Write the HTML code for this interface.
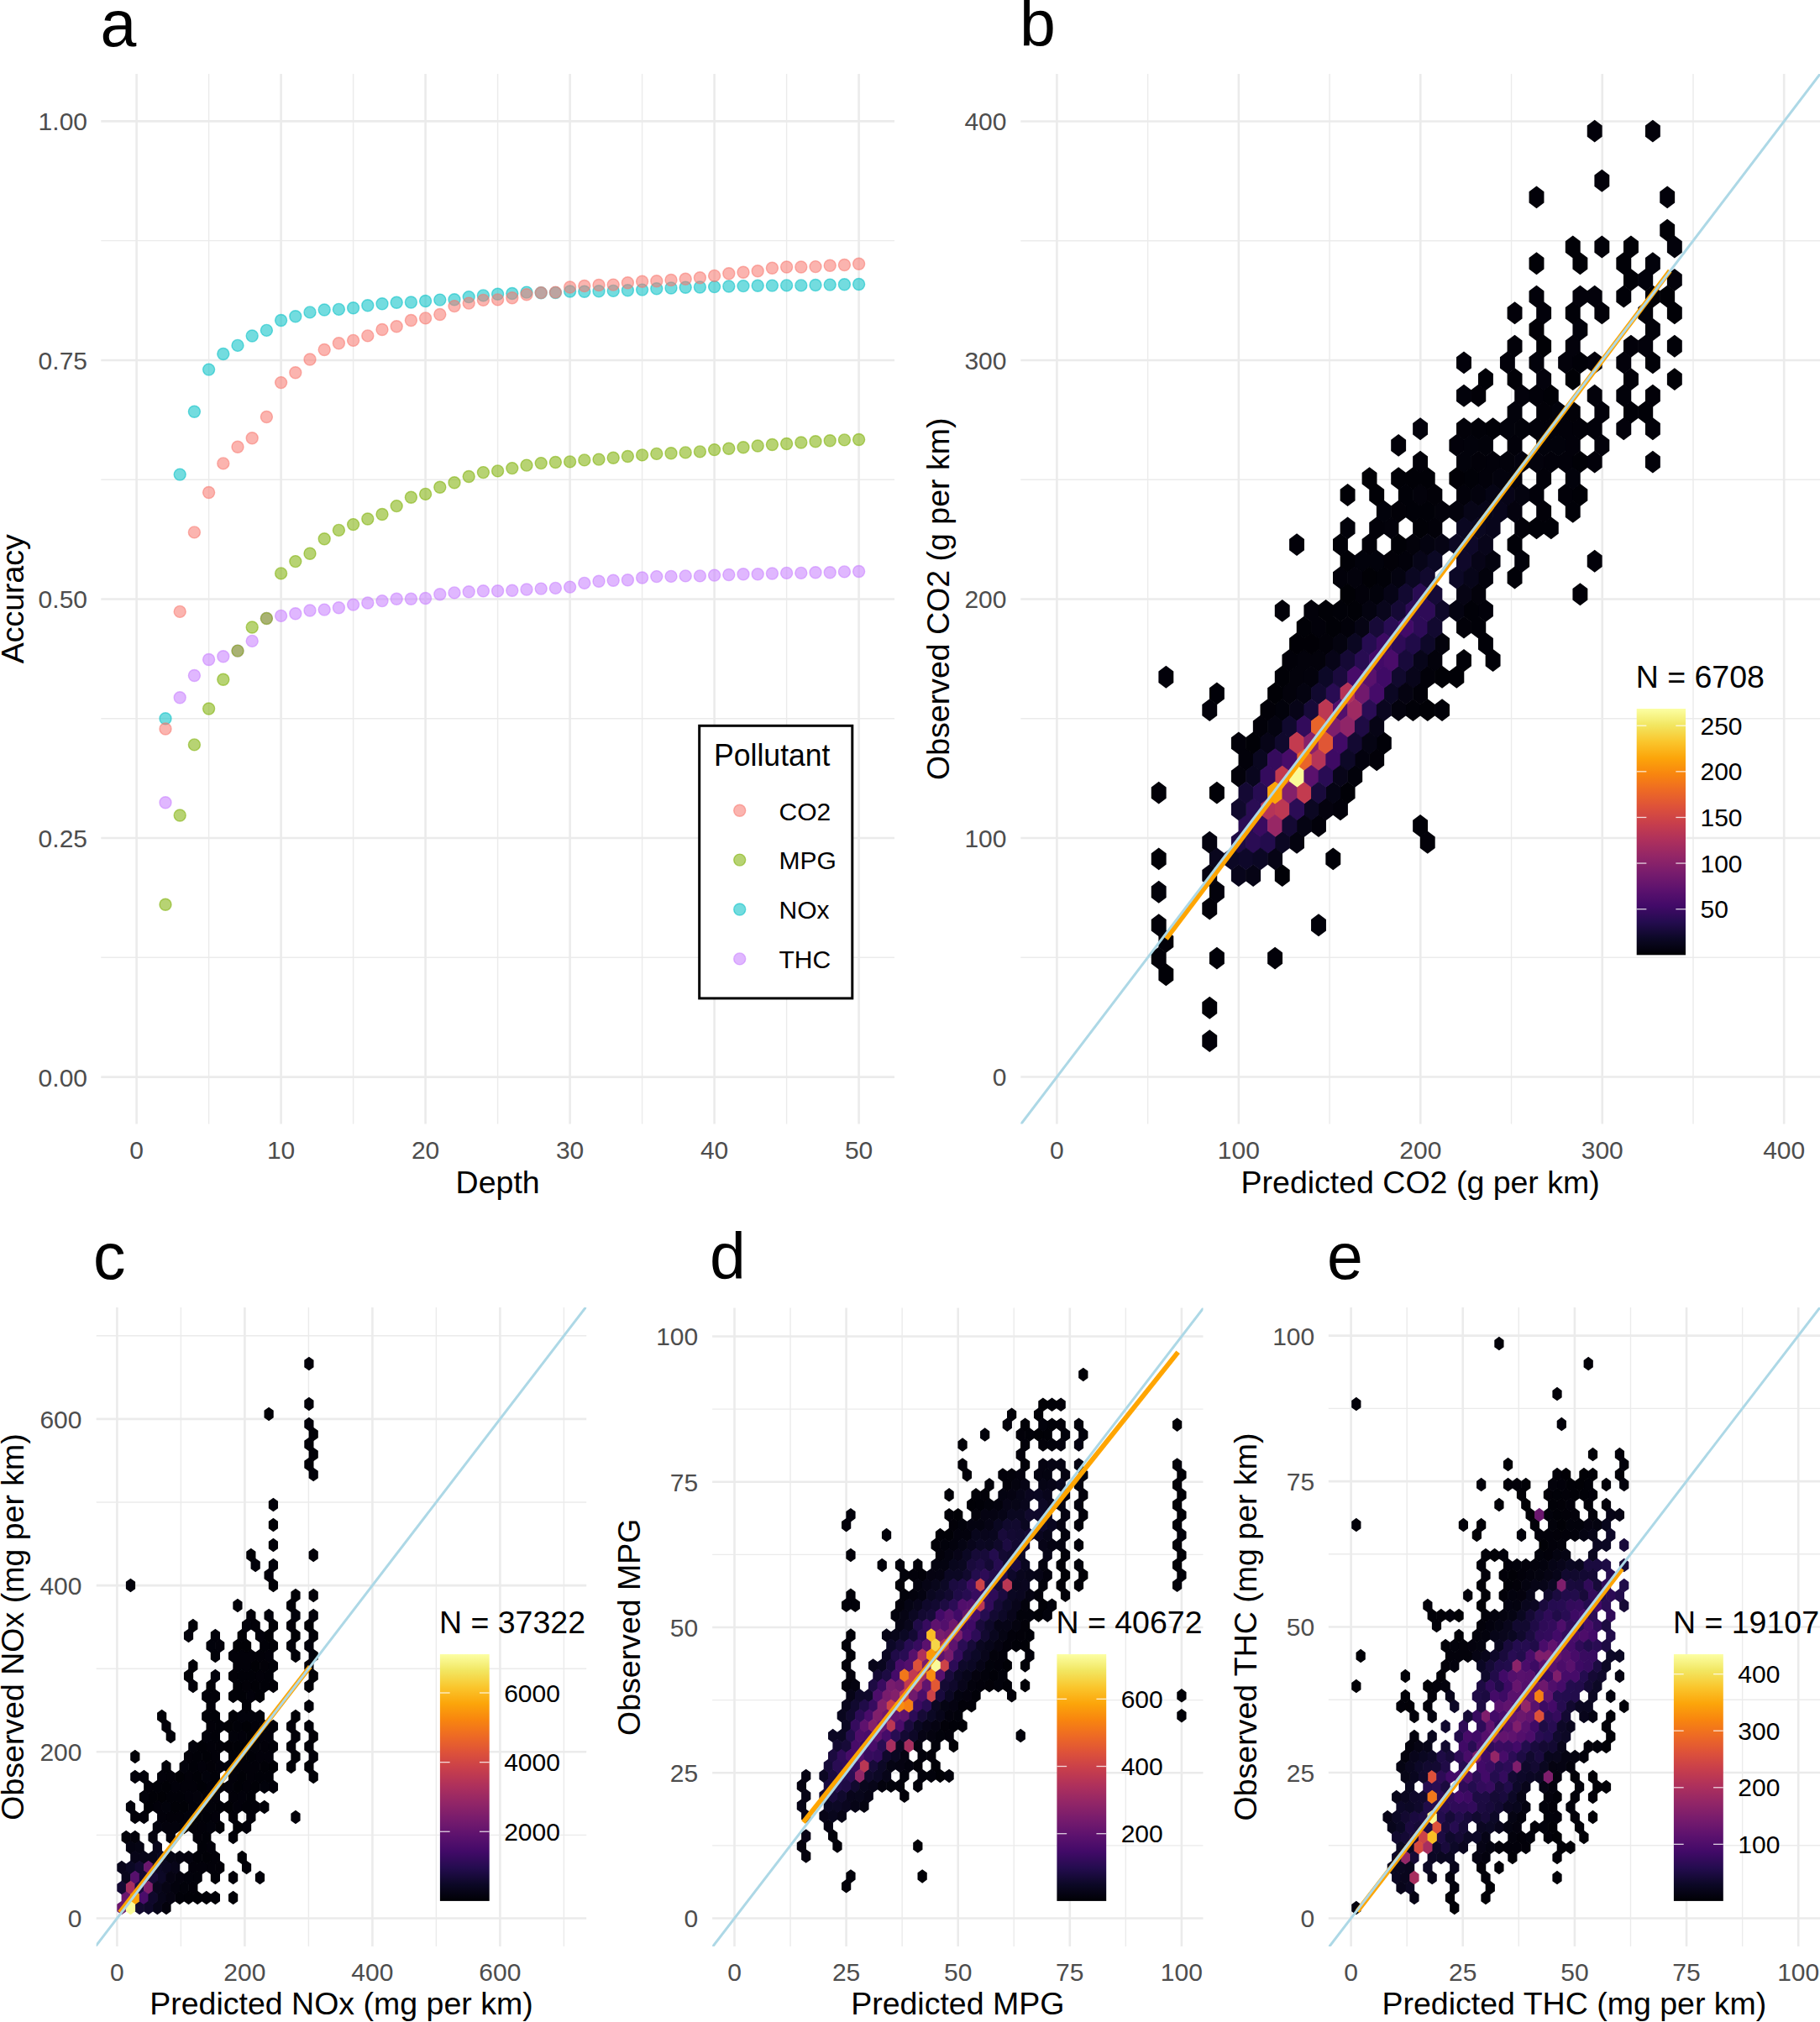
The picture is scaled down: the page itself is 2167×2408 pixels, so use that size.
<!DOCTYPE html>
<html><head><meta charset="utf-8"><title>Figure</title>
<style>html,body{margin:0;padding:0;background:#fff;}svg{display:block;}</style>
</head><body>
<svg width="2167" height="2408" viewBox="0 0 2167 2408" font-family='"Liberation Sans", Arial, Helvetica, sans-serif'>
<defs><linearGradient id="cb" x1="0" y1="0" x2="0" y2="1"><stop offset="0.0000" stop-color="#fcffa4"/><stop offset="0.0667" stop-color="#f2e661"/><stop offset="0.1333" stop-color="#fac62d"/><stop offset="0.2000" stop-color="#fca50a"/><stop offset="0.2667" stop-color="#f8850f"/><stop offset="0.3333" stop-color="#ed6925"/><stop offset="0.4000" stop-color="#dd513a"/><stop offset="0.4667" stop-color="#c73e4c"/><stop offset="0.5333" stop-color="#ae305c"/><stop offset="0.6000" stop-color="#932667"/><stop offset="0.6667" stop-color="#781c6d"/><stop offset="0.7333" stop-color="#5d126e"/><stop offset="0.8000" stop-color="#420a68"/><stop offset="0.8667" stop-color="#240c4f"/><stop offset="0.9333" stop-color="#0c0826"/><stop offset="1.0000" stop-color="#000004"/></linearGradient></defs>
<rect width="2167" height="2408" fill="#fff"/>
<line x1="248.60" y1="88" x2="248.60" y2="1338.5" stroke="#ebebeb" stroke-width="1.4"/>
<line x1="420.60" y1="88" x2="420.60" y2="1338.5" stroke="#ebebeb" stroke-width="1.4"/>
<line x1="592.60" y1="88" x2="592.60" y2="1338.5" stroke="#ebebeb" stroke-width="1.4"/>
<line x1="764.60" y1="88" x2="764.60" y2="1338.5" stroke="#ebebeb" stroke-width="1.4"/>
<line x1="936.60" y1="88" x2="936.60" y2="1338.5" stroke="#ebebeb" stroke-width="1.4"/>
<line x1="120.3" y1="1140.32" x2="1065" y2="1140.32" stroke="#ebebeb" stroke-width="1.4"/>
<line x1="120.3" y1="855.77" x2="1065" y2="855.77" stroke="#ebebeb" stroke-width="1.4"/>
<line x1="120.3" y1="571.22" x2="1065" y2="571.22" stroke="#ebebeb" stroke-width="1.4"/>
<line x1="120.3" y1="286.67" x2="1065" y2="286.67" stroke="#ebebeb" stroke-width="1.4"/>
<line x1="162.60" y1="88" x2="162.60" y2="1338.5" stroke="#ebebeb" stroke-width="2.6"/>
<line x1="334.60" y1="88" x2="334.60" y2="1338.5" stroke="#ebebeb" stroke-width="2.6"/>
<line x1="506.60" y1="88" x2="506.60" y2="1338.5" stroke="#ebebeb" stroke-width="2.6"/>
<line x1="678.60" y1="88" x2="678.60" y2="1338.5" stroke="#ebebeb" stroke-width="2.6"/>
<line x1="850.60" y1="88" x2="850.60" y2="1338.5" stroke="#ebebeb" stroke-width="2.6"/>
<line x1="1022.60" y1="88" x2="1022.60" y2="1338.5" stroke="#ebebeb" stroke-width="2.6"/>
<line x1="120.3" y1="1282.60" x2="1065" y2="1282.60" stroke="#ebebeb" stroke-width="2.6"/>
<line x1="120.3" y1="998.05" x2="1065" y2="998.05" stroke="#ebebeb" stroke-width="2.6"/>
<line x1="120.3" y1="713.50" x2="1065" y2="713.50" stroke="#ebebeb" stroke-width="2.6"/>
<line x1="120.3" y1="428.95" x2="1065" y2="428.95" stroke="#ebebeb" stroke-width="2.6"/>
<line x1="120.3" y1="144.40" x2="1065" y2="144.40" stroke="#ebebeb" stroke-width="2.6"/>
<text x="162.60" y="1379.8" font-size="30" fill="#4d4d4d" text-anchor="middle">0</text>
<text x="334.60" y="1379.8" font-size="30" fill="#4d4d4d" text-anchor="middle">10</text>
<text x="506.60" y="1379.8" font-size="30" fill="#4d4d4d" text-anchor="middle">20</text>
<text x="678.60" y="1379.8" font-size="30" fill="#4d4d4d" text-anchor="middle">30</text>
<text x="850.60" y="1379.8" font-size="30" fill="#4d4d4d" text-anchor="middle">40</text>
<text x="1022.60" y="1379.8" font-size="30" fill="#4d4d4d" text-anchor="middle">50</text>
<text x="104" y="1293.50" font-size="30" fill="#4d4d4d" text-anchor="end">0.00</text>
<text x="104" y="1008.95" font-size="30" fill="#4d4d4d" text-anchor="end">0.25</text>
<text x="104" y="724.40" font-size="30" fill="#4d4d4d" text-anchor="end">0.50</text>
<text x="104" y="439.85" font-size="30" fill="#4d4d4d" text-anchor="end">0.75</text>
<text x="104" y="155.30" font-size="30" fill="#4d4d4d" text-anchor="end">1.00</text>
<text x="592.65" y="1421" font-size="37.5" fill="#000" text-anchor="middle">Depth</text>
<text transform="translate(27.7,713.25) rotate(-90)" x="0" y="0" font-size="37.5" fill="#000" text-anchor="middle">Accuracy</text>
<text x="119.5" y="54.5" font-size="77" fill="#000">a</text>
<circle cx="197.00" cy="955.70" r="7.0" fill="#C77CFF" fill-opacity="0.55" stroke="#C77CFF" stroke-opacity="0.55" stroke-width="1.4"/>
<circle cx="214.20" cy="830.80" r="7.0" fill="#C77CFF" fill-opacity="0.55" stroke="#C77CFF" stroke-opacity="0.55" stroke-width="1.4"/>
<circle cx="231.40" cy="804.50" r="7.0" fill="#C77CFF" fill-opacity="0.55" stroke="#C77CFF" stroke-opacity="0.55" stroke-width="1.4"/>
<circle cx="248.60" cy="785.50" r="7.0" fill="#C77CFF" fill-opacity="0.55" stroke="#C77CFF" stroke-opacity="0.55" stroke-width="1.4"/>
<circle cx="265.80" cy="781.70" r="7.0" fill="#C77CFF" fill-opacity="0.55" stroke="#C77CFF" stroke-opacity="0.55" stroke-width="1.4"/>
<circle cx="283.00" cy="775.10" r="7.0" fill="#C77CFF" fill-opacity="0.55" stroke="#C77CFF" stroke-opacity="0.55" stroke-width="1.4"/>
<circle cx="300.20" cy="763.40" r="7.0" fill="#C77CFF" fill-opacity="0.55" stroke="#C77CFF" stroke-opacity="0.55" stroke-width="1.4"/>
<circle cx="317.40" cy="736.40" r="7.0" fill="#C77CFF" fill-opacity="0.55" stroke="#C77CFF" stroke-opacity="0.55" stroke-width="1.4"/>
<circle cx="334.60" cy="733.40" r="7.0" fill="#C77CFF" fill-opacity="0.55" stroke="#C77CFF" stroke-opacity="0.55" stroke-width="1.4"/>
<circle cx="351.80" cy="730.80" r="7.0" fill="#C77CFF" fill-opacity="0.55" stroke="#C77CFF" stroke-opacity="0.55" stroke-width="1.4"/>
<circle cx="369.00" cy="727.00" r="7.0" fill="#C77CFF" fill-opacity="0.55" stroke="#C77CFF" stroke-opacity="0.55" stroke-width="1.4"/>
<circle cx="386.20" cy="726.10" r="7.0" fill="#C77CFF" fill-opacity="0.55" stroke="#C77CFF" stroke-opacity="0.55" stroke-width="1.4"/>
<circle cx="403.40" cy="723.80" r="7.0" fill="#C77CFF" fill-opacity="0.55" stroke="#C77CFF" stroke-opacity="0.55" stroke-width="1.4"/>
<circle cx="420.60" cy="720.10" r="7.0" fill="#C77CFF" fill-opacity="0.55" stroke="#C77CFF" stroke-opacity="0.55" stroke-width="1.4"/>
<circle cx="437.80" cy="718.00" r="7.0" fill="#C77CFF" fill-opacity="0.55" stroke="#C77CFF" stroke-opacity="0.55" stroke-width="1.4"/>
<circle cx="455.00" cy="715.60" r="7.0" fill="#C77CFF" fill-opacity="0.55" stroke="#C77CFF" stroke-opacity="0.55" stroke-width="1.4"/>
<circle cx="472.20" cy="713.20" r="7.0" fill="#C77CFF" fill-opacity="0.55" stroke="#C77CFF" stroke-opacity="0.55" stroke-width="1.4"/>
<circle cx="489.40" cy="713.20" r="7.0" fill="#C77CFF" fill-opacity="0.55" stroke="#C77CFF" stroke-opacity="0.55" stroke-width="1.4"/>
<circle cx="506.60" cy="712.50" r="7.0" fill="#C77CFF" fill-opacity="0.55" stroke="#C77CFF" stroke-opacity="0.55" stroke-width="1.4"/>
<circle cx="523.80" cy="707.70" r="7.0" fill="#C77CFF" fill-opacity="0.55" stroke="#C77CFF" stroke-opacity="0.55" stroke-width="1.4"/>
<circle cx="541.00" cy="705.90" r="7.0" fill="#C77CFF" fill-opacity="0.55" stroke="#C77CFF" stroke-opacity="0.55" stroke-width="1.4"/>
<circle cx="558.20" cy="704.80" r="7.0" fill="#C77CFF" fill-opacity="0.55" stroke="#C77CFF" stroke-opacity="0.55" stroke-width="1.4"/>
<circle cx="575.40" cy="703.70" r="7.0" fill="#C77CFF" fill-opacity="0.55" stroke="#C77CFF" stroke-opacity="0.55" stroke-width="1.4"/>
<circle cx="592.60" cy="703.70" r="7.0" fill="#C77CFF" fill-opacity="0.55" stroke="#C77CFF" stroke-opacity="0.55" stroke-width="1.4"/>
<circle cx="609.80" cy="703.30" r="7.0" fill="#C77CFF" fill-opacity="0.55" stroke="#C77CFF" stroke-opacity="0.55" stroke-width="1.4"/>
<circle cx="627.00" cy="702.00" r="7.0" fill="#C77CFF" fill-opacity="0.55" stroke="#C77CFF" stroke-opacity="0.55" stroke-width="1.4"/>
<circle cx="644.20" cy="701.10" r="7.0" fill="#C77CFF" fill-opacity="0.55" stroke="#C77CFF" stroke-opacity="0.55" stroke-width="1.4"/>
<circle cx="661.40" cy="700.40" r="7.0" fill="#C77CFF" fill-opacity="0.55" stroke="#C77CFF" stroke-opacity="0.55" stroke-width="1.4"/>
<circle cx="678.60" cy="699.10" r="7.0" fill="#C77CFF" fill-opacity="0.55" stroke="#C77CFF" stroke-opacity="0.55" stroke-width="1.4"/>
<circle cx="695.80" cy="694.40" r="7.0" fill="#C77CFF" fill-opacity="0.55" stroke="#C77CFF" stroke-opacity="0.55" stroke-width="1.4"/>
<circle cx="713.00" cy="692.20" r="7.0" fill="#C77CFF" fill-opacity="0.55" stroke="#C77CFF" stroke-opacity="0.55" stroke-width="1.4"/>
<circle cx="730.20" cy="691.20" r="7.0" fill="#C77CFF" fill-opacity="0.55" stroke="#C77CFF" stroke-opacity="0.55" stroke-width="1.4"/>
<circle cx="747.40" cy="690.70" r="7.0" fill="#C77CFF" fill-opacity="0.55" stroke="#C77CFF" stroke-opacity="0.55" stroke-width="1.4"/>
<circle cx="764.60" cy="688.00" r="7.0" fill="#C77CFF" fill-opacity="0.55" stroke="#C77CFF" stroke-opacity="0.55" stroke-width="1.4"/>
<circle cx="781.80" cy="686.60" r="7.0" fill="#C77CFF" fill-opacity="0.55" stroke="#C77CFF" stroke-opacity="0.55" stroke-width="1.4"/>
<circle cx="799.00" cy="686.40" r="7.0" fill="#C77CFF" fill-opacity="0.55" stroke="#C77CFF" stroke-opacity="0.55" stroke-width="1.4"/>
<circle cx="816.20" cy="685.90" r="7.0" fill="#C77CFF" fill-opacity="0.55" stroke="#C77CFF" stroke-opacity="0.55" stroke-width="1.4"/>
<circle cx="833.40" cy="685.90" r="7.0" fill="#C77CFF" fill-opacity="0.55" stroke="#C77CFF" stroke-opacity="0.55" stroke-width="1.4"/>
<circle cx="850.60" cy="685.10" r="7.0" fill="#C77CFF" fill-opacity="0.55" stroke="#C77CFF" stroke-opacity="0.55" stroke-width="1.4"/>
<circle cx="867.80" cy="684.50" r="7.0" fill="#C77CFF" fill-opacity="0.55" stroke="#C77CFF" stroke-opacity="0.55" stroke-width="1.4"/>
<circle cx="885.00" cy="683.80" r="7.0" fill="#C77CFF" fill-opacity="0.55" stroke="#C77CFF" stroke-opacity="0.55" stroke-width="1.4"/>
<circle cx="902.20" cy="683.80" r="7.0" fill="#C77CFF" fill-opacity="0.55" stroke="#C77CFF" stroke-opacity="0.55" stroke-width="1.4"/>
<circle cx="919.40" cy="683.00" r="7.0" fill="#C77CFF" fill-opacity="0.55" stroke="#C77CFF" stroke-opacity="0.55" stroke-width="1.4"/>
<circle cx="936.60" cy="682.40" r="7.0" fill="#C77CFF" fill-opacity="0.55" stroke="#C77CFF" stroke-opacity="0.55" stroke-width="1.4"/>
<circle cx="953.80" cy="682.40" r="7.0" fill="#C77CFF" fill-opacity="0.55" stroke="#C77CFF" stroke-opacity="0.55" stroke-width="1.4"/>
<circle cx="971.00" cy="681.80" r="7.0" fill="#C77CFF" fill-opacity="0.55" stroke="#C77CFF" stroke-opacity="0.55" stroke-width="1.4"/>
<circle cx="988.20" cy="681.80" r="7.0" fill="#C77CFF" fill-opacity="0.55" stroke="#C77CFF" stroke-opacity="0.55" stroke-width="1.4"/>
<circle cx="1005.40" cy="680.90" r="7.0" fill="#C77CFF" fill-opacity="0.55" stroke="#C77CFF" stroke-opacity="0.55" stroke-width="1.4"/>
<circle cx="1022.60" cy="680.50" r="7.0" fill="#C77CFF" fill-opacity="0.55" stroke="#C77CFF" stroke-opacity="0.55" stroke-width="1.4"/>
<circle cx="197.00" cy="855.80" r="7.0" fill="#00BFC4" fill-opacity="0.55" stroke="#00BFC4" stroke-opacity="0.55" stroke-width="1.4"/>
<circle cx="214.20" cy="565.10" r="7.0" fill="#00BFC4" fill-opacity="0.55" stroke="#00BFC4" stroke-opacity="0.55" stroke-width="1.4"/>
<circle cx="231.40" cy="490.30" r="7.0" fill="#00BFC4" fill-opacity="0.55" stroke="#00BFC4" stroke-opacity="0.55" stroke-width="1.4"/>
<circle cx="248.60" cy="440.10" r="7.0" fill="#00BFC4" fill-opacity="0.55" stroke="#00BFC4" stroke-opacity="0.55" stroke-width="1.4"/>
<circle cx="265.80" cy="421.50" r="7.0" fill="#00BFC4" fill-opacity="0.55" stroke="#00BFC4" stroke-opacity="0.55" stroke-width="1.4"/>
<circle cx="283.00" cy="411.40" r="7.0" fill="#00BFC4" fill-opacity="0.55" stroke="#00BFC4" stroke-opacity="0.55" stroke-width="1.4"/>
<circle cx="300.20" cy="400.00" r="7.0" fill="#00BFC4" fill-opacity="0.55" stroke="#00BFC4" stroke-opacity="0.55" stroke-width="1.4"/>
<circle cx="317.40" cy="393.40" r="7.0" fill="#00BFC4" fill-opacity="0.55" stroke="#00BFC4" stroke-opacity="0.55" stroke-width="1.4"/>
<circle cx="334.60" cy="381.50" r="7.0" fill="#00BFC4" fill-opacity="0.55" stroke="#00BFC4" stroke-opacity="0.55" stroke-width="1.4"/>
<circle cx="351.80" cy="376.70" r="7.0" fill="#00BFC4" fill-opacity="0.55" stroke="#00BFC4" stroke-opacity="0.55" stroke-width="1.4"/>
<circle cx="369.00" cy="371.90" r="7.0" fill="#00BFC4" fill-opacity="0.55" stroke="#00BFC4" stroke-opacity="0.55" stroke-width="1.4"/>
<circle cx="386.20" cy="369.00" r="7.0" fill="#00BFC4" fill-opacity="0.55" stroke="#00BFC4" stroke-opacity="0.55" stroke-width="1.4"/>
<circle cx="403.40" cy="368.40" r="7.0" fill="#00BFC4" fill-opacity="0.55" stroke="#00BFC4" stroke-opacity="0.55" stroke-width="1.4"/>
<circle cx="420.60" cy="366.80" r="7.0" fill="#00BFC4" fill-opacity="0.55" stroke="#00BFC4" stroke-opacity="0.55" stroke-width="1.4"/>
<circle cx="437.80" cy="363.70" r="7.0" fill="#00BFC4" fill-opacity="0.55" stroke="#00BFC4" stroke-opacity="0.55" stroke-width="1.4"/>
<circle cx="455.00" cy="361.80" r="7.0" fill="#00BFC4" fill-opacity="0.55" stroke="#00BFC4" stroke-opacity="0.55" stroke-width="1.4"/>
<circle cx="472.20" cy="360.20" r="7.0" fill="#00BFC4" fill-opacity="0.55" stroke="#00BFC4" stroke-opacity="0.55" stroke-width="1.4"/>
<circle cx="489.40" cy="360.00" r="7.0" fill="#00BFC4" fill-opacity="0.55" stroke="#00BFC4" stroke-opacity="0.55" stroke-width="1.4"/>
<circle cx="506.60" cy="358.50" r="7.0" fill="#00BFC4" fill-opacity="0.55" stroke="#00BFC4" stroke-opacity="0.55" stroke-width="1.4"/>
<circle cx="523.80" cy="357.10" r="7.0" fill="#00BFC4" fill-opacity="0.55" stroke="#00BFC4" stroke-opacity="0.55" stroke-width="1.4"/>
<circle cx="541.00" cy="356.70" r="7.0" fill="#00BFC4" fill-opacity="0.55" stroke="#00BFC4" stroke-opacity="0.55" stroke-width="1.4"/>
<circle cx="558.20" cy="353.60" r="7.0" fill="#00BFC4" fill-opacity="0.55" stroke="#00BFC4" stroke-opacity="0.55" stroke-width="1.4"/>
<circle cx="575.40" cy="351.90" r="7.0" fill="#00BFC4" fill-opacity="0.55" stroke="#00BFC4" stroke-opacity="0.55" stroke-width="1.4"/>
<circle cx="592.60" cy="350.30" r="7.0" fill="#00BFC4" fill-opacity="0.55" stroke="#00BFC4" stroke-opacity="0.55" stroke-width="1.4"/>
<circle cx="609.80" cy="349.50" r="7.0" fill="#00BFC4" fill-opacity="0.55" stroke="#00BFC4" stroke-opacity="0.55" stroke-width="1.4"/>
<circle cx="627.00" cy="348.10" r="7.0" fill="#00BFC4" fill-opacity="0.55" stroke="#00BFC4" stroke-opacity="0.55" stroke-width="1.4"/>
<circle cx="644.20" cy="348.80" r="7.0" fill="#00BFC4" fill-opacity="0.55" stroke="#00BFC4" stroke-opacity="0.55" stroke-width="1.4"/>
<circle cx="661.40" cy="348.60" r="7.0" fill="#00BFC4" fill-opacity="0.55" stroke="#00BFC4" stroke-opacity="0.55" stroke-width="1.4"/>
<circle cx="678.60" cy="347.00" r="7.0" fill="#00BFC4" fill-opacity="0.55" stroke="#00BFC4" stroke-opacity="0.55" stroke-width="1.4"/>
<circle cx="695.80" cy="347.20" r="7.0" fill="#00BFC4" fill-opacity="0.55" stroke="#00BFC4" stroke-opacity="0.55" stroke-width="1.4"/>
<circle cx="713.00" cy="346.80" r="7.0" fill="#00BFC4" fill-opacity="0.55" stroke="#00BFC4" stroke-opacity="0.55" stroke-width="1.4"/>
<circle cx="730.20" cy="346.40" r="7.0" fill="#00BFC4" fill-opacity="0.55" stroke="#00BFC4" stroke-opacity="0.55" stroke-width="1.4"/>
<circle cx="747.40" cy="345.80" r="7.0" fill="#00BFC4" fill-opacity="0.55" stroke="#00BFC4" stroke-opacity="0.55" stroke-width="1.4"/>
<circle cx="764.60" cy="345.10" r="7.0" fill="#00BFC4" fill-opacity="0.55" stroke="#00BFC4" stroke-opacity="0.55" stroke-width="1.4"/>
<circle cx="781.80" cy="343.70" r="7.0" fill="#00BFC4" fill-opacity="0.55" stroke="#00BFC4" stroke-opacity="0.55" stroke-width="1.4"/>
<circle cx="799.00" cy="343.00" r="7.0" fill="#00BFC4" fill-opacity="0.55" stroke="#00BFC4" stroke-opacity="0.55" stroke-width="1.4"/>
<circle cx="816.20" cy="342.20" r="7.0" fill="#00BFC4" fill-opacity="0.55" stroke="#00BFC4" stroke-opacity="0.55" stroke-width="1.4"/>
<circle cx="833.40" cy="342.00" r="7.0" fill="#00BFC4" fill-opacity="0.55" stroke="#00BFC4" stroke-opacity="0.55" stroke-width="1.4"/>
<circle cx="850.60" cy="341.60" r="7.0" fill="#00BFC4" fill-opacity="0.55" stroke="#00BFC4" stroke-opacity="0.55" stroke-width="1.4"/>
<circle cx="867.80" cy="341.00" r="7.0" fill="#00BFC4" fill-opacity="0.55" stroke="#00BFC4" stroke-opacity="0.55" stroke-width="1.4"/>
<circle cx="885.00" cy="340.60" r="7.0" fill="#00BFC4" fill-opacity="0.55" stroke="#00BFC4" stroke-opacity="0.55" stroke-width="1.4"/>
<circle cx="902.20" cy="340.30" r="7.0" fill="#00BFC4" fill-opacity="0.55" stroke="#00BFC4" stroke-opacity="0.55" stroke-width="1.4"/>
<circle cx="919.40" cy="340.10" r="7.0" fill="#00BFC4" fill-opacity="0.55" stroke="#00BFC4" stroke-opacity="0.55" stroke-width="1.4"/>
<circle cx="936.60" cy="339.90" r="7.0" fill="#00BFC4" fill-opacity="0.55" stroke="#00BFC4" stroke-opacity="0.55" stroke-width="1.4"/>
<circle cx="953.80" cy="339.90" r="7.0" fill="#00BFC4" fill-opacity="0.55" stroke="#00BFC4" stroke-opacity="0.55" stroke-width="1.4"/>
<circle cx="971.00" cy="339.50" r="7.0" fill="#00BFC4" fill-opacity="0.55" stroke="#00BFC4" stroke-opacity="0.55" stroke-width="1.4"/>
<circle cx="988.20" cy="339.10" r="7.0" fill="#00BFC4" fill-opacity="0.55" stroke="#00BFC4" stroke-opacity="0.55" stroke-width="1.4"/>
<circle cx="1005.40" cy="338.70" r="7.0" fill="#00BFC4" fill-opacity="0.55" stroke="#00BFC4" stroke-opacity="0.55" stroke-width="1.4"/>
<circle cx="1022.60" cy="338.50" r="7.0" fill="#00BFC4" fill-opacity="0.55" stroke="#00BFC4" stroke-opacity="0.55" stroke-width="1.4"/>
<circle cx="197.00" cy="1077.20" r="7.0" fill="#7CAE00" fill-opacity="0.55" stroke="#7CAE00" stroke-opacity="0.55" stroke-width="1.4"/>
<circle cx="214.20" cy="971.00" r="7.0" fill="#7CAE00" fill-opacity="0.55" stroke="#7CAE00" stroke-opacity="0.55" stroke-width="1.4"/>
<circle cx="231.40" cy="886.90" r="7.0" fill="#7CAE00" fill-opacity="0.55" stroke="#7CAE00" stroke-opacity="0.55" stroke-width="1.4"/>
<circle cx="248.60" cy="844.00" r="7.0" fill="#7CAE00" fill-opacity="0.55" stroke="#7CAE00" stroke-opacity="0.55" stroke-width="1.4"/>
<circle cx="265.80" cy="809.30" r="7.0" fill="#7CAE00" fill-opacity="0.55" stroke="#7CAE00" stroke-opacity="0.55" stroke-width="1.4"/>
<circle cx="283.00" cy="775.10" r="7.0" fill="#7CAE00" fill-opacity="0.55" stroke="#7CAE00" stroke-opacity="0.55" stroke-width="1.4"/>
<circle cx="300.20" cy="747.00" r="7.0" fill="#7CAE00" fill-opacity="0.55" stroke="#7CAE00" stroke-opacity="0.55" stroke-width="1.4"/>
<circle cx="317.40" cy="736.50" r="7.0" fill="#7CAE00" fill-opacity="0.55" stroke="#7CAE00" stroke-opacity="0.55" stroke-width="1.4"/>
<circle cx="334.60" cy="682.90" r="7.0" fill="#7CAE00" fill-opacity="0.55" stroke="#7CAE00" stroke-opacity="0.55" stroke-width="1.4"/>
<circle cx="351.80" cy="668.60" r="7.0" fill="#7CAE00" fill-opacity="0.55" stroke="#7CAE00" stroke-opacity="0.55" stroke-width="1.4"/>
<circle cx="369.00" cy="659.30" r="7.0" fill="#7CAE00" fill-opacity="0.55" stroke="#7CAE00" stroke-opacity="0.55" stroke-width="1.4"/>
<circle cx="386.20" cy="641.80" r="7.0" fill="#7CAE00" fill-opacity="0.55" stroke="#7CAE00" stroke-opacity="0.55" stroke-width="1.4"/>
<circle cx="403.40" cy="631.40" r="7.0" fill="#7CAE00" fill-opacity="0.55" stroke="#7CAE00" stroke-opacity="0.55" stroke-width="1.4"/>
<circle cx="420.60" cy="624.60" r="7.0" fill="#7CAE00" fill-opacity="0.55" stroke="#7CAE00" stroke-opacity="0.55" stroke-width="1.4"/>
<circle cx="437.80" cy="618.00" r="7.0" fill="#7CAE00" fill-opacity="0.55" stroke="#7CAE00" stroke-opacity="0.55" stroke-width="1.4"/>
<circle cx="455.00" cy="612.50" r="7.0" fill="#7CAE00" fill-opacity="0.55" stroke="#7CAE00" stroke-opacity="0.55" stroke-width="1.4"/>
<circle cx="472.20" cy="602.60" r="7.0" fill="#7CAE00" fill-opacity="0.55" stroke="#7CAE00" stroke-opacity="0.55" stroke-width="1.4"/>
<circle cx="489.40" cy="592.30" r="7.0" fill="#7CAE00" fill-opacity="0.55" stroke="#7CAE00" stroke-opacity="0.55" stroke-width="1.4"/>
<circle cx="506.60" cy="588.40" r="7.0" fill="#7CAE00" fill-opacity="0.55" stroke="#7CAE00" stroke-opacity="0.55" stroke-width="1.4"/>
<circle cx="523.80" cy="580.20" r="7.0" fill="#7CAE00" fill-opacity="0.55" stroke="#7CAE00" stroke-opacity="0.55" stroke-width="1.4"/>
<circle cx="541.00" cy="574.70" r="7.0" fill="#7CAE00" fill-opacity="0.55" stroke="#7CAE00" stroke-opacity="0.55" stroke-width="1.4"/>
<circle cx="558.20" cy="567.50" r="7.0" fill="#7CAE00" fill-opacity="0.55" stroke="#7CAE00" stroke-opacity="0.55" stroke-width="1.4"/>
<circle cx="575.40" cy="562.60" r="7.0" fill="#7CAE00" fill-opacity="0.55" stroke="#7CAE00" stroke-opacity="0.55" stroke-width="1.4"/>
<circle cx="592.60" cy="560.90" r="7.0" fill="#7CAE00" fill-opacity="0.55" stroke="#7CAE00" stroke-opacity="0.55" stroke-width="1.4"/>
<circle cx="609.80" cy="557.60" r="7.0" fill="#7CAE00" fill-opacity="0.55" stroke="#7CAE00" stroke-opacity="0.55" stroke-width="1.4"/>
<circle cx="627.00" cy="554.10" r="7.0" fill="#7CAE00" fill-opacity="0.55" stroke="#7CAE00" stroke-opacity="0.55" stroke-width="1.4"/>
<circle cx="644.20" cy="551.60" r="7.0" fill="#7CAE00" fill-opacity="0.55" stroke="#7CAE00" stroke-opacity="0.55" stroke-width="1.4"/>
<circle cx="661.40" cy="550.50" r="7.0" fill="#7CAE00" fill-opacity="0.55" stroke="#7CAE00" stroke-opacity="0.55" stroke-width="1.4"/>
<circle cx="678.60" cy="549.90" r="7.0" fill="#7CAE00" fill-opacity="0.55" stroke="#7CAE00" stroke-opacity="0.55" stroke-width="1.4"/>
<circle cx="695.80" cy="547.90" r="7.0" fill="#7CAE00" fill-opacity="0.55" stroke="#7CAE00" stroke-opacity="0.55" stroke-width="1.4"/>
<circle cx="713.00" cy="547.10" r="7.0" fill="#7CAE00" fill-opacity="0.55" stroke="#7CAE00" stroke-opacity="0.55" stroke-width="1.4"/>
<circle cx="730.20" cy="545.20" r="7.0" fill="#7CAE00" fill-opacity="0.55" stroke="#7CAE00" stroke-opacity="0.55" stroke-width="1.4"/>
<circle cx="747.40" cy="543.50" r="7.0" fill="#7CAE00" fill-opacity="0.55" stroke="#7CAE00" stroke-opacity="0.55" stroke-width="1.4"/>
<circle cx="764.60" cy="541.90" r="7.0" fill="#7CAE00" fill-opacity="0.55" stroke="#7CAE00" stroke-opacity="0.55" stroke-width="1.4"/>
<circle cx="781.80" cy="540.40" r="7.0" fill="#7CAE00" fill-opacity="0.55" stroke="#7CAE00" stroke-opacity="0.55" stroke-width="1.4"/>
<circle cx="799.00" cy="539.80" r="7.0" fill="#7CAE00" fill-opacity="0.55" stroke="#7CAE00" stroke-opacity="0.55" stroke-width="1.4"/>
<circle cx="816.20" cy="538.90" r="7.0" fill="#7CAE00" fill-opacity="0.55" stroke="#7CAE00" stroke-opacity="0.55" stroke-width="1.4"/>
<circle cx="833.40" cy="537.90" r="7.0" fill="#7CAE00" fill-opacity="0.55" stroke="#7CAE00" stroke-opacity="0.55" stroke-width="1.4"/>
<circle cx="850.60" cy="535.60" r="7.0" fill="#7CAE00" fill-opacity="0.55" stroke="#7CAE00" stroke-opacity="0.55" stroke-width="1.4"/>
<circle cx="867.80" cy="534.30" r="7.0" fill="#7CAE00" fill-opacity="0.55" stroke="#7CAE00" stroke-opacity="0.55" stroke-width="1.4"/>
<circle cx="885.00" cy="532.70" r="7.0" fill="#7CAE00" fill-opacity="0.55" stroke="#7CAE00" stroke-opacity="0.55" stroke-width="1.4"/>
<circle cx="902.20" cy="531.00" r="7.0" fill="#7CAE00" fill-opacity="0.55" stroke="#7CAE00" stroke-opacity="0.55" stroke-width="1.4"/>
<circle cx="919.40" cy="529.50" r="7.0" fill="#7CAE00" fill-opacity="0.55" stroke="#7CAE00" stroke-opacity="0.55" stroke-width="1.4"/>
<circle cx="936.60" cy="528.50" r="7.0" fill="#7CAE00" fill-opacity="0.55" stroke="#7CAE00" stroke-opacity="0.55" stroke-width="1.4"/>
<circle cx="953.80" cy="527.00" r="7.0" fill="#7CAE00" fill-opacity="0.55" stroke="#7CAE00" stroke-opacity="0.55" stroke-width="1.4"/>
<circle cx="971.00" cy="525.80" r="7.0" fill="#7CAE00" fill-opacity="0.55" stroke="#7CAE00" stroke-opacity="0.55" stroke-width="1.4"/>
<circle cx="988.20" cy="524.70" r="7.0" fill="#7CAE00" fill-opacity="0.55" stroke="#7CAE00" stroke-opacity="0.55" stroke-width="1.4"/>
<circle cx="1005.40" cy="523.90" r="7.0" fill="#7CAE00" fill-opacity="0.55" stroke="#7CAE00" stroke-opacity="0.55" stroke-width="1.4"/>
<circle cx="1022.60" cy="523.50" r="7.0" fill="#7CAE00" fill-opacity="0.55" stroke="#7CAE00" stroke-opacity="0.55" stroke-width="1.4"/>
<circle cx="197.00" cy="868.00" r="7.0" fill="#F8766D" fill-opacity="0.55" stroke="#F8766D" stroke-opacity="0.55" stroke-width="1.4"/>
<circle cx="214.20" cy="728.40" r="7.0" fill="#F8766D" fill-opacity="0.55" stroke="#F8766D" stroke-opacity="0.55" stroke-width="1.4"/>
<circle cx="231.40" cy="633.90" r="7.0" fill="#F8766D" fill-opacity="0.55" stroke="#F8766D" stroke-opacity="0.55" stroke-width="1.4"/>
<circle cx="248.60" cy="586.50" r="7.0" fill="#F8766D" fill-opacity="0.55" stroke="#F8766D" stroke-opacity="0.55" stroke-width="1.4"/>
<circle cx="265.80" cy="551.90" r="7.0" fill="#F8766D" fill-opacity="0.55" stroke="#F8766D" stroke-opacity="0.55" stroke-width="1.4"/>
<circle cx="283.00" cy="532.20" r="7.0" fill="#F8766D" fill-opacity="0.55" stroke="#F8766D" stroke-opacity="0.55" stroke-width="1.4"/>
<circle cx="300.20" cy="521.80" r="7.0" fill="#F8766D" fill-opacity="0.55" stroke="#F8766D" stroke-opacity="0.55" stroke-width="1.4"/>
<circle cx="317.40" cy="496.50" r="7.0" fill="#F8766D" fill-opacity="0.55" stroke="#F8766D" stroke-opacity="0.55" stroke-width="1.4"/>
<circle cx="334.60" cy="455.60" r="7.0" fill="#F8766D" fill-opacity="0.55" stroke="#F8766D" stroke-opacity="0.55" stroke-width="1.4"/>
<circle cx="351.80" cy="443.80" r="7.0" fill="#F8766D" fill-opacity="0.55" stroke="#F8766D" stroke-opacity="0.55" stroke-width="1.4"/>
<circle cx="369.00" cy="428.00" r="7.0" fill="#F8766D" fill-opacity="0.55" stroke="#F8766D" stroke-opacity="0.55" stroke-width="1.4"/>
<circle cx="386.20" cy="416.50" r="7.0" fill="#F8766D" fill-opacity="0.55" stroke="#F8766D" stroke-opacity="0.55" stroke-width="1.4"/>
<circle cx="403.40" cy="408.80" r="7.0" fill="#F8766D" fill-opacity="0.55" stroke="#F8766D" stroke-opacity="0.55" stroke-width="1.4"/>
<circle cx="420.60" cy="405.40" r="7.0" fill="#F8766D" fill-opacity="0.55" stroke="#F8766D" stroke-opacity="0.55" stroke-width="1.4"/>
<circle cx="437.80" cy="399.90" r="7.0" fill="#F8766D" fill-opacity="0.55" stroke="#F8766D" stroke-opacity="0.55" stroke-width="1.4"/>
<circle cx="455.00" cy="392.50" r="7.0" fill="#F8766D" fill-opacity="0.55" stroke="#F8766D" stroke-opacity="0.55" stroke-width="1.4"/>
<circle cx="472.20" cy="388.80" r="7.0" fill="#F8766D" fill-opacity="0.55" stroke="#F8766D" stroke-opacity="0.55" stroke-width="1.4"/>
<circle cx="489.40" cy="381.50" r="7.0" fill="#F8766D" fill-opacity="0.55" stroke="#F8766D" stroke-opacity="0.55" stroke-width="1.4"/>
<circle cx="506.60" cy="378.90" r="7.0" fill="#F8766D" fill-opacity="0.55" stroke="#F8766D" stroke-opacity="0.55" stroke-width="1.4"/>
<circle cx="523.80" cy="374.50" r="7.0" fill="#F8766D" fill-opacity="0.55" stroke="#F8766D" stroke-opacity="0.55" stroke-width="1.4"/>
<circle cx="541.00" cy="364.60" r="7.0" fill="#F8766D" fill-opacity="0.55" stroke="#F8766D" stroke-opacity="0.55" stroke-width="1.4"/>
<circle cx="558.20" cy="361.10" r="7.0" fill="#F8766D" fill-opacity="0.55" stroke="#F8766D" stroke-opacity="0.55" stroke-width="1.4"/>
<circle cx="575.40" cy="357.40" r="7.0" fill="#F8766D" fill-opacity="0.55" stroke="#F8766D" stroke-opacity="0.55" stroke-width="1.4"/>
<circle cx="592.60" cy="356.90" r="7.0" fill="#F8766D" fill-opacity="0.55" stroke="#F8766D" stroke-opacity="0.55" stroke-width="1.4"/>
<circle cx="609.80" cy="354.70" r="7.0" fill="#F8766D" fill-opacity="0.55" stroke="#F8766D" stroke-opacity="0.55" stroke-width="1.4"/>
<circle cx="627.00" cy="350.80" r="7.0" fill="#F8766D" fill-opacity="0.55" stroke="#F8766D" stroke-opacity="0.55" stroke-width="1.4"/>
<circle cx="644.20" cy="348.60" r="7.0" fill="#F8766D" fill-opacity="0.55" stroke="#F8766D" stroke-opacity="0.55" stroke-width="1.4"/>
<circle cx="661.40" cy="348.10" r="7.0" fill="#F8766D" fill-opacity="0.55" stroke="#F8766D" stroke-opacity="0.55" stroke-width="1.4"/>
<circle cx="678.60" cy="342.00" r="7.0" fill="#F8766D" fill-opacity="0.55" stroke="#F8766D" stroke-opacity="0.55" stroke-width="1.4"/>
<circle cx="695.80" cy="340.50" r="7.0" fill="#F8766D" fill-opacity="0.55" stroke="#F8766D" stroke-opacity="0.55" stroke-width="1.4"/>
<circle cx="713.00" cy="339.50" r="7.0" fill="#F8766D" fill-opacity="0.55" stroke="#F8766D" stroke-opacity="0.55" stroke-width="1.4"/>
<circle cx="730.20" cy="339.10" r="7.0" fill="#F8766D" fill-opacity="0.55" stroke="#F8766D" stroke-opacity="0.55" stroke-width="1.4"/>
<circle cx="747.40" cy="336.80" r="7.0" fill="#F8766D" fill-opacity="0.55" stroke="#F8766D" stroke-opacity="0.55" stroke-width="1.4"/>
<circle cx="764.60" cy="335.30" r="7.0" fill="#F8766D" fill-opacity="0.55" stroke="#F8766D" stroke-opacity="0.55" stroke-width="1.4"/>
<circle cx="781.80" cy="334.70" r="7.0" fill="#F8766D" fill-opacity="0.55" stroke="#F8766D" stroke-opacity="0.55" stroke-width="1.4"/>
<circle cx="799.00" cy="333.50" r="7.0" fill="#F8766D" fill-opacity="0.55" stroke="#F8766D" stroke-opacity="0.55" stroke-width="1.4"/>
<circle cx="816.20" cy="332.20" r="7.0" fill="#F8766D" fill-opacity="0.55" stroke="#F8766D" stroke-opacity="0.55" stroke-width="1.4"/>
<circle cx="833.40" cy="330.70" r="7.0" fill="#F8766D" fill-opacity="0.55" stroke="#F8766D" stroke-opacity="0.55" stroke-width="1.4"/>
<circle cx="850.60" cy="328.40" r="7.0" fill="#F8766D" fill-opacity="0.55" stroke="#F8766D" stroke-opacity="0.55" stroke-width="1.4"/>
<circle cx="867.80" cy="325.70" r="7.0" fill="#F8766D" fill-opacity="0.55" stroke="#F8766D" stroke-opacity="0.55" stroke-width="1.4"/>
<circle cx="885.00" cy="324.30" r="7.0" fill="#F8766D" fill-opacity="0.55" stroke="#F8766D" stroke-opacity="0.55" stroke-width="1.4"/>
<circle cx="902.20" cy="322.80" r="7.0" fill="#F8766D" fill-opacity="0.55" stroke="#F8766D" stroke-opacity="0.55" stroke-width="1.4"/>
<circle cx="919.40" cy="319.30" r="7.0" fill="#F8766D" fill-opacity="0.55" stroke="#F8766D" stroke-opacity="0.55" stroke-width="1.4"/>
<circle cx="936.60" cy="318.00" r="7.0" fill="#F8766D" fill-opacity="0.55" stroke="#F8766D" stroke-opacity="0.55" stroke-width="1.4"/>
<circle cx="953.80" cy="318.00" r="7.0" fill="#F8766D" fill-opacity="0.55" stroke="#F8766D" stroke-opacity="0.55" stroke-width="1.4"/>
<circle cx="971.00" cy="317.60" r="7.0" fill="#F8766D" fill-opacity="0.55" stroke="#F8766D" stroke-opacity="0.55" stroke-width="1.4"/>
<circle cx="988.20" cy="316.30" r="7.0" fill="#F8766D" fill-opacity="0.55" stroke="#F8766D" stroke-opacity="0.55" stroke-width="1.4"/>
<circle cx="1005.40" cy="315.50" r="7.0" fill="#F8766D" fill-opacity="0.55" stroke="#F8766D" stroke-opacity="0.55" stroke-width="1.4"/>
<circle cx="1022.60" cy="314.20" r="7.0" fill="#F8766D" fill-opacity="0.55" stroke="#F8766D" stroke-opacity="0.55" stroke-width="1.4"/>
<rect x="832.7" y="864.3" width="182.1" height="324.6" fill="#fff" stroke="#000" stroke-width="3"/>
<text x="850" y="912" font-size="37.5" fill="#000" textLength="138.5" lengthAdjust="spacingAndGlyphs">Pollutant</text>
<circle cx="880.70" cy="965.20" r="7.0" fill="#F8766D" fill-opacity="0.55" stroke="#F8766D" stroke-opacity="0.55" stroke-width="1.4"/>
<text x="927.5" y="976.50" font-size="30" fill="#000">CO2</text>
<circle cx="880.70" cy="1024.10" r="7.0" fill="#7CAE00" fill-opacity="0.55" stroke="#7CAE00" stroke-opacity="0.55" stroke-width="1.4"/>
<text x="927.5" y="1035.40" font-size="30" fill="#000">MPG</text>
<circle cx="880.70" cy="1083.00" r="7.0" fill="#00BFC4" fill-opacity="0.55" stroke="#00BFC4" stroke-opacity="0.55" stroke-width="1.4"/>
<text x="927.5" y="1094.30" font-size="30" fill="#000">NOx</text>
<circle cx="880.70" cy="1141.90" r="7.0" fill="#C77CFF" fill-opacity="0.55" stroke="#C77CFF" stroke-opacity="0.55" stroke-width="1.4"/>
<text x="927.5" y="1153.20" font-size="30" fill="#000">THC</text>
<line x1="1366.62" y1="88" x2="1366.62" y2="1338.5" stroke="#ebebeb" stroke-width="1.4"/>
<line x1="1583.08" y1="88" x2="1583.08" y2="1338.5" stroke="#ebebeb" stroke-width="1.4"/>
<line x1="1799.53" y1="88" x2="1799.53" y2="1338.5" stroke="#ebebeb" stroke-width="1.4"/>
<line x1="2015.97" y1="88" x2="2015.97" y2="1338.5" stroke="#ebebeb" stroke-width="1.4"/>
<line x1="1215.3" y1="1140.25" x2="2167" y2="1140.25" stroke="#ebebeb" stroke-width="1.4"/>
<line x1="1215.3" y1="855.75" x2="2167" y2="855.75" stroke="#ebebeb" stroke-width="1.4"/>
<line x1="1215.3" y1="571.25" x2="2167" y2="571.25" stroke="#ebebeb" stroke-width="1.4"/>
<line x1="1215.3" y1="286.75" x2="2167" y2="286.75" stroke="#ebebeb" stroke-width="1.4"/>
<line x1="1258.40" y1="88" x2="1258.40" y2="1338.5" stroke="#ebebeb" stroke-width="2.6"/>
<line x1="1474.85" y1="88" x2="1474.85" y2="1338.5" stroke="#ebebeb" stroke-width="2.6"/>
<line x1="1691.30" y1="88" x2="1691.30" y2="1338.5" stroke="#ebebeb" stroke-width="2.6"/>
<line x1="1907.75" y1="88" x2="1907.75" y2="1338.5" stroke="#ebebeb" stroke-width="2.6"/>
<line x1="2124.20" y1="88" x2="2124.20" y2="1338.5" stroke="#ebebeb" stroke-width="2.6"/>
<line x1="1215.3" y1="1282.50" x2="2167" y2="1282.50" stroke="#ebebeb" stroke-width="2.6"/>
<line x1="1215.3" y1="998.00" x2="2167" y2="998.00" stroke="#ebebeb" stroke-width="2.6"/>
<line x1="1215.3" y1="713.50" x2="2167" y2="713.50" stroke="#ebebeb" stroke-width="2.6"/>
<line x1="1215.3" y1="429.00" x2="2167" y2="429.00" stroke="#ebebeb" stroke-width="2.6"/>
<line x1="1215.3" y1="144.50" x2="2167" y2="144.50" stroke="#ebebeb" stroke-width="2.6"/>
<text x="1258.40" y="1379.8" font-size="30" fill="#4d4d4d" text-anchor="middle">0</text>
<text x="1474.85" y="1379.8" font-size="30" fill="#4d4d4d" text-anchor="middle">100</text>
<text x="1691.30" y="1379.8" font-size="30" fill="#4d4d4d" text-anchor="middle">200</text>
<text x="1907.75" y="1379.8" font-size="30" fill="#4d4d4d" text-anchor="middle">300</text>
<text x="2124.20" y="1379.8" font-size="30" fill="#4d4d4d" text-anchor="middle">400</text>
<text x="1198.5" y="1293.40" font-size="30" fill="#4d4d4d" text-anchor="end">0</text>
<text x="1198.5" y="1008.90" font-size="30" fill="#4d4d4d" text-anchor="end">100</text>
<text x="1198.5" y="724.40" font-size="30" fill="#4d4d4d" text-anchor="end">200</text>
<text x="1198.5" y="439.90" font-size="30" fill="#4d4d4d" text-anchor="end">300</text>
<text x="1198.5" y="155.40" font-size="30" fill="#4d4d4d" text-anchor="end">400</text>
<text x="1691.15" y="1421" font-size="37.5" fill="#000" text-anchor="middle">Predicted CO2 (g per km)</text>
<text transform="translate(1129.8,713.25) rotate(-90)" x="0" y="0" font-size="37.5" fill="#000" text-anchor="middle">Observed CO2 (g per km)</text>
<text x="1214" y="54.5" font-size="77" fill="#000">b</text>
<line x1="215.40" y1="1557" x2="215.40" y2="2318" stroke="#ebebeb" stroke-width="1.4"/>
<line x1="367.40" y1="1557" x2="367.40" y2="2318" stroke="#ebebeb" stroke-width="1.4"/>
<line x1="519.40" y1="1557" x2="519.40" y2="2318" stroke="#ebebeb" stroke-width="1.4"/>
<line x1="671.40" y1="1557" x2="671.40" y2="2318" stroke="#ebebeb" stroke-width="1.4"/>
<line x1="114.7" y1="2185.40" x2="698.2" y2="2185.40" stroke="#ebebeb" stroke-width="1.4"/>
<line x1="114.7" y1="1987.20" x2="698.2" y2="1987.20" stroke="#ebebeb" stroke-width="1.4"/>
<line x1="114.7" y1="1789.00" x2="698.2" y2="1789.00" stroke="#ebebeb" stroke-width="1.4"/>
<line x1="114.7" y1="1590.80" x2="698.2" y2="1590.80" stroke="#ebebeb" stroke-width="1.4"/>
<line x1="139.40" y1="1557" x2="139.40" y2="2318" stroke="#ebebeb" stroke-width="2.6"/>
<line x1="291.40" y1="1557" x2="291.40" y2="2318" stroke="#ebebeb" stroke-width="2.6"/>
<line x1="443.40" y1="1557" x2="443.40" y2="2318" stroke="#ebebeb" stroke-width="2.6"/>
<line x1="595.40" y1="1557" x2="595.40" y2="2318" stroke="#ebebeb" stroke-width="2.6"/>
<line x1="114.7" y1="2284.50" x2="698.2" y2="2284.50" stroke="#ebebeb" stroke-width="2.6"/>
<line x1="114.7" y1="2086.30" x2="698.2" y2="2086.30" stroke="#ebebeb" stroke-width="2.6"/>
<line x1="114.7" y1="1888.10" x2="698.2" y2="1888.10" stroke="#ebebeb" stroke-width="2.6"/>
<line x1="114.7" y1="1689.90" x2="698.2" y2="1689.90" stroke="#ebebeb" stroke-width="2.6"/>
<text x="139.40" y="2358.8" font-size="30" fill="#4d4d4d" text-anchor="middle">0</text>
<text x="291.40" y="2358.8" font-size="30" fill="#4d4d4d" text-anchor="middle">200</text>
<text x="443.40" y="2358.8" font-size="30" fill="#4d4d4d" text-anchor="middle">400</text>
<text x="595.40" y="2358.8" font-size="30" fill="#4d4d4d" text-anchor="middle">600</text>
<text x="97.5" y="2295.40" font-size="30" fill="#4d4d4d" text-anchor="end">0</text>
<text x="97.5" y="2097.20" font-size="30" fill="#4d4d4d" text-anchor="end">200</text>
<text x="97.5" y="1899.00" font-size="30" fill="#4d4d4d" text-anchor="end">400</text>
<text x="97.5" y="1700.80" font-size="30" fill="#4d4d4d" text-anchor="end">600</text>
<text x="406.45" y="2399.3" font-size="37.5" fill="#000" text-anchor="middle">Predicted NOx (mg per km)</text>
<text transform="translate(27.7,1937.50) rotate(-90)" x="0" y="0" font-size="37.5" fill="#000" text-anchor="middle">Observed NOx (mg per km)</text>
<text x="111" y="1522.5" font-size="77" fill="#000">c</text>
<line x1="941.05" y1="1557.5" x2="941.05" y2="2318" stroke="#ebebeb" stroke-width="1.4"/>
<line x1="1074.15" y1="1557.5" x2="1074.15" y2="2318" stroke="#ebebeb" stroke-width="1.4"/>
<line x1="1207.25" y1="1557.5" x2="1207.25" y2="2318" stroke="#ebebeb" stroke-width="1.4"/>
<line x1="1340.35" y1="1557.5" x2="1340.35" y2="2318" stroke="#ebebeb" stroke-width="1.4"/>
<line x1="848.1" y1="2197.88" x2="1432.5" y2="2197.88" stroke="#ebebeb" stroke-width="1.4"/>
<line x1="848.1" y1="2024.62" x2="1432.5" y2="2024.62" stroke="#ebebeb" stroke-width="1.4"/>
<line x1="848.1" y1="1851.38" x2="1432.5" y2="1851.38" stroke="#ebebeb" stroke-width="1.4"/>
<line x1="848.1" y1="1678.12" x2="1432.5" y2="1678.12" stroke="#ebebeb" stroke-width="1.4"/>
<line x1="874.50" y1="1557.5" x2="874.50" y2="2318" stroke="#ebebeb" stroke-width="2.6"/>
<line x1="1007.60" y1="1557.5" x2="1007.60" y2="2318" stroke="#ebebeb" stroke-width="2.6"/>
<line x1="1140.70" y1="1557.5" x2="1140.70" y2="2318" stroke="#ebebeb" stroke-width="2.6"/>
<line x1="1273.80" y1="1557.5" x2="1273.80" y2="2318" stroke="#ebebeb" stroke-width="2.6"/>
<line x1="1406.90" y1="1557.5" x2="1406.90" y2="2318" stroke="#ebebeb" stroke-width="2.6"/>
<line x1="848.1" y1="2284.50" x2="1432.5" y2="2284.50" stroke="#ebebeb" stroke-width="2.6"/>
<line x1="848.1" y1="2111.25" x2="1432.5" y2="2111.25" stroke="#ebebeb" stroke-width="2.6"/>
<line x1="848.1" y1="1938.00" x2="1432.5" y2="1938.00" stroke="#ebebeb" stroke-width="2.6"/>
<line x1="848.1" y1="1764.75" x2="1432.5" y2="1764.75" stroke="#ebebeb" stroke-width="2.6"/>
<line x1="848.1" y1="1591.50" x2="1432.5" y2="1591.50" stroke="#ebebeb" stroke-width="2.6"/>
<text x="874.50" y="2358.8" font-size="30" fill="#4d4d4d" text-anchor="middle">0</text>
<text x="1007.60" y="2358.8" font-size="30" fill="#4d4d4d" text-anchor="middle">25</text>
<text x="1140.70" y="2358.8" font-size="30" fill="#4d4d4d" text-anchor="middle">50</text>
<text x="1273.80" y="2358.8" font-size="30" fill="#4d4d4d" text-anchor="middle">75</text>
<text x="1406.90" y="2358.8" font-size="30" fill="#4d4d4d" text-anchor="middle">100</text>
<text x="831.2" y="2295.40" font-size="30" fill="#4d4d4d" text-anchor="end">0</text>
<text x="831.2" y="2122.15" font-size="30" fill="#4d4d4d" text-anchor="end">25</text>
<text x="831.2" y="1948.90" font-size="30" fill="#4d4d4d" text-anchor="end">50</text>
<text x="831.2" y="1775.65" font-size="30" fill="#4d4d4d" text-anchor="end">75</text>
<text x="831.2" y="1602.40" font-size="30" fill="#4d4d4d" text-anchor="end">100</text>
<text x="1140.30" y="2399.3" font-size="37.5" fill="#000" text-anchor="middle">Predicted MPG</text>
<text transform="translate(761.9,1937.75) rotate(-90)" x="0" y="0" font-size="37.5" fill="#000" text-anchor="middle">Observed MPG</text>
<text x="845" y="1522.5" font-size="77" fill="#000">d</text>
<line x1="1675.17" y1="1557" x2="1675.17" y2="2318" stroke="#ebebeb" stroke-width="1.4"/>
<line x1="1808.32" y1="1557" x2="1808.32" y2="2318" stroke="#ebebeb" stroke-width="1.4"/>
<line x1="1941.47" y1="1557" x2="1941.47" y2="2318" stroke="#ebebeb" stroke-width="1.4"/>
<line x1="2074.62" y1="1557" x2="2074.62" y2="2318" stroke="#ebebeb" stroke-width="1.4"/>
<line x1="1581.8" y1="2197.76" x2="2167" y2="2197.76" stroke="#ebebeb" stroke-width="1.4"/>
<line x1="1581.8" y1="2024.29" x2="2167" y2="2024.29" stroke="#ebebeb" stroke-width="1.4"/>
<line x1="1581.8" y1="1850.81" x2="2167" y2="1850.81" stroke="#ebebeb" stroke-width="1.4"/>
<line x1="1581.8" y1="1677.34" x2="2167" y2="1677.34" stroke="#ebebeb" stroke-width="1.4"/>
<line x1="1608.60" y1="1557" x2="1608.60" y2="2318" stroke="#ebebeb" stroke-width="2.6"/>
<line x1="1741.75" y1="1557" x2="1741.75" y2="2318" stroke="#ebebeb" stroke-width="2.6"/>
<line x1="1874.90" y1="1557" x2="1874.90" y2="2318" stroke="#ebebeb" stroke-width="2.6"/>
<line x1="2008.05" y1="1557" x2="2008.05" y2="2318" stroke="#ebebeb" stroke-width="2.6"/>
<line x1="2141.20" y1="1557" x2="2141.20" y2="2318" stroke="#ebebeb" stroke-width="2.6"/>
<line x1="1581.8" y1="2284.50" x2="2167" y2="2284.50" stroke="#ebebeb" stroke-width="2.6"/>
<line x1="1581.8" y1="2111.03" x2="2167" y2="2111.03" stroke="#ebebeb" stroke-width="2.6"/>
<line x1="1581.8" y1="1937.55" x2="2167" y2="1937.55" stroke="#ebebeb" stroke-width="2.6"/>
<line x1="1581.8" y1="1764.08" x2="2167" y2="1764.08" stroke="#ebebeb" stroke-width="2.6"/>
<line x1="1581.8" y1="1590.60" x2="2167" y2="1590.60" stroke="#ebebeb" stroke-width="2.6"/>
<text x="1608.60" y="2358.8" font-size="30" fill="#4d4d4d" text-anchor="middle">0</text>
<text x="1741.75" y="2358.8" font-size="30" fill="#4d4d4d" text-anchor="middle">25</text>
<text x="1874.90" y="2358.8" font-size="30" fill="#4d4d4d" text-anchor="middle">50</text>
<text x="2008.05" y="2358.8" font-size="30" fill="#4d4d4d" text-anchor="middle">75</text>
<text x="2141.20" y="2358.8" font-size="30" fill="#4d4d4d" text-anchor="middle">100</text>
<text x="1565.2" y="2295.40" font-size="30" fill="#4d4d4d" text-anchor="end">0</text>
<text x="1565.2" y="2121.93" font-size="30" fill="#4d4d4d" text-anchor="end">25</text>
<text x="1565.2" y="1948.45" font-size="30" fill="#4d4d4d" text-anchor="end">50</text>
<text x="1565.2" y="1774.98" font-size="30" fill="#4d4d4d" text-anchor="end">75</text>
<text x="1565.2" y="1601.50" font-size="30" fill="#4d4d4d" text-anchor="end">100</text>
<text x="1874.40" y="2399.3" font-size="37.5" fill="#000" text-anchor="middle">Predicted THC (mg per km)</text>
<text transform="translate(1496.3,1937.50) rotate(-90)" x="0" y="0" font-size="37.5" fill="#000" text-anchor="middle">Observed THC (mg per km)</text>
<text x="1580" y="1522.5" font-size="77" fill="#000">e</text>
<defs>
<clipPath id="clb"><rect x="1215.3" y="88" width="951.70" height="1250.50"/></clipPath>
<clipPath id="clc"><rect x="114.7" y="1557" width="583.50" height="761.00"/></clipPath>
<clipPath id="cld"><rect x="848.1" y="1557.5" width="584.40" height="760.50"/></clipPath>
<clipPath id="cle"><rect x="1581.8" y="1557" width="585.20" height="761.00"/></clipPath>
</defs>
<g clip-path="url(#clb)">
<path fill="#02010a" d="M1898.70 142.67L1907.65 149.38L1907.65 162.82L1898.70 169.53L1889.75 162.82L1889.75 149.38ZM1985.20 221.47L1994.15 228.18L1994.15 241.62L1985.20 248.33L1976.25 241.62L1976.25 228.18ZM1829.50 339.67L1838.45 346.38L1838.45 359.82L1829.50 366.53L1820.55 359.82L1820.55 346.38ZM1838.15 359.37L1847.10 366.08L1847.10 379.52L1838.15 386.23L1829.20 379.52L1829.20 366.08ZM1941.95 398.77L1950.90 405.48L1950.90 418.92L1941.95 425.63L1933.00 418.92L1933.00 405.48ZM1743.00 418.47L1751.95 425.18L1751.95 438.62L1743.00 445.33L1734.05 438.62L1734.05 425.18ZM1794.90 418.47L1803.85 425.18L1803.85 438.62L1794.90 445.33L1785.95 438.62L1785.95 425.18ZM1907.35 477.57L1916.30 484.28L1916.30 497.72L1907.35 504.43L1898.40 497.72L1898.40 484.28ZM1829.50 497.27L1838.45 503.98L1838.45 517.42L1829.50 524.13L1820.55 517.42L1820.55 503.98ZM1846.80 497.27L1855.75 503.98L1855.75 517.42L1846.80 524.13L1837.85 517.42L1837.85 503.98ZM1864.10 497.27L1873.05 503.98L1873.05 517.42L1864.10 524.13L1855.15 517.42L1855.15 503.98ZM1898.70 497.27L1907.65 503.98L1907.65 517.42L1898.70 524.13L1889.75 517.42L1889.75 503.98ZM1734.35 516.97L1743.30 523.68L1743.30 537.12L1734.35 543.83L1725.40 537.12L1725.40 523.68ZM1803.55 516.97L1812.50 523.68L1812.50 537.12L1803.55 543.83L1794.60 537.12L1794.60 523.68ZM1872.75 516.97L1881.70 523.68L1881.70 537.12L1872.75 543.83L1863.80 537.12L1863.80 523.68ZM1777.60 536.67L1786.55 543.38L1786.55 556.82L1777.60 563.53L1768.65 556.82L1768.65 543.38ZM1846.80 536.67L1855.75 543.38L1855.75 556.82L1846.80 563.53L1837.85 556.82L1837.85 543.38ZM1864.10 536.67L1873.05 543.38L1873.05 556.82L1864.10 563.53L1855.15 556.82L1855.15 543.38ZM1898.70 536.67L1907.65 543.38L1907.65 556.82L1898.70 563.53L1889.75 556.82L1889.75 543.38ZM1967.90 536.67L1976.85 543.38L1976.85 556.82L1967.90 563.53L1958.95 556.82L1958.95 543.38ZM1768.95 556.37L1777.90 563.08L1777.90 576.52L1768.95 583.23L1760.00 576.52L1760.00 563.08ZM1743.00 576.07L1751.95 582.78L1751.95 596.22L1743.00 602.93L1734.05 596.22L1734.05 582.78ZM1829.50 576.07L1838.45 582.78L1838.45 596.22L1829.50 602.93L1820.55 596.22L1820.55 582.78ZM1673.80 654.87L1682.75 661.58L1682.75 675.02L1673.80 681.73L1664.85 675.02L1664.85 661.58ZM1898.70 654.87L1907.65 661.58L1907.65 675.02L1898.70 681.73L1889.75 675.02L1889.75 661.58ZM1595.95 674.57L1604.90 681.28L1604.90 694.72L1595.95 701.43L1587.00 694.72L1587.00 681.28ZM1621.90 694.27L1630.85 700.98L1630.85 714.42L1621.90 721.13L1612.95 714.42L1612.95 700.98ZM1561.35 713.97L1570.30 720.68L1570.30 734.12L1561.35 740.83L1552.40 734.12L1552.40 720.68ZM1768.95 713.97L1777.90 720.68L1777.90 734.12L1768.95 740.83L1760.00 734.12L1760.00 720.68ZM1570.00 733.67L1578.95 740.38L1578.95 753.82L1570.00 760.53L1561.05 753.82L1561.05 740.38ZM1604.60 733.67L1613.55 740.38L1613.55 753.82L1604.60 760.53L1595.65 753.82L1595.65 740.38ZM1388.35 792.77L1397.30 799.48L1397.30 812.92L1388.35 819.63L1379.40 812.92L1379.40 799.48ZM1474.85 871.57L1483.80 878.28L1483.80 891.72L1474.85 898.43L1465.90 891.72L1465.90 878.28ZM1483.50 891.27L1492.45 897.98L1492.45 911.42L1483.50 918.13L1474.55 911.42L1474.55 897.98ZM1595.95 950.37L1604.90 957.08L1604.90 970.52L1595.95 977.23L1587.00 970.52L1587.00 957.08ZM1570.00 970.07L1578.95 976.78L1578.95 990.22L1570.00 996.93L1561.05 990.22L1561.05 976.78Z"/>
<path fill="#03020b" d="M1967.90 142.67L1976.85 149.38L1976.85 162.82L1967.90 169.53L1958.95 162.82L1958.95 149.38ZM1907.35 201.77L1916.30 208.48L1916.30 221.92L1907.35 228.63L1898.40 221.92L1898.40 208.48ZM1993.85 280.57L2002.80 287.28L2002.80 300.72L1993.85 307.43L1984.90 300.72L1984.90 287.28ZM1993.85 319.97L2002.80 326.68L2002.80 340.12L1993.85 346.83L1984.90 340.12L1984.90 326.68ZM1881.40 339.67L1890.35 346.38L1890.35 359.82L1881.40 366.53L1872.45 359.82L1872.45 346.38ZM1898.70 339.67L1907.65 346.38L1907.65 359.82L1898.70 366.53L1889.75 359.82L1889.75 346.38ZM1872.75 398.77L1881.70 405.48L1881.70 418.92L1872.75 425.63L1863.80 418.92L1863.80 405.48ZM1959.25 398.77L1968.20 405.48L1968.20 418.92L1959.25 425.63L1950.30 418.92L1950.30 405.48ZM1864.10 418.47L1873.05 425.18L1873.05 438.62L1864.10 445.33L1855.15 438.62L1855.15 425.18ZM1898.70 418.47L1907.65 425.18L1907.65 438.62L1898.70 445.33L1889.75 438.62L1889.75 425.18ZM1933.30 418.47L1942.25 425.18L1942.25 438.62L1933.30 445.33L1924.35 438.62L1924.35 425.18ZM1812.20 457.87L1821.15 464.58L1821.15 478.02L1812.20 484.73L1803.25 478.02L1803.25 464.58ZM1898.70 457.87L1907.65 464.58L1907.65 478.02L1898.70 484.73L1889.75 478.02L1889.75 464.58ZM1933.30 497.27L1942.25 503.98L1942.25 517.42L1933.30 524.13L1924.35 517.42L1924.35 503.98ZM1907.35 516.97L1916.30 523.68L1916.30 537.12L1907.35 543.83L1898.40 537.12L1898.40 523.68ZM1794.90 536.67L1803.85 543.38L1803.85 556.82L1794.90 563.53L1785.95 556.82L1785.95 543.38ZM1691.10 576.07L1700.05 582.78L1700.05 596.22L1691.10 602.93L1682.15 596.22L1682.15 582.78ZM1717.05 595.77L1726.00 602.48L1726.00 615.92L1717.05 622.63L1708.10 615.92L1708.10 602.48ZM1656.50 615.47L1665.45 622.18L1665.45 635.62L1656.50 642.33L1647.55 635.62L1647.55 622.18ZM1682.45 635.17L1691.40 641.88L1691.40 655.32L1682.45 662.03L1673.50 655.32L1673.50 641.88ZM1760.30 694.27L1769.25 700.98L1769.25 714.42L1760.30 721.13L1751.35 714.42L1751.35 700.98ZM1552.70 773.07L1561.65 779.78L1561.65 793.22L1552.70 799.93L1543.75 793.22L1543.75 779.78ZM1570.00 773.07L1578.95 779.78L1578.95 793.22L1570.00 799.93L1561.05 793.22L1561.05 779.78ZM1708.40 773.07L1717.35 779.78L1717.35 793.22L1708.40 799.93L1699.45 793.22L1699.45 779.78ZM1544.05 792.77L1553.00 799.48L1553.00 812.92L1544.05 819.63L1535.10 812.92L1535.10 799.48ZM1535.40 812.47L1544.35 819.18L1544.35 832.62L1535.40 839.33L1526.45 832.62L1526.45 819.18ZM1440.25 832.17L1449.20 838.88L1449.20 852.32L1440.25 859.03L1431.30 852.32L1431.30 838.88ZM1474.85 910.97L1483.80 917.68L1483.80 931.12L1474.85 937.83L1465.90 931.12L1465.90 917.68Z"/>
<path fill="#020109" d="M1829.50 221.47L1838.45 228.18L1838.45 241.62L1829.50 248.33L1820.55 241.62L1820.55 228.18ZM1907.35 280.57L1916.30 287.28L1916.30 300.72L1907.35 307.43L1898.40 300.72L1898.40 287.28ZM1803.55 359.37L1812.50 366.08L1812.50 379.52L1803.55 386.23L1794.60 379.52L1794.60 366.08ZM1907.35 359.37L1916.30 366.08L1916.30 379.52L1907.35 386.23L1898.40 379.52L1898.40 366.08ZM1959.25 359.37L1968.20 366.08L1968.20 379.52L1959.25 386.23L1950.30 379.52L1950.30 366.08ZM1803.55 398.77L1812.50 405.48L1812.50 418.92L1803.55 425.63L1794.60 418.92L1794.60 405.48ZM1941.95 438.17L1950.90 444.88L1950.90 458.32L1941.95 465.03L1933.00 458.32L1933.00 444.88ZM1829.50 457.87L1838.45 464.58L1838.45 478.02L1829.50 484.73L1820.55 478.02L1820.55 464.58ZM1743.00 497.27L1751.95 503.98L1751.95 517.42L1743.00 524.13L1734.05 517.42L1734.05 503.98ZM1881.40 497.27L1890.35 503.98L1890.35 517.42L1881.40 524.13L1872.45 517.42L1872.45 503.98ZM1967.90 497.27L1976.85 503.98L1976.85 517.42L1967.90 524.13L1958.95 517.42L1958.95 503.98ZM1665.15 516.97L1674.10 523.68L1674.10 537.12L1665.15 543.83L1656.20 537.12L1656.20 523.68ZM1691.10 536.67L1700.05 543.38L1700.05 556.82L1691.10 563.53L1682.15 556.82L1682.15 543.38ZM1760.30 536.67L1769.25 543.38L1769.25 556.82L1760.30 563.53L1751.35 556.82L1751.35 543.38ZM1838.15 556.37L1847.10 563.08L1847.10 576.52L1838.15 583.23L1829.20 576.52L1829.20 563.08ZM1864.10 576.07L1873.05 582.78L1873.05 596.22L1864.10 602.93L1855.15 596.22L1855.15 582.78ZM1838.15 595.77L1847.10 602.48L1847.10 615.92L1838.15 622.63L1829.20 615.92L1829.20 602.48ZM1639.20 615.47L1648.15 622.18L1648.15 635.62L1639.20 642.33L1630.25 635.62L1630.25 622.18ZM1708.40 615.47L1717.35 622.18L1717.35 635.62L1708.40 642.33L1699.45 635.62L1699.45 622.18ZM1812.20 615.47L1821.15 622.18L1821.15 635.62L1812.20 642.33L1803.25 635.62L1803.25 622.18ZM1544.05 635.17L1553.00 641.88L1553.00 655.32L1544.05 662.03L1535.10 655.32L1535.10 641.88ZM1630.55 635.17L1639.50 641.88L1639.50 655.32L1630.55 662.03L1621.60 655.32L1621.60 641.88ZM1881.40 694.27L1890.35 700.98L1890.35 714.42L1881.40 721.13L1872.45 714.42L1872.45 700.98ZM1526.75 713.97L1535.70 720.68L1535.70 734.12L1526.75 740.83L1517.80 734.12L1517.80 720.68ZM1743.00 733.67L1751.95 740.38L1751.95 753.82L1743.00 760.53L1734.05 753.82L1734.05 740.38ZM1578.65 753.37L1587.60 760.08L1587.60 773.52L1578.65 780.23L1569.70 773.52L1569.70 760.08ZM1535.40 773.07L1544.35 779.78L1544.35 793.22L1535.40 799.93L1526.45 793.22L1526.45 779.78ZM1699.75 792.77L1708.70 799.48L1708.70 812.92L1699.75 819.63L1690.80 812.92L1690.80 799.48ZM1691.10 812.47L1700.05 819.18L1700.05 832.62L1691.10 839.33L1682.15 832.62L1682.15 819.18ZM1500.80 851.87L1509.75 858.58L1509.75 872.02L1500.80 878.73L1491.85 872.02L1491.85 858.58ZM1379.70 930.67L1388.65 937.38L1388.65 950.82L1379.70 957.53L1370.75 950.82L1370.75 937.38ZM1699.75 989.77L1708.70 996.48L1708.70 1009.92L1699.75 1016.63L1690.80 1009.92L1690.80 996.48ZM1440.25 1068.57L1449.20 1075.28L1449.20 1088.72L1440.25 1095.43L1431.30 1088.72L1431.30 1075.28ZM1379.70 1088.27L1388.65 1094.98L1388.65 1108.42L1379.70 1115.13L1370.75 1108.42L1370.75 1094.98ZM1379.70 1127.67L1388.65 1134.38L1388.65 1147.82L1379.70 1154.53L1370.75 1147.82L1370.75 1134.38ZM1518.10 1127.67L1527.05 1134.38L1527.05 1147.82L1518.10 1154.53L1509.15 1147.82L1509.15 1134.38ZM1440.25 1226.17L1449.20 1232.88L1449.20 1246.32L1440.25 1253.03L1431.30 1246.32L1431.30 1232.88Z"/>
<path fill="#010107" d="M1985.20 260.87L1994.15 267.58L1994.15 281.02L1985.20 287.73L1976.25 281.02L1976.25 267.58ZM1872.75 280.57L1881.70 287.28L1881.70 300.72L1872.75 307.43L1863.80 300.72L1863.80 287.28ZM1941.95 280.57L1950.90 287.28L1950.90 300.72L1941.95 307.43L1933.00 300.72L1933.00 287.28ZM1829.50 300.27L1838.45 306.98L1838.45 320.42L1829.50 327.13L1820.55 320.42L1820.55 306.98ZM1881.40 300.27L1890.35 306.98L1890.35 320.42L1881.40 327.13L1872.45 320.42L1872.45 306.98ZM1933.30 300.27L1942.25 306.98L1942.25 320.42L1933.30 327.13L1924.35 320.42L1924.35 306.98ZM1941.95 319.97L1950.90 326.68L1950.90 340.12L1941.95 346.83L1933.00 340.12L1933.00 326.68ZM1967.90 339.67L1976.85 346.38L1976.85 359.82L1967.90 366.53L1958.95 359.82L1958.95 346.38ZM1768.95 438.17L1777.90 444.88L1777.90 458.32L1768.95 465.03L1760.00 458.32L1760.00 444.88ZM1803.55 438.17L1812.50 444.88L1812.50 458.32L1803.55 465.03L1794.60 458.32L1794.60 444.88ZM1993.85 438.17L2002.80 444.88L2002.80 458.32L1993.85 465.03L1984.90 458.32L1984.90 444.88ZM1846.80 457.87L1855.75 464.58L1855.75 478.02L1846.80 484.73L1837.85 478.02L1837.85 464.58ZM1959.25 477.57L1968.20 484.28L1968.20 497.72L1959.25 504.43L1950.30 497.72L1950.30 484.28ZM1777.60 497.27L1786.55 503.98L1786.55 517.42L1777.60 524.13L1768.65 517.42L1768.65 503.98ZM1881.40 536.67L1890.35 543.38L1890.35 556.82L1881.40 563.53L1872.45 556.82L1872.45 543.38ZM1665.15 556.37L1674.10 563.08L1674.10 576.52L1665.15 583.23L1656.20 576.52L1656.20 563.08ZM1682.45 556.37L1691.40 563.08L1691.40 576.52L1682.45 583.23L1673.50 576.52L1673.50 563.08ZM1699.75 556.37L1708.70 563.08L1708.70 576.52L1699.75 583.23L1690.80 576.52L1690.80 563.08ZM1881.40 576.07L1890.35 582.78L1890.35 596.22L1881.40 602.93L1872.45 596.22L1872.45 582.78ZM1691.10 615.47L1700.05 622.18L1700.05 635.62L1691.10 642.33L1682.15 635.62L1682.15 622.18ZM1665.15 635.17L1674.10 641.88L1674.10 655.32L1665.15 662.03L1656.20 655.32L1656.20 641.88ZM1604.60 654.87L1613.55 661.58L1613.55 675.02L1604.60 681.73L1595.65 675.02L1595.65 661.58ZM1578.65 713.97L1587.60 720.68L1587.60 734.12L1578.65 740.83L1569.70 734.12L1569.70 720.68ZM1613.25 713.97L1622.20 720.68L1622.20 734.12L1613.25 740.83L1604.30 734.12L1604.30 720.68ZM1552.70 733.67L1561.65 740.38L1561.65 753.82L1552.70 760.53L1543.75 753.82L1543.75 740.38ZM1587.30 733.67L1596.25 740.38L1596.25 753.82L1587.30 760.53L1578.35 753.82L1578.35 740.38ZM1526.75 792.77L1535.70 799.48L1535.70 812.92L1526.75 819.63L1517.80 812.92L1517.80 799.48ZM1492.15 871.57L1501.10 878.28L1501.10 891.72L1492.15 898.43L1483.20 891.72L1483.20 878.28ZM1448.90 930.67L1457.85 937.38L1457.85 950.82L1448.90 957.53L1439.95 950.82L1439.95 937.38ZM1604.60 930.67L1613.55 937.38L1613.55 950.82L1604.60 957.53L1595.65 950.82L1595.65 937.38ZM1379.70 1009.47L1388.65 1016.18L1388.65 1029.62L1379.70 1036.33L1370.75 1029.62L1370.75 1016.18ZM1587.30 1009.47L1596.25 1016.18L1596.25 1029.62L1587.30 1036.33L1578.35 1029.62L1578.35 1016.18ZM1526.75 1029.17L1535.70 1035.88L1535.70 1049.32L1526.75 1056.03L1517.80 1049.32L1517.80 1035.88ZM1388.35 1147.37L1397.30 1154.08L1397.30 1167.52L1388.35 1174.23L1379.40 1167.52L1379.40 1154.08ZM1440.25 1186.77L1449.20 1193.48L1449.20 1206.92L1440.25 1213.63L1431.30 1206.92L1431.30 1193.48Z"/>
<path fill="#02020b" d="M1967.90 300.27L1976.85 306.98L1976.85 320.42L1967.90 327.13L1958.95 320.42L1958.95 306.98ZM1959.25 319.97L1968.20 326.68L1968.20 340.12L1959.25 346.83L1950.30 340.12L1950.30 326.68ZM1881.40 379.07L1890.35 385.78L1890.35 399.22L1881.40 405.93L1872.45 399.22L1872.45 385.78ZM1829.50 418.47L1838.45 425.18L1838.45 438.62L1829.50 445.33L1820.55 438.62L1820.55 425.18ZM1743.00 457.87L1751.95 464.58L1751.95 478.02L1743.00 484.73L1734.05 478.02L1734.05 464.58ZM1803.55 477.57L1812.50 484.28L1812.50 497.72L1803.55 504.43L1794.60 497.72L1794.60 484.28ZM1855.45 477.57L1864.40 484.28L1864.40 497.72L1855.45 504.43L1846.50 497.72L1846.50 484.28ZM1794.90 497.27L1803.85 503.98L1803.85 517.42L1794.90 524.13L1785.95 517.42L1785.95 503.98ZM1751.65 516.97L1760.60 523.68L1760.60 537.12L1751.65 543.83L1742.70 537.12L1742.70 523.68ZM1838.15 516.97L1847.10 523.68L1847.10 537.12L1838.15 543.83L1829.20 537.12L1829.20 523.68ZM1855.45 516.97L1864.40 523.68L1864.40 537.12L1855.45 543.83L1846.50 537.12L1846.50 523.68ZM1743.00 536.67L1751.95 543.38L1751.95 556.82L1743.00 563.53L1734.05 556.82L1734.05 543.38ZM1872.75 556.37L1881.70 563.08L1881.70 576.52L1872.75 583.23L1863.80 576.52L1863.80 563.08ZM1647.85 595.77L1656.80 602.48L1656.80 615.92L1647.85 622.63L1638.90 615.92L1638.90 602.48ZM1604.60 615.47L1613.55 622.18L1613.55 635.62L1604.60 642.33L1595.65 635.62L1595.65 622.18ZM1621.90 654.87L1630.85 661.58L1630.85 675.02L1621.90 681.73L1612.95 675.02L1612.95 661.58ZM1639.20 654.87L1648.15 661.58L1648.15 675.02L1639.20 681.73L1630.25 675.02L1630.25 661.58ZM1812.20 654.87L1821.15 661.58L1821.15 675.02L1812.20 681.73L1803.25 675.02L1803.25 661.58ZM1639.20 694.27L1648.15 700.98L1648.15 714.42L1639.20 721.13L1630.25 714.42L1630.25 700.98ZM1526.75 832.17L1535.70 838.88L1535.70 852.32L1526.75 859.03L1517.80 852.32L1517.80 838.88ZM1613.25 910.97L1622.20 917.68L1622.20 931.12L1613.25 937.83L1604.30 931.12L1604.30 917.68ZM1379.70 1048.87L1388.65 1055.58L1388.65 1069.02L1379.70 1075.73L1370.75 1069.02L1370.75 1055.58ZM1570.00 1088.27L1578.95 1094.98L1578.95 1108.42L1570.00 1115.13L1561.05 1108.42L1561.05 1094.98Z"/>
<path fill="#010108" d="M1933.30 339.67L1942.25 346.38L1942.25 359.82L1933.30 366.53L1924.35 359.82L1924.35 346.38ZM1872.75 359.37L1881.70 366.08L1881.70 379.52L1872.75 386.23L1863.80 379.52L1863.80 366.08ZM1993.85 398.77L2002.80 405.48L2002.80 418.92L1993.85 425.63L1984.90 418.92L1984.90 405.48ZM1881.40 418.47L1890.35 425.18L1890.35 438.62L1881.40 445.33L1872.45 438.62L1872.45 425.18ZM1967.90 418.47L1976.85 425.18L1976.85 438.62L1967.90 445.33L1958.95 438.62L1958.95 425.18ZM1941.95 477.57L1950.90 484.28L1950.90 497.72L1941.95 504.43L1933.00 497.72L1933.00 484.28ZM1760.30 497.27L1769.25 503.98L1769.25 517.42L1760.30 524.13L1751.35 517.42L1751.35 503.98ZM1751.65 556.37L1760.60 563.08L1760.60 576.52L1751.65 583.23L1742.70 576.52L1742.70 563.08ZM1673.80 576.07L1682.75 582.78L1682.75 596.22L1673.80 602.93L1664.85 596.22L1664.85 582.78ZM1682.45 595.77L1691.40 602.48L1691.40 615.92L1682.45 622.63L1673.50 615.92L1673.50 602.48ZM1699.75 595.77L1708.70 602.48L1708.70 615.92L1699.75 622.63L1690.80 615.92L1690.80 602.48ZM1872.75 595.77L1881.70 602.48L1881.70 615.92L1872.75 622.63L1863.80 615.92L1863.80 602.48ZM1829.50 615.47L1838.45 622.18L1838.45 635.62L1829.50 642.33L1820.55 635.62L1820.55 622.18ZM1846.80 615.47L1855.75 622.18L1855.75 635.62L1846.80 642.33L1837.85 635.62L1837.85 622.18ZM1595.95 635.17L1604.90 641.88L1604.90 655.32L1595.95 662.03L1587.00 655.32L1587.00 641.88ZM1803.55 635.17L1812.50 641.88L1812.50 655.32L1803.55 662.03L1794.60 655.32L1794.60 641.88ZM1647.85 674.57L1656.80 681.28L1656.80 694.72L1647.85 701.43L1638.90 694.72L1638.90 681.28ZM1803.55 674.57L1812.50 681.28L1812.50 694.72L1803.55 701.43L1794.60 694.72L1794.60 681.28ZM1595.95 713.97L1604.90 720.68L1604.90 734.12L1595.95 740.83L1587.00 734.12L1587.00 720.68ZM1751.65 713.97L1760.60 720.68L1760.60 734.12L1751.65 740.83L1742.70 734.12L1742.70 720.68ZM1760.30 733.67L1769.25 740.38L1769.25 753.82L1760.30 760.53L1751.35 753.82L1751.35 740.38ZM1768.95 753.37L1777.90 760.08L1777.90 773.52L1768.95 780.23L1760.00 773.52L1760.00 760.08ZM1743.00 773.07L1751.95 779.78L1751.95 793.22L1743.00 799.93L1734.05 793.22L1734.05 779.78ZM1777.60 773.07L1786.55 779.78L1786.55 793.22L1777.60 799.93L1768.65 793.22L1768.65 779.78ZM1448.90 812.47L1457.85 819.18L1457.85 832.62L1448.90 839.33L1439.95 832.62L1439.95 819.18ZM1682.45 832.17L1691.40 838.88L1691.40 852.32L1682.45 859.03L1673.50 852.32L1673.50 838.88ZM1717.05 832.17L1726.00 838.88L1726.00 852.32L1717.05 859.03L1708.10 852.32L1708.10 838.88ZM1647.85 871.57L1656.80 878.28L1656.80 891.72L1647.85 898.43L1638.90 891.72L1638.90 878.28ZM1691.10 970.07L1700.05 976.78L1700.05 990.22L1691.10 996.93L1682.15 990.22L1682.15 976.78ZM1448.90 1127.67L1457.85 1134.38L1457.85 1147.82L1448.90 1154.53L1439.95 1147.82L1439.95 1134.38Z"/>
<path fill="#010106" d="M1985.20 339.67L1994.15 346.38L1994.15 359.82L1985.20 366.53L1976.25 359.82L1976.25 346.38ZM1993.85 359.37L2002.80 366.08L2002.80 379.52L1993.85 386.23L1984.90 379.52L1984.90 366.08ZM1838.15 398.77L1847.10 405.48L1847.10 418.92L1838.15 425.63L1829.20 418.92L1829.20 405.48ZM1872.75 438.17L1881.70 444.88L1881.70 458.32L1872.75 465.03L1863.80 458.32L1863.80 444.88ZM1630.55 556.37L1639.50 563.08L1639.50 576.52L1630.55 583.23L1621.60 576.52L1621.60 563.08ZM1639.20 576.07L1648.15 582.78L1648.15 596.22L1639.20 602.93L1630.25 596.22L1630.25 582.78ZM1630.55 674.57L1639.50 681.28L1639.50 694.72L1630.55 701.43L1621.60 694.72L1621.60 681.28ZM1604.60 694.27L1613.55 700.98L1613.55 714.42L1604.60 721.13L1595.65 714.42L1595.65 700.98ZM1717.05 792.77L1726.00 799.48L1726.00 812.92L1717.05 819.63L1708.10 812.92L1708.10 799.48ZM1734.35 792.77L1743.30 799.48L1743.30 812.92L1734.35 819.63L1725.40 812.92L1725.40 799.48ZM1518.10 812.47L1527.05 819.18L1527.05 832.62L1518.10 839.33L1509.15 832.62L1509.15 819.18ZM1699.75 832.17L1708.70 838.88L1708.70 852.32L1699.75 859.03L1690.80 852.32L1690.80 838.88Z"/>
<path fill="#010006" d="M1829.50 379.07L1838.45 385.78L1838.45 399.22L1829.50 405.93L1820.55 399.22L1820.55 385.78ZM1734.35 556.37L1743.30 563.08L1743.30 576.52L1734.35 583.23L1725.40 576.52L1725.40 563.08ZM1604.60 576.07L1613.55 582.78L1613.55 596.22L1604.60 602.93L1595.65 596.22L1595.65 582.78ZM1544.05 753.37L1553.00 760.08L1553.00 773.52L1544.05 780.23L1535.10 773.52L1535.10 760.08ZM1561.35 753.37L1570.30 760.08L1570.30 773.52L1561.35 780.23L1552.40 773.52L1552.40 760.08Z"/>
<path fill="#02020a" d="M1967.90 379.07L1976.85 385.78L1976.85 399.22L1967.90 405.93L1958.95 399.22L1958.95 385.78ZM1933.30 457.87L1942.25 464.58L1942.25 478.02L1933.30 484.73L1924.35 478.02L1924.35 464.58ZM1812.20 497.27L1821.15 503.98L1821.15 517.42L1812.20 524.13L1803.25 517.42L1803.25 503.98ZM1768.95 516.97L1777.90 523.68L1777.90 537.12L1768.95 543.83L1760.00 537.12L1760.00 523.68Z"/>
<path fill="#03020c" d="M1838.15 438.17L1847.10 444.88L1847.10 458.32L1838.15 465.03L1829.20 458.32L1829.20 444.88ZM1691.10 497.27L1700.05 503.98L1700.05 517.42L1691.10 524.13L1682.15 517.42L1682.15 503.98ZM1829.50 536.67L1838.45 543.38L1838.45 556.82L1829.50 563.53L1820.55 556.82L1820.55 543.38ZM1734.35 595.77L1743.30 602.48L1743.30 615.92L1734.35 622.63L1725.40 615.92L1725.40 602.48ZM1613.25 674.57L1622.20 681.28L1622.20 694.72L1613.25 701.43L1604.30 694.72L1604.30 681.28ZM1768.95 674.57L1777.90 681.28L1777.90 694.72L1768.95 701.43L1760.00 694.72L1760.00 681.28ZM1717.05 753.37L1726.00 760.08L1726.00 773.52L1717.05 780.23L1708.10 773.52L1708.10 760.08ZM1561.35 792.77L1570.30 799.48L1570.30 812.92L1561.35 819.63L1552.40 812.92L1552.40 799.48ZM1448.90 1048.87L1457.85 1055.58L1457.85 1069.02L1448.90 1075.73L1439.95 1069.02L1439.95 1055.58Z"/>
<path fill="#020108" d="M1760.30 457.87L1769.25 464.58L1769.25 478.02L1760.30 484.73L1751.35 478.02L1751.35 464.58ZM1967.90 457.87L1976.85 464.58L1976.85 478.02L1967.90 484.73L1958.95 478.02L1958.95 464.58ZM1838.15 477.57L1847.10 484.28L1847.10 497.72L1838.15 504.43L1829.20 497.72L1829.20 484.28ZM1872.75 477.57L1881.70 484.28L1881.70 497.72L1872.75 504.43L1863.80 497.72L1863.80 484.28ZM1708.40 576.07L1717.35 582.78L1717.35 596.22L1708.40 602.93L1699.45 596.22L1699.45 582.78ZM1665.15 595.77L1674.10 602.48L1674.10 615.92L1665.15 622.63L1656.20 615.92L1656.20 602.48ZM1656.50 654.87L1665.45 661.58L1665.45 675.02L1656.50 681.73L1647.55 675.02L1647.55 661.58ZM1509.45 832.17L1518.40 838.88L1518.40 852.32L1509.45 859.03L1500.50 852.32L1500.50 838.88ZM1639.20 891.27L1648.15 897.98L1648.15 911.42L1639.20 918.13L1630.25 911.42L1630.25 897.98ZM1388.35 1107.97L1397.30 1114.68L1397.30 1128.12L1388.35 1134.83L1379.40 1128.12L1379.40 1114.68Z"/>
<path fill="#03020e" d="M1812.20 536.67L1821.15 543.38L1821.15 556.82L1812.20 563.53L1803.25 556.82L1803.25 543.38ZM1621.90 891.27L1630.85 897.98L1630.85 911.42L1621.90 918.13L1612.95 911.42L1612.95 897.98Z"/>
<path fill="#03020d" d="M1786.25 556.37L1795.20 563.08L1795.20 576.52L1786.25 583.23L1777.30 576.52L1777.30 563.08ZM1803.55 556.37L1812.50 563.08L1812.50 576.52L1803.55 583.23L1794.60 576.52L1794.60 563.08ZM1760.30 576.07L1769.25 582.78L1769.25 596.22L1760.30 602.93L1751.35 596.22L1751.35 582.78ZM1665.15 832.17L1674.10 838.88L1674.10 852.32L1665.15 859.03L1656.20 852.32L1656.20 838.88Z"/>
<path fill="#050414" d="M1777.60 576.07L1786.55 582.78L1786.55 596.22L1777.60 602.93L1768.65 596.22L1768.65 582.78ZM1587.30 930.67L1596.25 937.38L1596.25 950.82L1587.30 957.53L1578.35 950.82L1578.35 937.38Z"/>
<path fill="#070417" d="M1794.90 576.07L1803.85 582.78L1803.85 596.22L1794.90 602.93L1785.95 596.22L1785.95 582.78ZM1760.30 654.87L1769.25 661.58L1769.25 675.02L1760.30 681.73L1751.35 675.02L1751.35 661.58ZM1587.30 773.07L1596.25 779.78L1596.25 793.22L1587.30 799.93L1578.35 793.22L1578.35 779.78ZM1544.05 832.17L1553.00 838.88L1553.00 852.32L1544.05 859.03L1535.10 852.32L1535.10 838.88ZM1509.45 871.57L1518.40 878.28L1518.40 891.72L1509.45 898.43L1500.50 891.72L1500.50 878.28Z"/>
<path fill="#04030f" d="M1812.20 576.07L1821.15 582.78L1821.15 596.22L1812.20 602.93L1803.25 596.22L1803.25 582.78ZM1777.60 654.87L1786.55 661.58L1786.55 675.02L1777.60 681.73L1768.65 675.02L1768.65 661.58ZM1595.95 753.37L1604.90 760.08L1604.90 773.52L1595.95 780.23L1587.00 773.52L1587.00 760.08ZM1544.05 989.77L1553.00 996.48L1553.00 1009.92L1544.05 1016.63L1535.10 1009.92L1535.10 996.48Z"/>
<path fill="#070517" d="M1751.65 595.77L1760.60 602.48L1760.60 615.92L1751.65 622.63L1742.70 615.92L1742.70 602.48Z"/>
<path fill="#070518" d="M1768.95 595.77L1777.90 602.48L1777.90 615.92L1768.95 622.63L1760.00 615.92L1760.00 602.48ZM1691.10 654.87L1700.05 661.58L1700.05 675.02L1691.10 681.73L1682.15 675.02L1682.15 661.58Z"/>
<path fill="#08051b" d="M1786.25 595.77L1795.20 602.48L1795.20 615.92L1786.25 622.63L1777.30 615.92L1777.30 602.48ZM1777.60 615.47L1786.55 622.18L1786.55 635.62L1777.60 642.33L1768.65 635.62L1768.65 622.18ZM1474.85 1029.17L1483.80 1035.88L1483.80 1049.32L1474.85 1056.03L1465.90 1049.32L1465.90 1035.88Z"/>
<path fill="#04020e" d="M1803.55 595.77L1812.50 602.48L1812.50 615.92L1803.55 622.63L1794.60 615.92L1794.60 602.48ZM1578.65 950.37L1587.60 957.08L1587.60 970.52L1578.65 977.23L1569.70 970.52L1569.70 957.08Z"/>
<path fill="#0a0721" d="M1743.00 615.47L1751.95 622.18L1751.95 635.62L1743.00 642.33L1734.05 635.62L1734.05 622.18Z"/>
<path fill="#0a0720" d="M1760.30 615.47L1769.25 622.18L1769.25 635.62L1760.30 642.33L1751.35 635.62L1751.35 622.18ZM1500.80 891.27L1509.75 897.98L1509.75 911.42L1500.80 918.13L1491.85 911.42L1491.85 897.98Z"/>
<path fill="#040310" d="M1699.75 635.17L1708.70 641.88L1708.70 655.32L1699.75 662.03L1690.80 655.32L1690.80 641.88ZM1665.15 674.57L1674.10 681.28L1674.10 694.72L1665.15 701.43L1656.20 694.72L1656.20 681.28ZM1630.55 713.97L1639.50 720.68L1639.50 734.12L1630.55 740.83L1621.60 734.12L1621.60 720.68ZM1552.70 812.47L1561.65 819.18L1561.65 832.62L1552.70 839.33L1543.75 832.62L1543.75 819.18ZM1518.10 851.87L1527.05 858.58L1527.05 872.02L1518.10 878.73L1509.15 872.02L1509.15 858.58ZM1440.25 989.77L1449.20 996.48L1449.20 1009.92L1440.25 1016.63L1431.30 1009.92L1431.30 996.48Z"/>
<path fill="#060414" d="M1717.05 635.17L1726.00 641.88L1726.00 655.32L1717.05 662.03L1708.10 655.32L1708.10 641.88ZM1743.00 694.27L1751.95 700.98L1751.95 714.42L1743.00 721.13L1734.05 714.42L1734.05 700.98ZM1621.90 733.67L1630.85 740.38L1630.85 753.82L1621.90 760.53L1612.95 753.82L1612.95 740.38Z"/>
<path fill="#0b0723" d="M1734.35 635.17L1743.30 641.88L1743.30 655.32L1734.35 662.03L1725.40 655.32L1725.40 641.88ZM1656.50 812.47L1665.45 819.18L1665.45 832.62L1656.50 839.33L1647.55 832.62L1647.55 819.18ZM1526.75 989.77L1535.70 996.48L1535.70 1009.92L1526.75 1016.63L1517.80 1009.92L1517.80 996.48Z"/>
<path fill="#0e0829" d="M1751.65 635.17L1760.60 641.88L1760.60 655.32L1751.65 662.03L1742.70 655.32L1742.70 641.88ZM1717.05 713.97L1726.00 720.68L1726.00 734.12L1717.05 740.83L1708.10 734.12L1708.10 720.68ZM1699.75 753.37L1708.70 760.08L1708.70 773.52L1699.75 780.23L1690.80 773.52L1690.80 760.08Z"/>
<path fill="#08051a" d="M1768.95 635.17L1777.90 641.88L1777.90 655.32L1768.95 662.03L1760.00 655.32L1760.00 641.88ZM1682.45 792.77L1691.40 799.48L1691.40 812.92L1682.45 819.63L1673.50 812.92L1673.50 799.48Z"/>
<path fill="#0b0824" d="M1708.40 654.87L1717.35 661.58L1717.35 675.02L1708.40 681.73L1699.45 675.02L1699.45 661.58Z"/>
<path fill="#0f082a" d="M1743.00 654.87L1751.95 661.58L1751.95 675.02L1743.00 681.73L1734.05 675.02L1734.05 661.58Z"/>
<path fill="#0b0722" d="M1682.45 674.57L1691.40 681.28L1691.40 694.72L1682.45 701.43L1673.50 694.72L1673.50 681.28ZM1613.25 753.37L1622.20 760.08L1622.20 773.52L1613.25 780.23L1604.30 773.52L1604.30 760.08ZM1561.35 950.37L1570.30 957.08L1570.30 970.52L1561.35 977.23L1552.40 970.52L1552.40 957.08Z"/>
<path fill="#11092e" d="M1699.75 674.57L1708.70 681.28L1708.70 694.72L1699.75 701.43L1690.80 694.72L1690.80 681.28ZM1665.15 792.77L1674.10 799.48L1674.10 812.92L1665.15 819.63L1656.20 812.92L1656.20 799.48Z"/>
<path fill="#0c0826" d="M1734.35 674.57L1743.30 681.28L1743.30 694.72L1734.35 701.43L1725.40 694.72L1725.40 681.28Z"/>
<path fill="#070519" d="M1751.65 674.57L1760.60 681.28L1760.60 694.72L1751.65 701.43L1742.70 694.72L1742.70 681.28ZM1691.10 773.07L1700.05 779.78L1700.05 793.22L1691.10 799.93L1682.15 793.22L1682.15 779.78Z"/>
<path fill="#060416" d="M1656.50 694.27L1665.45 700.98L1665.45 714.42L1656.50 721.13L1647.55 714.42L1647.55 700.98Z"/>
<path fill="#120931" d="M1673.80 694.27L1682.75 700.98L1682.75 714.42L1673.80 721.13L1664.85 714.42L1664.85 700.98Z"/>
<path fill="#290c53" d="M1691.10 694.27L1700.05 700.98L1700.05 714.42L1691.10 721.13L1682.15 714.42L1682.15 700.98ZM1587.30 812.47L1596.25 819.18L1596.25 832.62L1587.30 839.33L1578.35 832.62L1578.35 819.18Z"/>
<path fill="#150a36" d="M1708.40 694.27L1717.35 700.98L1717.35 714.42L1708.40 721.13L1699.45 714.42L1699.45 700.98Z"/>
<path fill="#09061c" d="M1647.85 713.97L1656.80 720.68L1656.80 734.12L1647.85 740.83L1638.90 734.12L1638.90 720.68Z"/>
<path fill="#150935" d="M1665.15 713.97L1674.10 720.68L1674.10 734.12L1665.15 740.83L1656.20 734.12L1656.20 720.68ZM1604.60 773.07L1613.55 779.78L1613.55 793.22L1604.60 799.93L1595.65 793.22L1595.65 779.78Z"/>
<path fill="#2d0b57" d="M1682.45 713.97L1691.40 720.68L1691.40 734.12L1682.45 740.83L1673.50 734.12L1673.50 720.68ZM1691.10 733.67L1700.05 740.38L1700.05 753.82L1691.10 760.53L1682.15 753.82L1682.15 740.38Z"/>
<path fill="#2e0b57" d="M1699.75 713.97L1708.70 720.68L1708.70 734.12L1699.75 740.83L1690.80 734.12L1690.80 720.68Z"/>
<path fill="#040311" d="M1734.35 713.97L1743.30 720.68L1743.30 734.12L1734.35 740.83L1725.40 734.12L1725.40 720.68Z"/>
<path fill="#170a38" d="M1639.20 733.67L1648.15 740.38L1648.15 753.82L1639.20 760.53L1630.25 753.82L1630.25 740.38Z"/>
<path fill="#280c53" d="M1656.50 733.67L1665.45 740.38L1665.45 753.82L1656.50 760.53L1647.55 753.82L1647.55 740.38Z"/>
<path fill="#420a68" d="M1673.80 733.67L1682.75 740.38L1682.75 753.82L1673.80 760.53L1664.85 753.82L1664.85 740.38Z"/>
<path fill="#120930" d="M1708.40 733.67L1717.35 740.38L1717.35 753.82L1708.40 760.53L1699.45 753.82L1699.45 740.38Z"/>
<path fill="#260c51" d="M1630.55 753.37L1639.50 760.08L1639.50 773.52L1630.55 780.23L1621.60 773.52L1621.60 760.08Z"/>
<path fill="#3c0a63" d="M1647.85 753.37L1656.80 760.08L1656.80 773.52L1647.85 780.23L1638.90 773.52L1638.90 760.08Z"/>
<path fill="#2f0b58" d="M1665.15 753.37L1674.10 760.08L1674.10 773.52L1665.15 780.23L1656.20 773.52L1656.20 760.08Z"/>
<path fill="#200b48" d="M1682.45 753.37L1691.40 760.08L1691.40 773.52L1682.45 780.23L1673.50 773.52L1673.50 760.08Z"/>
<path fill="#280c52" d="M1621.90 773.07L1630.85 779.78L1630.85 793.22L1621.90 799.93L1612.95 793.22L1612.95 779.78Z"/>
<path fill="#430a68" d="M1639.20 773.07L1648.15 779.78L1648.15 793.22L1639.20 799.93L1630.25 793.22L1630.25 779.78Z"/>
<path fill="#4a0c6a" d="M1656.50 773.07L1665.45 779.78L1665.45 793.22L1656.50 799.93L1647.55 793.22L1647.55 779.78Z"/>
<path fill="#180a3b" d="M1673.80 773.07L1682.75 779.78L1682.75 793.22L1673.80 799.93L1664.85 793.22L1664.85 779.78Z"/>
<path fill="#0c0827" d="M1578.65 792.77L1587.60 799.48L1587.60 812.92L1578.65 819.63L1569.70 812.92L1569.70 799.48Z"/>
<path fill="#1a0a3d" d="M1595.95 792.77L1604.90 799.48L1604.90 812.92L1595.95 819.63L1587.00 812.92L1587.00 799.48Z"/>
<path fill="#470b69" d="M1613.25 792.77L1622.20 799.48L1622.20 812.92L1613.25 819.63L1604.30 812.92L1604.30 799.48Z"/>
<path fill="#59116d" d="M1630.55 792.77L1639.50 799.48L1639.50 812.92L1630.55 819.63L1621.60 812.92L1621.60 799.48Z"/>
<path fill="#3f0a66" d="M1647.85 792.77L1656.80 799.48L1656.80 812.92L1647.85 819.63L1638.90 812.92L1638.90 799.48Z"/>
<path fill="#11092f" d="M1570.00 812.47L1578.95 819.18L1578.95 832.62L1570.00 839.33L1561.05 832.62L1561.05 819.18Z"/>
<path fill="#b53458" d="M1604.60 812.47L1613.55 819.18L1613.55 832.62L1604.60 839.33L1595.65 832.62L1595.65 819.18ZM1570.00 891.27L1578.95 897.98L1578.95 911.42L1570.00 918.13L1561.05 911.42L1561.05 897.98ZM1509.45 950.37L1518.40 957.08L1518.40 970.52L1509.45 977.23L1500.50 970.52L1500.50 957.08Z"/>
<path fill="#71196d" d="M1621.90 812.47L1630.85 819.18L1630.85 832.62L1621.90 839.33L1612.95 832.62L1612.95 819.18Z"/>
<path fill="#450b69" d="M1639.20 812.47L1648.15 819.18L1648.15 832.62L1639.20 839.33L1630.25 832.62L1630.25 819.18Z"/>
<path fill="#050311" d="M1673.80 812.47L1682.75 819.18L1682.75 832.62L1673.80 839.33L1664.85 832.62L1664.85 819.18Z"/>
<path fill="#170a39" d="M1561.35 832.17L1570.30 838.88L1570.30 852.32L1561.35 859.03L1552.40 852.32L1552.40 838.88Z"/>
<path fill="#bc3853" d="M1578.65 832.17L1587.60 838.88L1587.60 852.32L1578.65 859.03L1569.70 852.32L1569.70 838.88ZM1526.75 950.37L1535.70 957.08L1535.70 970.52L1526.75 977.23L1517.80 970.52L1517.80 957.08Z"/>
<path fill="#520f6c" d="M1595.95 832.17L1604.90 838.88L1604.90 852.32L1595.95 859.03L1587.00 852.32L1587.00 838.88Z"/>
<path fill="#9e2a62" d="M1613.25 832.17L1622.20 838.88L1622.20 852.32L1613.25 859.03L1604.30 852.32L1604.30 838.88Z"/>
<path fill="#2a0c54" d="M1630.55 832.17L1639.50 838.88L1639.50 852.32L1630.55 859.03L1621.60 852.32L1621.60 838.88ZM1492.15 950.37L1501.10 957.08L1501.10 970.52L1492.15 977.23L1483.20 970.52L1483.20 957.08ZM1483.50 970.07L1492.45 976.78L1492.45 990.22L1483.50 996.93L1474.55 990.22L1474.55 976.78ZM1492.15 989.77L1501.10 996.48L1501.10 1009.92L1492.15 1016.63L1483.20 1009.92L1483.20 996.48Z"/>
<path fill="#0a061f" d="M1647.85 832.17L1656.80 838.88L1656.80 852.32L1647.85 859.03L1638.90 852.32L1638.90 838.88Z"/>
<path fill="#10092e" d="M1535.40 851.87L1544.35 858.58L1544.35 872.02L1535.40 878.73L1526.45 872.02L1526.45 858.58Z"/>
<path fill="#320b5b" d="M1552.70 851.87L1561.65 858.58L1561.65 872.02L1552.70 878.73L1543.75 872.02L1543.75 858.58Z"/>
<path fill="#e9642a" d="M1570.00 851.87L1578.95 858.58L1578.95 872.02L1570.00 878.73L1561.05 872.02L1561.05 858.58ZM1552.70 891.27L1561.65 897.98L1561.65 911.42L1552.70 918.13L1543.75 911.42L1543.75 897.98Z"/>
<path fill="#7d1e6c" d="M1587.30 851.87L1596.25 858.58L1596.25 872.02L1587.30 878.73L1578.35 872.02L1578.35 858.58Z"/>
<path fill="#8f2568" d="M1604.60 851.87L1613.55 858.58L1613.55 872.02L1604.60 878.73L1595.65 872.02L1595.65 858.58Z"/>
<path fill="#1e0b44" d="M1621.90 851.87L1630.85 858.58L1630.85 872.02L1621.90 878.73L1612.95 872.02L1612.95 858.58Z"/>
<path fill="#060415" d="M1639.20 851.87L1648.15 858.58L1648.15 872.02L1639.20 878.73L1630.25 872.02L1630.25 858.58ZM1518.10 1009.47L1527.05 1016.18L1527.05 1029.62L1518.10 1036.33L1509.15 1029.62L1509.15 1016.18ZM1492.15 1029.17L1501.10 1035.88L1501.10 1049.32L1492.15 1056.03L1483.20 1049.32L1483.20 1035.88Z"/>
<path fill="#10092d" d="M1526.75 871.57L1535.70 878.28L1535.70 891.72L1526.75 898.43L1517.80 891.72L1517.80 878.28ZM1474.85 950.37L1483.80 957.08L1483.80 970.52L1474.85 977.23L1465.90 970.52L1465.90 957.08Z"/>
<path fill="#c33b4f" d="M1544.05 871.57L1553.00 878.28L1553.00 891.72L1544.05 898.43L1535.10 891.72L1535.10 878.28ZM1526.75 910.97L1535.70 917.68L1535.70 931.12L1526.75 937.83L1517.80 931.12L1517.80 917.68ZM1552.70 930.67L1561.65 937.38L1561.65 950.82L1552.70 957.53L1543.75 950.82L1543.75 937.38Z"/>
<path fill="#87216a" d="M1561.35 871.57L1570.30 878.28L1570.30 891.72L1561.35 898.43L1552.40 891.72L1552.40 878.28Z"/>
<path fill="#e05635" d="M1578.65 871.57L1587.60 878.28L1587.60 891.72L1578.65 898.43L1569.70 891.72L1569.70 878.28Z"/>
<path fill="#410a67" d="M1595.95 871.57L1604.90 878.28L1604.90 891.72L1595.95 898.43L1587.00 891.72L1587.00 878.28Z"/>
<path fill="#130932" d="M1613.25 871.57L1622.20 878.28L1622.20 891.72L1613.25 898.43L1604.30 891.72L1604.30 878.28Z"/>
<path fill="#050413" d="M1630.55 871.57L1639.50 878.28L1639.50 891.72L1630.55 898.43L1621.60 891.72L1621.60 878.28ZM1552.70 970.07L1561.65 976.78L1561.65 990.22L1552.70 996.93L1543.75 990.22L1543.75 976.78Z"/>
<path fill="#350b5d" d="M1518.10 891.27L1527.05 897.98L1527.05 911.42L1518.10 918.13L1509.15 911.42L1509.15 897.98Z"/>
<path fill="#470c69" d="M1535.40 891.27L1544.35 897.98L1544.35 911.42L1535.40 918.13L1526.45 911.42L1526.45 897.98Z"/>
<path fill="#3e0a64" d="M1587.30 891.27L1596.25 897.98L1596.25 911.42L1587.30 918.13L1578.35 911.42L1578.35 897.98Z"/>
<path fill="#0d0827" d="M1604.60 891.27L1613.55 897.98L1613.55 911.42L1604.60 918.13L1595.65 911.42L1595.65 897.98Z"/>
<path fill="#09061e" d="M1492.15 910.97L1501.10 917.68L1501.10 931.12L1492.15 937.83L1483.20 931.12L1483.20 917.68Z"/>
<path fill="#340b5d" d="M1509.45 910.97L1518.40 917.68L1518.40 931.12L1509.45 937.83L1500.50 931.12L1500.50 917.68Z"/>
<path fill="#fafa97" d="M1544.05 910.97L1553.00 917.68L1553.00 931.12L1544.05 937.83L1535.10 931.12L1535.10 917.68Z"/>
<path fill="#5a116d" d="M1561.35 910.97L1570.30 917.68L1570.30 931.12L1561.35 937.83L1552.40 931.12L1552.40 917.68Z"/>
<path fill="#290c54" d="M1578.65 910.97L1587.60 917.68L1587.60 931.12L1578.65 937.83L1569.70 931.12L1569.70 917.68Z"/>
<path fill="#080519" d="M1595.95 910.97L1604.90 917.68L1604.90 931.12L1595.95 937.83L1587.00 931.12L1587.00 917.68Z"/>
<path fill="#140934" d="M1483.50 930.67L1492.45 937.38L1492.45 950.82L1483.50 957.53L1474.55 950.82L1474.55 937.38Z"/>
<path fill="#270c52" d="M1500.80 930.67L1509.75 937.38L1509.75 950.82L1500.80 957.53L1491.85 950.82L1491.85 937.38Z"/>
<path fill="#fca50a" d="M1518.10 930.67L1527.05 937.38L1527.05 950.82L1518.10 957.53L1509.15 950.82L1509.15 937.38Z"/>
<path fill="#83206a" d="M1535.40 930.67L1544.35 937.38L1544.35 950.82L1535.40 957.53L1526.45 950.82L1526.45 937.38Z"/>
<path fill="#190a3c" d="M1570.00 930.67L1578.95 937.38L1578.95 950.82L1570.00 957.53L1561.05 950.82L1561.05 937.38Z"/>
<path fill="#2b0c55" d="M1544.05 950.37L1553.00 957.08L1553.00 970.52L1544.05 977.23L1535.10 970.52L1535.10 957.08Z"/>
<path fill="#390b60" d="M1500.80 970.07L1509.75 976.78L1509.75 990.22L1500.80 996.93L1491.85 990.22L1491.85 976.78Z"/>
<path fill="#972765" d="M1518.10 970.07L1527.05 976.78L1527.05 990.22L1518.10 996.93L1509.15 990.22L1509.15 976.78Z"/>
<path fill="#140933" d="M1535.40 970.07L1544.35 976.78L1544.35 990.22L1535.40 996.93L1526.45 990.22L1526.45 976.78Z"/>
<path fill="#1e0b45" d="M1474.85 989.77L1483.80 996.48L1483.80 1009.92L1474.85 1016.63L1465.90 1009.92L1465.90 996.48Z"/>
<path fill="#230c4d" d="M1509.45 989.77L1518.40 996.48L1518.40 1009.92L1509.45 1016.63L1500.50 1009.92L1500.50 996.48Z"/>
<path fill="#09061d" d="M1448.90 1009.47L1457.85 1016.18L1457.85 1029.62L1448.90 1036.33L1439.95 1029.62L1439.95 1016.18Z"/>
<path fill="#0c0825" d="M1466.20 1009.47L1475.15 1016.18L1475.15 1029.62L1466.20 1036.33L1457.25 1029.62L1457.25 1016.18Z"/>
<path fill="#0e082a" d="M1483.50 1009.47L1492.45 1016.18L1492.45 1029.62L1483.50 1036.33L1474.55 1029.62L1474.55 1016.18Z"/>
<path fill="#0b0724" d="M1500.80 1009.47L1509.75 1016.18L1509.75 1029.62L1500.80 1036.33L1491.85 1029.62L1491.85 1016.18Z"/>
<path fill="#050312" d="M1440.25 1029.17L1449.20 1035.88L1449.20 1049.32L1440.25 1056.03L1431.30 1049.32L1431.30 1035.88Z"/>
</g>
<g clip-path="url(#clc)">
<path fill="#020109" d="M367.90 1615.70L373.51 1619.85L373.51 1628.15L367.90 1632.30L362.29 1628.15L362.29 1619.85ZM367.90 1663.70L373.51 1667.85L373.51 1676.15L367.90 1680.30L362.29 1676.15L362.29 1667.85ZM325.42 1831.70L331.03 1835.85L331.03 1844.15L325.42 1848.30L319.81 1844.15L319.81 1835.85ZM298.87 1915.70L304.48 1919.85L304.48 1928.15L298.87 1932.30L293.26 1928.15L293.26 1919.85ZM304.18 1927.70L309.79 1931.85L309.79 1940.15L304.18 1944.30L298.57 1940.15L298.57 1931.85ZM346.66 1927.70L352.27 1931.85L352.27 1940.15L346.66 1944.30L341.05 1940.15L341.05 1931.85ZM277.63 1963.70L283.24 1967.85L283.24 1976.15L277.63 1980.30L272.02 1976.15L272.02 1967.85ZM288.25 1963.70L293.86 1967.85L293.86 1976.15L288.25 1980.30L282.64 1976.15L282.64 1967.85ZM298.87 1963.70L304.48 1967.85L304.48 1976.15L298.87 1980.30L293.26 1976.15L293.26 1967.85ZM309.49 1963.70L315.10 1967.85L315.10 1976.15L309.49 1980.30L303.88 1976.15L303.88 1967.85ZM373.21 1963.70L378.82 1967.85L378.82 1976.15L373.21 1980.30L367.60 1976.15L367.60 1967.85ZM282.94 1975.70L288.55 1979.85L288.55 1988.15L282.94 1992.30L277.33 1988.15L277.33 1979.85ZM293.56 1975.70L299.17 1979.85L299.17 1988.15L293.56 1992.30L287.95 1988.15L287.95 1979.85ZM309.49 1987.70L315.10 1991.85L315.10 2000.15L309.49 2004.30L303.88 2000.15L303.88 1991.85ZM245.77 2011.70L251.38 2015.85L251.38 2024.15L245.77 2028.30L240.16 2024.15L240.16 2015.85ZM251.08 2023.70L256.69 2027.85L256.69 2036.15L251.08 2040.30L245.47 2036.15L245.47 2027.85ZM251.08 2047.70L256.69 2051.85L256.69 2060.15L251.08 2064.30L245.47 2060.15L245.47 2051.85ZM325.42 2047.70L331.03 2051.85L331.03 2060.15L325.42 2064.30L319.81 2060.15L319.81 2051.85ZM203.29 2059.70L208.90 2063.85L208.90 2072.15L203.29 2076.30L197.68 2072.15L197.68 2063.85ZM251.08 2071.70L256.69 2075.85L256.69 2084.15L251.08 2088.30L245.47 2084.15L245.47 2075.85ZM314.80 2071.70L320.41 2075.85L320.41 2084.15L314.80 2088.30L309.19 2084.15L309.19 2075.85ZM346.66 2071.70L352.27 2075.85L352.27 2084.15L346.66 2088.30L341.05 2084.15L341.05 2075.85ZM224.53 2083.70L230.14 2087.85L230.14 2096.15L224.53 2100.30L218.92 2096.15L218.92 2087.85ZM256.39 2083.70L262.00 2087.85L262.00 2096.15L256.39 2100.30L250.78 2096.15L250.78 2087.85ZM288.25 2083.70L293.86 2087.85L293.86 2096.15L288.25 2100.30L282.64 2096.15L282.64 2087.85ZM282.94 2095.70L288.55 2099.85L288.55 2108.15L282.94 2112.30L277.33 2108.15L277.33 2099.85ZM293.56 2095.70L299.17 2099.85L299.17 2108.15L293.56 2112.30L287.95 2108.15L287.95 2099.85ZM304.18 2095.70L309.79 2099.85L309.79 2108.15L304.18 2112.30L298.57 2108.15L298.57 2099.85ZM203.29 2107.70L208.90 2111.85L208.90 2120.15L203.29 2124.30L197.68 2120.15L197.68 2111.85ZM224.53 2107.70L230.14 2111.85L230.14 2120.15L224.53 2124.30L218.92 2120.15L218.92 2111.85ZM298.87 2107.70L304.48 2111.85L304.48 2120.15L298.87 2124.30L293.26 2120.15L293.26 2111.85ZM176.74 2119.70L182.35 2123.85L182.35 2132.15L176.74 2136.30L171.13 2132.15L171.13 2123.85ZM219.22 2119.70L224.83 2123.85L224.83 2132.15L219.22 2136.30L213.61 2132.15L213.61 2123.85ZM229.84 2119.70L235.45 2123.85L235.45 2132.15L229.84 2136.30L224.23 2132.15L224.23 2123.85ZM261.70 2119.70L267.31 2123.85L267.31 2132.15L261.70 2136.30L256.09 2132.15L256.09 2123.85ZM293.56 2119.70L299.17 2123.85L299.17 2132.15L293.56 2136.30L287.95 2132.15L287.95 2123.85ZM245.77 2131.70L251.38 2135.85L251.38 2144.15L245.77 2148.30L240.16 2144.15L240.16 2135.85ZM277.63 2131.70L283.24 2135.85L283.24 2144.15L277.63 2148.30L272.02 2144.15L272.02 2135.85ZM304.18 2143.70L309.79 2147.85L309.79 2156.15L304.18 2160.30L298.57 2156.15L298.57 2147.85ZM160.81 2155.70L166.42 2159.85L166.42 2168.15L160.81 2172.30L155.20 2168.15L155.20 2159.85ZM171.43 2155.70L177.04 2159.85L177.04 2168.15L171.43 2172.30L165.82 2168.15L165.82 2159.85ZM203.29 2155.70L208.90 2159.85L208.90 2168.15L203.29 2172.30L197.68 2168.15L197.68 2159.85ZM213.91 2155.70L219.52 2159.85L219.52 2168.15L213.91 2172.30L208.30 2168.15L208.30 2159.85ZM277.63 2155.70L283.24 2159.85L283.24 2168.15L277.63 2172.30L272.02 2168.15L272.02 2159.85ZM240.46 2167.70L246.07 2171.85L246.07 2180.15L240.46 2184.30L234.85 2180.15L234.85 2171.85ZM150.19 2179.70L155.80 2183.85L155.80 2192.15L150.19 2196.30L144.58 2192.15L144.58 2183.85ZM235.15 2179.70L240.76 2183.85L240.76 2192.15L235.15 2196.30L229.54 2192.15L229.54 2183.85ZM256.39 2203.70L262.00 2207.85L262.00 2216.15L256.39 2220.30L250.78 2216.15L250.78 2207.85ZM251.08 2215.70L256.69 2219.85L256.69 2228.15L251.08 2232.30L245.47 2228.15L245.47 2219.85ZM293.56 2215.70L299.17 2219.85L299.17 2228.15L293.56 2232.30L287.95 2228.15L287.95 2219.85ZM277.63 2227.70L283.24 2231.85L283.24 2240.15L277.63 2244.30L272.02 2240.15L272.02 2231.85ZM229.84 2239.70L235.45 2243.85L235.45 2252.15L229.84 2256.30L224.23 2252.15L224.23 2243.85Z"/>
<path fill="#010106" d="M320.11 1675.70L325.72 1679.85L325.72 1688.15L320.11 1692.30L314.50 1688.15L314.50 1679.85ZM325.42 1807.70L331.03 1811.85L331.03 1820.15L325.42 1824.30L319.81 1820.15L319.81 1811.85ZM298.87 1843.70L304.48 1847.85L304.48 1856.15L298.87 1860.30L293.26 1856.15L293.26 1847.85ZM367.90 1927.70L373.51 1931.85L373.51 1940.15L367.90 1944.30L362.29 1940.15L362.29 1931.85ZM320.11 1939.70L325.72 1943.85L325.72 1952.15L320.11 1956.30L314.50 1952.15L314.50 1943.85ZM351.97 1939.70L357.58 1943.85L357.58 1952.15L351.97 1956.30L346.36 1952.15L346.36 1943.85ZM282.94 1951.70L288.55 1955.85L288.55 1964.15L282.94 1968.30L277.33 1964.15L277.33 1955.85ZM293.56 1951.70L299.17 1955.85L299.17 1964.15L293.56 1968.30L287.95 1964.15L287.95 1955.85ZM304.18 1975.70L309.79 1979.85L309.79 1988.15L304.18 1992.30L298.57 1988.15L298.57 1979.85ZM224.53 1987.70L230.14 1991.85L230.14 2000.15L224.53 2004.30L218.92 2000.15L218.92 1991.85ZM373.21 1987.70L378.82 1991.85L378.82 2000.15L373.21 2004.30L367.60 2000.15L367.60 1991.85ZM272.32 2047.70L277.93 2051.85L277.93 2060.15L272.32 2064.30L266.71 2060.15L266.71 2051.85ZM293.56 2047.70L299.17 2051.85L299.17 2060.15L293.56 2064.30L287.95 2060.15L287.95 2051.85ZM293.56 2071.70L299.17 2075.85L299.17 2084.15L293.56 2088.30L287.95 2084.15L287.95 2075.85ZM325.42 2095.70L331.03 2099.85L331.03 2108.15L325.42 2112.30L319.81 2108.15L319.81 2099.85ZM213.91 2107.70L219.52 2111.85L219.52 2120.15L213.91 2124.30L208.30 2120.15L208.30 2111.85ZM192.67 2131.70L198.28 2135.85L198.28 2144.15L192.67 2148.30L187.06 2144.15L187.06 2135.85ZM272.32 2143.70L277.93 2147.85L277.93 2156.15L272.32 2160.30L266.71 2156.15L266.71 2147.85Z"/>
<path fill="#02010a" d="M367.90 1687.70L373.51 1691.85L373.51 1700.15L367.90 1704.30L362.29 1700.15L362.29 1691.85ZM325.42 1783.70L331.03 1787.85L331.03 1796.15L325.42 1800.30L319.81 1796.15L319.81 1787.85ZM320.11 1867.70L325.72 1871.85L325.72 1880.15L320.11 1884.30L314.50 1880.15L314.50 1871.85ZM256.39 1939.70L262.00 1943.85L262.00 1952.15L256.39 1956.30L250.78 1952.15L250.78 1943.85ZM309.49 1939.70L315.10 1943.85L315.10 1952.15L309.49 1956.30L303.88 1952.15L303.88 1943.85ZM320.11 1963.70L325.72 1967.85L325.72 1976.15L320.11 1980.30L314.50 1976.15L314.50 1967.85ZM367.90 1975.70L373.51 1979.85L373.51 1988.15L367.90 1992.30L362.29 1988.15L362.29 1979.85ZM229.84 1999.70L235.45 2003.85L235.45 2012.15L229.84 2016.30L224.23 2012.15L224.23 2003.85ZM298.87 2011.70L304.48 2015.85L304.48 2024.15L298.87 2028.30L293.26 2024.15L293.26 2015.85ZM197.98 2047.70L203.59 2051.85L203.59 2060.15L197.98 2064.30L192.37 2060.15L192.37 2051.85ZM304.18 2047.70L309.79 2051.85L309.79 2060.15L304.18 2064.30L298.57 2060.15L298.57 2051.85ZM346.66 2047.70L352.27 2051.85L352.27 2060.15L346.66 2064.30L341.05 2060.15L341.05 2051.85ZM288.25 2059.70L293.86 2063.85L293.86 2072.15L288.25 2076.30L282.64 2072.15L282.64 2063.85ZM309.49 2059.70L315.10 2063.85L315.10 2072.15L309.49 2076.30L303.88 2072.15L303.88 2063.85ZM320.11 2059.70L325.72 2063.85L325.72 2072.15L320.11 2076.30L314.50 2072.15L314.50 2063.85ZM351.97 2059.70L357.58 2063.85L357.58 2072.15L351.97 2076.30L346.36 2072.15L346.36 2063.85ZM309.49 2083.70L315.10 2087.85L315.10 2096.15L309.49 2100.30L303.88 2096.15L303.88 2087.85ZM320.11 2083.70L325.72 2087.85L325.72 2096.15L320.11 2100.30L314.50 2096.15L314.50 2087.85ZM373.21 2083.70L378.82 2087.85L378.82 2096.15L373.21 2100.30L367.60 2096.15L367.60 2087.85ZM240.46 2095.70L246.07 2099.85L246.07 2108.15L240.46 2112.30L234.85 2108.15L234.85 2099.85ZM261.70 2095.70L267.31 2099.85L267.31 2108.15L261.70 2112.30L256.09 2108.15L256.09 2099.85ZM160.81 2107.70L166.42 2111.85L166.42 2120.15L160.81 2124.30L155.20 2120.15L155.20 2111.85ZM171.43 2107.70L177.04 2111.85L177.04 2120.15L171.43 2124.30L165.82 2120.15L165.82 2111.85ZM192.67 2107.70L198.28 2111.85L198.28 2120.15L192.67 2124.30L187.06 2120.15L187.06 2111.85ZM277.63 2107.70L283.24 2111.85L283.24 2120.15L277.63 2124.30L272.02 2120.15L272.02 2111.85ZM208.60 2119.70L214.21 2123.85L214.21 2132.15L208.60 2136.30L202.99 2132.15L202.99 2123.85ZM251.08 2119.70L256.69 2123.85L256.69 2132.15L251.08 2136.30L245.47 2132.15L245.47 2123.85ZM272.32 2119.70L277.93 2123.85L277.93 2132.15L272.32 2136.30L266.71 2132.15L266.71 2123.85ZM325.42 2119.70L331.03 2123.85L331.03 2132.15L325.42 2136.30L319.81 2132.15L319.81 2123.85ZM224.53 2131.70L230.14 2135.85L230.14 2144.15L224.53 2148.30L218.92 2144.15L218.92 2135.85ZM256.39 2131.70L262.00 2135.85L262.00 2144.15L256.39 2148.30L250.78 2144.15L250.78 2135.85ZM288.25 2131.70L293.86 2135.85L293.86 2144.15L288.25 2148.30L282.64 2144.15L282.64 2135.85ZM187.36 2143.70L192.97 2147.85L192.97 2156.15L187.36 2160.30L181.75 2156.15L181.75 2147.85ZM229.84 2143.70L235.45 2147.85L235.45 2156.15L229.84 2160.30L224.23 2156.15L224.23 2147.85ZM282.94 2143.70L288.55 2147.85L288.55 2156.15L282.94 2160.30L277.33 2156.15L277.33 2147.85ZM192.67 2155.70L198.28 2159.85L198.28 2168.15L192.67 2172.30L187.06 2168.15L187.06 2159.85ZM256.39 2155.70L262.00 2159.85L262.00 2168.15L256.39 2172.30L250.78 2168.15L250.78 2159.85ZM298.87 2155.70L304.48 2159.85L304.48 2168.15L298.87 2172.30L293.26 2168.15L293.26 2159.85ZM351.97 2155.70L357.58 2159.85L357.58 2168.15L351.97 2172.30L346.36 2168.15L346.36 2159.85ZM293.56 2167.70L299.17 2171.85L299.17 2180.15L293.56 2184.30L287.95 2180.15L287.95 2171.85ZM251.08 2191.70L256.69 2195.85L256.69 2204.15L251.08 2208.30L245.47 2204.15L245.47 2195.85ZM229.84 2215.70L235.45 2219.85L235.45 2228.15L229.84 2232.30L224.23 2228.15L224.23 2219.85ZM240.46 2215.70L246.07 2219.85L246.07 2228.15L240.46 2232.30L234.85 2228.15L234.85 2219.85ZM309.49 2227.70L315.10 2231.85L315.10 2240.15L309.49 2244.30L303.88 2240.15L303.88 2231.85Z"/>
<path fill="#010107" d="M373.21 1699.70L378.82 1703.85L378.82 1712.15L373.21 1716.30L367.60 1712.15L367.60 1703.85ZM367.90 1735.70L373.51 1739.85L373.51 1748.15L367.90 1752.30L362.29 1748.15L362.29 1739.85ZM325.42 1879.70L331.03 1883.85L331.03 1892.15L325.42 1896.30L319.81 1892.15L319.81 1883.85ZM351.97 1891.70L357.58 1895.85L357.58 1904.15L351.97 1908.30L346.36 1904.15L346.36 1895.85ZM229.84 1927.70L235.45 1931.85L235.45 1940.15L229.84 1944.30L224.23 1940.15L224.23 1931.85ZM325.42 1927.70L331.03 1931.85L331.03 1940.15L325.42 1944.30L319.81 1940.15L319.81 1931.85ZM288.25 1939.70L293.86 1943.85L293.86 1952.15L288.25 1956.30L282.64 1952.15L282.64 1943.85ZM325.42 1951.70L331.03 1955.85L331.03 1964.15L325.42 1968.30L319.81 1964.15L319.81 1955.85ZM251.08 1999.70L256.69 2003.85L256.69 2012.15L251.08 2016.30L245.47 2012.15L245.47 2003.85ZM282.94 1999.70L288.55 2003.85L288.55 2012.15L282.94 2016.30L277.33 2012.15L277.33 2003.85ZM304.18 1999.70L309.79 2003.85L309.79 2012.15L304.18 2016.30L298.57 2012.15L298.57 2003.85ZM367.90 1999.70L373.51 2003.85L373.51 2012.15L367.90 2016.30L362.29 2012.15L362.29 2003.85ZM277.63 2011.70L283.24 2015.85L283.24 2024.15L277.63 2028.30L272.02 2024.15L272.02 2015.85ZM288.25 2011.70L293.86 2015.85L293.86 2024.15L288.25 2028.30L282.64 2024.15L282.64 2015.85ZM309.49 2011.70L315.10 2015.85L315.10 2024.15L309.49 2028.30L303.88 2024.15L303.88 2015.85ZM192.67 2035.70L198.28 2039.85L198.28 2048.15L192.67 2052.30L187.06 2048.15L187.06 2039.85ZM277.63 2035.70L283.24 2039.85L283.24 2048.15L277.63 2052.30L272.02 2048.15L272.02 2039.85ZM351.97 2035.70L357.58 2039.85L357.58 2048.15L351.97 2052.30L346.36 2048.15L346.36 2039.85ZM298.87 2059.70L304.48 2063.85L304.48 2072.15L298.87 2076.30L293.26 2072.15L293.26 2063.85ZM240.46 2071.70L246.07 2075.85L246.07 2084.15L240.46 2088.30L234.85 2084.15L234.85 2075.85ZM282.94 2071.70L288.55 2075.85L288.55 2084.15L282.94 2088.30L277.33 2084.15L277.33 2075.85ZM245.77 2083.70L251.38 2087.85L251.38 2096.15L245.77 2100.30L240.16 2096.15L240.16 2087.85ZM351.97 2083.70L357.58 2087.85L357.58 2096.15L351.97 2100.30L346.36 2096.15L346.36 2087.85ZM314.80 2095.70L320.41 2099.85L320.41 2108.15L314.80 2112.30L309.19 2108.15L309.19 2099.85ZM346.66 2095.70L352.27 2099.85L352.27 2108.15L346.66 2112.30L341.05 2108.15L341.05 2099.85ZM367.90 2095.70L373.51 2099.85L373.51 2108.15L367.90 2112.30L362.29 2108.15L362.29 2099.85ZM235.15 2107.70L240.76 2111.85L240.76 2120.15L235.15 2124.30L229.54 2120.15L229.54 2111.85ZM288.25 2107.70L293.86 2111.85L293.86 2120.15L288.25 2124.30L282.64 2120.15L282.64 2111.85ZM197.98 2119.70L203.59 2123.85L203.59 2132.15L197.98 2136.30L192.37 2132.15L192.37 2123.85ZM240.46 2119.70L246.07 2123.85L246.07 2132.15L240.46 2136.30L234.85 2132.15L234.85 2123.85ZM282.94 2119.70L288.55 2123.85L288.55 2132.15L282.94 2136.30L277.33 2132.15L277.33 2123.85ZM304.18 2119.70L309.79 2123.85L309.79 2132.15L304.18 2136.30L298.57 2132.15L298.57 2123.85ZM182.05 2131.70L187.66 2135.85L187.66 2144.15L182.05 2148.30L176.44 2144.15L176.44 2135.85ZM176.74 2143.70L182.35 2147.85L182.35 2156.15L176.74 2160.30L171.13 2156.15L171.13 2147.85ZM208.60 2143.70L214.21 2147.85L214.21 2156.15L208.60 2160.30L202.99 2156.15L202.99 2147.85ZM219.22 2143.70L224.83 2147.85L224.83 2156.15L219.22 2160.30L213.61 2156.15L213.61 2147.85ZM235.15 2155.70L240.76 2159.85L240.76 2168.15L235.15 2172.30L229.54 2168.15L229.54 2159.85ZM261.70 2167.70L267.31 2171.85L267.31 2180.15L261.70 2184.30L256.09 2180.15L256.09 2171.85ZM282.94 2167.70L288.55 2171.85L288.55 2180.15L282.94 2184.30L277.33 2180.15L277.33 2171.85ZM245.77 2203.70L251.38 2207.85L251.38 2216.15L245.77 2220.30L240.16 2216.15L240.16 2207.85ZM288.25 2203.70L293.86 2207.85L293.86 2216.15L288.25 2220.30L282.64 2216.15L282.64 2207.85ZM256.39 2227.70L262.00 2231.85L262.00 2240.15L256.39 2244.30L250.78 2240.15L250.78 2231.85ZM224.53 2251.70L230.14 2255.85L230.14 2264.15L224.53 2268.30L218.92 2264.15L218.92 2255.85ZM235.15 2251.70L240.76 2255.85L240.76 2264.15L235.15 2268.30L229.54 2264.15L229.54 2255.85ZM245.77 2251.70L251.38 2255.85L251.38 2264.15L245.77 2268.30L240.16 2264.15L240.16 2255.85ZM256.39 2251.70L262.00 2255.85L262.00 2264.15L256.39 2268.30L250.78 2264.15L250.78 2255.85ZM277.63 2251.70L283.24 2255.85L283.24 2264.15L277.63 2268.30L272.02 2264.15L272.02 2255.85Z"/>
<path fill="#020108" d="M367.90 1711.70L373.51 1715.85L373.51 1724.15L367.90 1728.30L362.29 1724.15L362.29 1715.85ZM373.21 1723.70L378.82 1727.85L378.82 1736.15L373.21 1740.30L367.60 1736.15L367.60 1727.85ZM373.21 1843.70L378.82 1847.85L378.82 1856.15L373.21 1860.30L367.60 1856.15L367.60 1847.85ZM373.21 1891.70L378.82 1895.85L378.82 1904.15L373.21 1908.30L367.60 1904.15L367.60 1895.85ZM314.80 1975.70L320.41 1979.85L320.41 1988.15L314.80 1992.30L309.19 1988.15L309.19 1979.85ZM277.63 1987.70L283.24 1991.85L283.24 2000.15L277.63 2004.30L272.02 2000.15L272.02 1991.85ZM293.56 1999.70L299.17 2003.85L299.17 2012.15L293.56 2016.30L287.95 2012.15L287.95 2003.85ZM325.42 1999.70L331.03 2003.85L331.03 2012.15L325.42 2016.30L319.81 2012.15L319.81 2003.85ZM256.39 2011.70L262.00 2015.85L262.00 2024.15L256.39 2028.30L250.78 2024.15L250.78 2015.85ZM261.70 2071.70L267.31 2075.85L267.31 2084.15L261.70 2088.30L256.09 2084.15L256.09 2075.85ZM251.08 2095.70L256.69 2099.85L256.69 2108.15L251.08 2112.30L245.47 2108.15L245.47 2099.85ZM229.84 2167.70L235.45 2171.85L235.45 2180.15L229.84 2184.30L224.23 2180.15L224.23 2171.85ZM261.70 2215.70L267.31 2219.85L267.31 2228.15L261.70 2232.30L256.09 2228.15L256.09 2219.85Z"/>
<path fill="#02020a" d="M373.21 1747.70L378.82 1751.85L378.82 1760.15L373.21 1764.30L367.60 1760.15L367.60 1751.85ZM346.66 1951.70L352.27 1955.85L352.27 1964.15L346.66 1968.30L341.05 1964.15L341.05 1955.85ZM277.63 2059.70L283.24 2063.85L283.24 2072.15L277.63 2076.30L272.02 2072.15L272.02 2063.85ZM229.84 2071.70L235.45 2075.85L235.45 2084.15L229.84 2088.30L224.23 2084.15L224.23 2075.85ZM304.18 2071.70L309.79 2075.85L309.79 2084.15L304.18 2088.30L298.57 2084.15L298.57 2075.85ZM171.43 2131.70L177.04 2135.85L177.04 2144.15L171.43 2148.30L165.82 2144.15L165.82 2135.85ZM251.08 2143.70L256.69 2147.85L256.69 2156.15L251.08 2160.30L245.47 2156.15L245.47 2147.85ZM235.15 2227.70L240.76 2231.85L240.76 2240.15L235.15 2244.30L229.54 2240.15L229.54 2231.85ZM219.22 2239.70L224.83 2243.85L224.83 2252.15L219.22 2256.30L213.61 2252.15L213.61 2243.85Z"/>
<path fill="#02020b" d="M304.18 1855.70L309.79 1859.85L309.79 1868.15L304.18 1872.30L298.57 1868.15L298.57 1859.85ZM325.42 1855.70L331.03 1859.85L331.03 1868.15L325.42 1872.30L319.81 1868.15L319.81 1859.85ZM155.50 1879.70L161.11 1883.85L161.11 1892.15L155.50 1896.30L149.89 1892.15L149.89 1883.85ZM320.11 1915.70L325.72 1919.85L325.72 1928.15L320.11 1932.30L314.50 1928.15L314.50 1919.85ZM351.97 1915.70L357.58 1919.85L357.58 1928.15L351.97 1932.30L346.36 1928.15L346.36 1919.85ZM293.56 1927.70L299.17 1931.85L299.17 1940.15L293.56 1944.30L287.95 1940.15L287.95 1931.85ZM251.08 1951.70L256.69 1955.85L256.69 1964.15L251.08 1968.30L245.47 1964.15L245.47 1955.85ZM367.90 1951.70L373.51 1955.85L373.51 1964.15L367.90 1968.30L362.29 1964.15L362.29 1955.85ZM256.39 1987.70L262.00 1991.85L262.00 2000.15L256.39 2004.30L250.78 2000.15L250.78 1991.85ZM288.25 2035.70L293.86 2039.85L293.86 2048.15L288.25 2052.30L282.64 2048.15L282.64 2039.85ZM298.87 2035.70L304.48 2039.85L304.48 2048.15L298.87 2052.30L293.26 2048.15L293.26 2039.85ZM309.49 2035.70L315.10 2039.85L315.10 2048.15L309.49 2052.30L303.88 2048.15L303.88 2039.85ZM314.80 2047.70L320.41 2051.85L320.41 2060.15L314.80 2064.30L309.19 2060.15L309.19 2051.85ZM245.77 2059.70L251.38 2063.85L251.38 2072.15L245.77 2076.30L240.16 2072.15L240.16 2063.85ZM219.22 2095.70L224.83 2099.85L224.83 2108.15L219.22 2112.30L213.61 2108.15L213.61 2099.85ZM272.32 2095.70L277.93 2099.85L277.93 2108.15L272.32 2112.30L266.71 2108.15L266.71 2099.85ZM245.77 2107.70L251.38 2111.85L251.38 2120.15L245.77 2124.30L240.16 2120.15L240.16 2111.85ZM314.80 2119.70L320.41 2123.85L320.41 2132.15L314.80 2136.30L309.19 2132.15L309.19 2123.85ZM155.50 2143.70L161.11 2147.85L161.11 2156.15L155.50 2160.30L149.89 2156.15L149.89 2147.85ZM197.98 2143.70L203.59 2147.85L203.59 2156.15L197.98 2160.30L192.37 2156.15L192.37 2147.85ZM240.46 2143.70L246.07 2147.85L246.07 2156.15L240.46 2160.30L234.85 2156.15L234.85 2147.85ZM224.53 2155.70L230.14 2159.85L230.14 2168.15L224.53 2172.30L218.92 2168.15L218.92 2159.85ZM219.22 2167.70L224.83 2171.85L224.83 2180.15L219.22 2184.30L213.61 2180.15L213.61 2171.85ZM251.08 2167.70L256.69 2171.85L256.69 2180.15L251.08 2184.30L245.47 2180.15L245.47 2171.85ZM224.53 2227.70L230.14 2231.85L230.14 2240.15L224.53 2244.30L218.92 2240.15L218.92 2231.85Z"/>
<path fill="#010108" d="M282.94 1903.70L288.55 1907.85L288.55 1916.15L282.94 1920.30L277.33 1916.15L277.33 1907.85ZM346.66 1903.70L352.27 1907.85L352.27 1916.15L346.66 1920.30L341.05 1916.15L341.05 1907.85ZM373.21 1939.70L378.82 1943.85L378.82 1952.15L373.21 1956.30L367.60 1952.15L367.60 1943.85ZM314.80 1951.70L320.41 1955.85L320.41 1964.15L314.80 1968.30L309.19 1964.15L309.19 1955.85ZM256.39 1963.70L262.00 1967.85L262.00 1976.15L256.39 1980.30L250.78 1976.15L250.78 1967.85ZM351.97 1963.70L357.58 1967.85L357.58 1976.15L351.97 1980.30L346.36 1976.15L346.36 1967.85ZM325.42 1975.70L331.03 1979.85L331.03 1988.15L325.42 1992.30L319.81 1988.15L319.81 1979.85ZM288.25 1987.70L293.86 1991.85L293.86 2000.15L288.25 2004.30L282.64 2000.15L282.64 1991.85ZM298.87 1987.70L304.48 1991.85L304.48 2000.15L298.87 2004.30L293.26 2000.15L293.26 1991.85ZM320.11 1987.70L325.72 1991.85L325.72 2000.15L320.11 2004.30L314.50 2000.15L314.50 1991.85ZM314.80 1999.70L320.41 2003.85L320.41 2012.15L314.80 2016.30L309.19 2012.15L309.19 2003.85ZM293.56 2023.70L299.17 2027.85L299.17 2036.15L293.56 2040.30L287.95 2036.15L287.95 2027.85ZM367.90 2023.70L373.51 2027.85L373.51 2036.15L367.90 2040.30L362.29 2036.15L362.29 2027.85ZM245.77 2035.70L251.38 2039.85L251.38 2048.15L245.77 2052.30L240.16 2048.15L240.16 2039.85ZM256.39 2035.70L262.00 2039.85L262.00 2048.15L256.39 2052.30L250.78 2048.15L250.78 2039.85ZM261.70 2047.70L267.31 2051.85L267.31 2060.15L261.70 2064.30L256.09 2060.15L256.09 2051.85ZM282.94 2047.70L288.55 2051.85L288.55 2060.15L282.94 2064.30L277.33 2060.15L277.33 2051.85ZM367.90 2047.70L373.51 2051.85L373.51 2060.15L367.90 2064.30L362.29 2060.15L362.29 2051.85ZM256.39 2059.70L262.00 2063.85L262.00 2072.15L256.39 2076.30L250.78 2072.15L250.78 2063.85ZM325.42 2071.70L331.03 2075.85L331.03 2084.15L325.42 2088.30L319.81 2084.15L319.81 2075.85ZM367.90 2071.70L373.51 2075.85L373.51 2084.15L367.90 2088.30L362.29 2084.15L362.29 2075.85ZM160.81 2083.70L166.42 2087.85L166.42 2096.15L160.81 2100.30L155.20 2096.15L155.20 2087.85ZM235.15 2083.70L240.76 2087.85L240.76 2096.15L235.15 2100.30L229.54 2096.15L229.54 2087.85ZM277.63 2083.70L283.24 2087.85L283.24 2096.15L277.63 2100.30L272.02 2096.15L272.02 2087.85ZM298.87 2083.70L304.48 2087.85L304.48 2096.15L298.87 2100.30L293.26 2096.15L293.26 2087.85ZM197.98 2095.70L203.59 2099.85L203.59 2108.15L197.98 2112.30L192.37 2108.15L192.37 2099.85ZM229.84 2095.70L235.45 2099.85L235.45 2108.15L229.84 2112.30L224.23 2108.15L224.23 2099.85ZM256.39 2107.70L262.00 2111.85L262.00 2120.15L256.39 2124.30L250.78 2120.15L250.78 2111.85ZM309.49 2107.70L315.10 2111.85L315.10 2120.15L309.49 2124.30L303.88 2120.15L303.88 2111.85ZM320.11 2107.70L325.72 2111.85L325.72 2120.15L320.11 2124.30L314.50 2120.15L314.50 2111.85ZM373.21 2107.70L378.82 2111.85L378.82 2120.15L373.21 2124.30L367.60 2120.15L367.60 2111.85ZM187.36 2119.70L192.97 2123.85L192.97 2132.15L187.36 2136.30L181.75 2132.15L181.75 2123.85ZM203.29 2131.70L208.90 2135.85L208.90 2144.15L203.29 2148.30L197.68 2144.15L197.68 2135.85ZM213.91 2131.70L219.52 2135.85L219.52 2144.15L213.91 2148.30L208.30 2144.15L208.30 2135.85ZM298.87 2131.70L304.48 2135.85L304.48 2144.15L298.87 2148.30L293.26 2144.15L293.26 2135.85ZM261.70 2143.70L267.31 2147.85L267.31 2156.15L261.70 2160.30L256.09 2156.15L256.09 2147.85ZM293.56 2143.70L299.17 2147.85L299.17 2156.15L293.56 2160.30L287.95 2156.15L287.95 2147.85ZM314.80 2143.70L320.41 2147.85L320.41 2156.15L314.80 2160.30L309.19 2156.15L309.19 2147.85ZM245.77 2155.70L251.38 2159.85L251.38 2168.15L245.77 2172.30L240.16 2168.15L240.16 2159.85ZM245.77 2179.70L251.38 2183.85L251.38 2192.15L245.77 2196.30L240.16 2192.15L240.16 2183.85ZM277.63 2179.70L283.24 2183.85L283.24 2192.15L277.63 2196.30L272.02 2192.15L272.02 2183.85ZM240.46 2191.70L246.07 2195.85L246.07 2204.15L240.46 2208.30L234.85 2204.15L234.85 2195.85ZM235.15 2203.70L240.76 2207.85L240.76 2216.15L235.15 2220.30L229.54 2216.15L229.54 2207.85ZM213.91 2251.70L219.52 2255.85L219.52 2264.15L213.91 2268.30L208.30 2264.15L208.30 2255.85Z"/>
<path fill="#03020b" d="M373.21 1915.70L378.82 1919.85L378.82 1928.15L373.21 1932.30L367.60 1928.15L367.60 1919.85ZM224.53 1939.70L230.14 1943.85L230.14 1952.15L224.53 1956.30L218.92 1952.15L218.92 1943.85ZM261.70 1951.70L267.31 1955.85L267.31 1964.15L261.70 1968.30L256.09 1964.15L256.09 1955.85ZM235.15 2131.70L240.76 2135.85L240.76 2144.15L235.15 2148.30L229.54 2144.15L229.54 2135.85ZM160.81 2179.70L166.42 2183.85L166.42 2192.15L160.81 2196.30L155.20 2192.15L155.20 2183.85Z"/>
<path fill="#010006" d="M229.84 1975.70L235.45 1979.85L235.45 1988.15L229.84 1992.30L224.23 1988.15L224.23 1979.85ZM373.21 2059.70L378.82 2063.85L378.82 2072.15L373.21 2076.30L367.60 2072.15L367.60 2063.85ZM272.32 2071.70L277.93 2075.85L277.93 2084.15L272.32 2088.30L266.71 2084.15L266.71 2075.85Z"/>
<path fill="#03020e" d="M187.36 2167.70L192.97 2171.85L192.97 2180.15L187.36 2184.30L181.75 2180.15L181.75 2171.85Z"/>
<path fill="#03020c" d="M197.98 2167.70L203.59 2171.85L203.59 2180.15L197.98 2184.30L192.37 2180.15L192.37 2171.85ZM208.60 2167.70L214.21 2171.85L214.21 2180.15L208.60 2184.30L202.99 2180.15L202.99 2171.85ZM197.98 2263.70L203.59 2267.85L203.59 2276.15L197.98 2280.30L192.37 2276.15L192.37 2267.85Z"/>
<path fill="#04030f" d="M182.05 2179.70L187.66 2183.85L187.66 2192.15L182.05 2196.30L176.44 2192.15L176.44 2183.85Z"/>
<path fill="#03020d" d="M203.29 2179.70L208.90 2183.85L208.90 2192.15L203.29 2196.30L197.68 2192.15L197.68 2183.85ZM224.53 2203.70L230.14 2207.85L230.14 2216.15L224.53 2220.30L218.92 2216.15L218.92 2207.85ZM213.91 2227.70L219.52 2231.85L219.52 2240.15L213.91 2244.30L208.30 2240.15L208.30 2231.85ZM208.60 2239.70L214.21 2243.85L214.21 2252.15L208.60 2256.30L202.99 2252.15L202.99 2243.85Z"/>
<path fill="#040311" d="M155.50 2191.70L161.11 2195.85L161.11 2204.15L155.50 2208.30L149.89 2204.15L149.89 2195.85Z"/>
<path fill="#050413" d="M166.12 2191.70L171.73 2195.85L171.73 2204.15L166.12 2208.30L160.51 2204.15L160.51 2195.85ZM203.29 2203.70L208.90 2207.85L208.90 2216.15L203.29 2220.30L197.68 2216.15L197.68 2207.85Z"/>
<path fill="#08051a" d="M187.36 2191.70L192.97 2195.85L192.97 2204.15L187.36 2208.30L181.75 2204.15L181.75 2195.85Z"/>
<path fill="#070417" d="M160.81 2203.70L166.42 2207.85L166.42 2216.15L160.81 2220.30L155.20 2216.15L155.20 2207.85Z"/>
<path fill="#070518" d="M171.43 2203.70L177.04 2207.85L177.04 2216.15L171.43 2220.30L165.82 2216.15L165.82 2207.85ZM182.05 2203.70L187.66 2207.85L187.66 2216.15L182.05 2220.30L176.44 2216.15L176.44 2207.85ZM208.60 2215.70L214.21 2219.85L214.21 2228.15L208.60 2232.30L202.99 2228.15L202.99 2219.85ZM192.67 2251.70L198.28 2255.85L198.28 2264.15L192.67 2268.30L187.06 2264.15L187.06 2255.85ZM187.36 2263.70L192.97 2267.85L192.97 2276.15L187.36 2280.30L181.75 2276.15L181.75 2267.85Z"/>
<path fill="#0a0720" d="M192.67 2203.70L198.28 2207.85L198.28 2216.15L192.67 2220.30L187.06 2216.15L187.06 2207.85Z"/>
<path fill="#040310" d="M213.91 2203.70L219.52 2207.85L219.52 2216.15L213.91 2220.30L208.30 2216.15L208.30 2207.85Z"/>
<path fill="#08051b" d="M144.88 2215.70L150.49 2219.85L150.49 2228.15L144.88 2232.30L139.27 2228.15L139.27 2219.85Z"/>
<path fill="#0b0824" d="M155.50 2215.70L161.11 2219.85L161.11 2228.15L155.50 2232.30L149.89 2228.15L149.89 2219.85Z"/>
<path fill="#120930" d="M166.12 2215.70L171.73 2219.85L171.73 2228.15L166.12 2232.30L160.51 2228.15L160.51 2219.85ZM166.12 2263.70L171.73 2267.85L171.73 2276.15L166.12 2280.30L160.51 2276.15L160.51 2267.85Z"/>
<path fill="#6a176e" d="M176.74 2215.70L182.35 2219.85L182.35 2228.15L176.74 2232.30L171.13 2228.15L171.13 2219.85ZM150.19 2251.70L155.80 2255.85L155.80 2264.15L150.19 2268.30L144.58 2264.15L144.58 2255.85ZM144.88 2263.70L150.49 2267.85L150.49 2276.15L144.88 2280.30L139.27 2276.15L139.27 2267.85Z"/>
<path fill="#0c0826" d="M187.36 2215.70L192.97 2219.85L192.97 2228.15L187.36 2232.30L181.75 2228.15L181.75 2219.85ZM192.67 2227.70L198.28 2231.85L198.28 2240.15L192.67 2244.30L187.06 2240.15L187.06 2231.85Z"/>
<path fill="#09061f" d="M197.98 2215.70L203.59 2219.85L203.59 2228.15L197.98 2232.30L192.37 2228.15L192.37 2219.85Z"/>
<path fill="#09061c" d="M150.19 2227.70L155.80 2231.85L155.80 2240.15L150.19 2244.30L144.58 2240.15L144.58 2231.85Z"/>
<path fill="#56106c" d="M160.81 2227.70L166.42 2231.85L166.42 2240.15L160.81 2244.30L155.20 2240.15L155.20 2231.85Z"/>
<path fill="#130932" d="M171.43 2227.70L177.04 2231.85L177.04 2240.15L171.43 2244.30L165.82 2240.15L165.82 2231.85ZM144.88 2239.70L150.49 2243.85L150.49 2252.15L144.88 2256.30L139.27 2252.15L139.27 2243.85Z"/>
<path fill="#150935" d="M182.05 2227.70L187.66 2231.85L187.66 2240.15L182.05 2244.30L176.44 2240.15L176.44 2231.85Z"/>
<path fill="#050312" d="M203.29 2227.70L208.90 2231.85L208.90 2240.15L203.29 2244.30L197.68 2240.15L197.68 2231.85Z"/>
<path fill="#a72e5f" d="M155.50 2239.70L161.11 2243.85L161.11 2252.15L155.50 2256.30L149.89 2252.15L149.89 2243.85Z"/>
<path fill="#1d0b43" d="M166.12 2239.70L171.73 2243.85L171.73 2252.15L166.12 2256.30L160.51 2252.15L160.51 2243.85Z"/>
<path fill="#7f1e6c" d="M176.74 2239.70L182.35 2243.85L182.35 2252.15L176.74 2256.30L171.13 2252.15L171.13 2243.85Z"/>
<path fill="#09061d" d="M187.36 2239.70L192.97 2243.85L192.97 2252.15L187.36 2256.30L181.75 2252.15L181.75 2243.85Z"/>
<path fill="#060414" d="M197.98 2239.70L203.59 2243.85L203.59 2252.15L197.98 2256.30L192.37 2252.15L192.37 2243.85Z"/>
<path fill="#fca50a" d="M160.81 2251.70L166.42 2255.85L166.42 2264.15L160.81 2268.30L155.20 2264.15L155.20 2255.85Z"/>
<path fill="#4a0c6a" d="M171.43 2251.70L177.04 2255.85L177.04 2264.15L171.43 2268.30L165.82 2264.15L165.82 2255.85Z"/>
<path fill="#0f082b" d="M182.05 2251.70L187.66 2255.85L187.66 2264.15L182.05 2268.30L176.44 2264.15L176.44 2255.85Z"/>
<path fill="#050311" d="M203.29 2251.70L208.90 2255.85L208.90 2264.15L203.29 2268.30L197.68 2264.15L197.68 2255.85Z"/>
<path fill="#fafb9a" d="M155.50 2263.70L161.11 2267.85L161.11 2276.15L155.50 2280.30L149.89 2276.15L149.89 2267.85Z"/>
<path fill="#0e0829" d="M176.74 2263.70L182.35 2267.85L182.35 2276.15L176.74 2280.30L171.13 2276.15L171.13 2267.85Z"/>
</g>
<g clip-path="url(#cld)">
<path fill="#010107" d="M1289.80 1628.63L1295.42 1632.77L1295.42 1641.03L1289.80 1645.17L1284.18 1641.03L1284.18 1632.77ZM1236.56 1676.43L1242.18 1680.57L1242.18 1688.83L1236.56 1692.97L1230.94 1688.83L1230.94 1680.57ZM1220.59 1688.38L1226.21 1692.52L1226.21 1700.78L1220.59 1704.92L1214.96 1700.78L1214.96 1692.52ZM1401.60 1688.38L1407.23 1692.52L1407.23 1700.78L1401.60 1704.92L1395.98 1700.78L1395.98 1692.52ZM1247.21 1700.33L1252.83 1704.47L1252.83 1712.73L1247.21 1716.87L1241.58 1712.73L1241.58 1704.47ZM1406.93 1748.13L1412.55 1752.27L1412.55 1760.53L1406.93 1764.67L1401.30 1760.53L1401.30 1752.27ZM1130.08 1772.03L1135.70 1776.17L1135.70 1784.43L1130.08 1788.57L1124.46 1784.43L1124.46 1776.17ZM1406.93 1772.03L1412.55 1776.17L1412.55 1784.43L1406.93 1788.57L1401.30 1784.43L1401.30 1776.17ZM1156.70 1783.98L1162.32 1788.12L1162.32 1796.38L1156.70 1800.52L1151.08 1796.38L1151.08 1788.12ZM1401.60 1783.98L1407.23 1788.12L1407.23 1796.38L1401.60 1800.52L1395.98 1796.38L1395.98 1788.12ZM1130.08 1795.93L1135.70 1800.07L1135.70 1808.33L1130.08 1812.47L1124.46 1808.33L1124.46 1800.07ZM1406.93 1795.93L1412.55 1800.07L1412.55 1808.33L1406.93 1812.47L1401.30 1808.33L1401.30 1800.07ZM1119.43 1819.83L1125.06 1823.97L1125.06 1832.23L1119.43 1836.37L1113.81 1832.23L1113.81 1823.97ZM1130.08 1819.83L1135.70 1823.97L1135.70 1832.23L1130.08 1836.37L1124.46 1832.23L1124.46 1823.97ZM1406.93 1843.73L1412.55 1847.87L1412.55 1856.13L1406.93 1860.27L1401.30 1856.13L1401.30 1847.87ZM1401.60 1855.68L1407.23 1859.82L1407.23 1868.08L1401.60 1872.22L1395.98 1868.08L1395.98 1859.82ZM1241.88 1903.48L1247.51 1907.62L1247.51 1915.88L1241.88 1920.02L1236.26 1915.88L1236.26 1907.62ZM1236.56 1915.43L1242.18 1919.57L1242.18 1927.83L1236.56 1931.97L1230.94 1927.83L1230.94 1919.57ZM1220.59 1951.28L1226.21 1955.42L1226.21 1963.68L1220.59 1967.82L1214.96 1963.68L1214.96 1955.42ZM1406.93 2011.03L1412.55 2015.17L1412.55 2023.43L1406.93 2027.57L1401.30 2023.43L1401.30 2015.17ZM1146.05 2046.88L1151.68 2051.02L1151.68 2059.28L1146.05 2063.42L1140.43 2059.28L1140.43 2051.02ZM1114.11 2094.68L1119.73 2098.82L1119.73 2107.08L1114.11 2111.22L1108.48 2107.08L1108.48 2098.82ZM1119.43 2106.63L1125.06 2110.77L1125.06 2119.03L1119.43 2123.17L1113.81 2119.03L1113.81 2110.77ZM1092.81 2190.28L1098.44 2194.42L1098.44 2202.68L1092.81 2206.82L1087.19 2202.68L1087.19 2194.42ZM1098.14 2226.13L1103.76 2230.27L1103.76 2238.53L1098.14 2242.67L1092.51 2238.53L1092.51 2230.27Z"/>
<path fill="#010106" d="M1241.88 1664.48L1247.51 1668.62L1247.51 1676.88L1241.88 1681.02L1236.26 1676.88L1236.26 1668.62ZM1236.56 1700.33L1242.18 1704.47L1242.18 1712.73L1236.56 1716.87L1230.94 1712.73L1230.94 1704.47ZM1140.73 1795.93L1146.35 1800.07L1146.35 1808.33L1140.73 1812.47L1135.10 1808.33L1135.10 1800.07ZM1268.50 1867.63L1274.13 1871.77L1274.13 1880.03L1268.50 1884.17L1262.88 1880.03L1262.88 1871.77ZM1199.29 1975.18L1204.92 1979.32L1204.92 1987.58L1199.29 1991.72L1193.67 1987.58L1193.67 1979.32ZM1220.59 1999.08L1226.21 2003.22L1226.21 2011.48L1220.59 2015.62L1214.96 2011.48L1214.96 2003.22ZM1135.40 2070.78L1141.03 2074.92L1141.03 2083.18L1135.40 2087.32L1129.78 2083.18L1129.78 2074.92Z"/>
<path fill="#010108" d="M1252.53 1664.48L1258.16 1668.62L1258.16 1676.88L1252.53 1681.02L1246.91 1676.88L1246.91 1668.62ZM1252.53 1688.38L1258.16 1692.52L1258.16 1700.78L1252.53 1704.92L1246.91 1700.78L1246.91 1692.52ZM1225.91 1700.33L1231.54 1704.47L1231.54 1712.73L1225.91 1716.87L1220.29 1712.73L1220.29 1704.47ZM1146.05 1712.28L1151.68 1716.42L1151.68 1724.68L1146.05 1728.82L1140.43 1724.68L1140.43 1716.42ZM1162.02 1772.03L1167.65 1776.17L1167.65 1784.43L1162.02 1788.57L1156.40 1784.43L1156.40 1776.17ZM1167.35 1783.98L1172.97 1788.12L1172.97 1796.38L1167.35 1800.52L1161.72 1796.38L1161.72 1788.12ZM1401.60 1807.88L1407.23 1812.02L1407.23 1820.28L1401.60 1824.42L1395.98 1820.28L1395.98 1812.02ZM1012.95 1939.33L1018.58 1943.47L1018.58 1951.73L1012.95 1955.87L1007.33 1951.73L1007.33 1943.47ZM1225.91 1939.33L1231.54 1943.47L1231.54 1951.73L1225.91 1955.87L1220.29 1951.73L1220.29 1943.47ZM1209.94 1951.28L1215.56 1955.42L1215.56 1963.68L1209.94 1967.82L1204.32 1963.68L1204.32 1955.42ZM1012.95 1963.23L1018.58 1967.37L1018.58 1975.63L1012.95 1979.77L1007.33 1975.63L1007.33 1967.37ZM1183.32 1987.13L1188.94 1991.27L1188.94 1999.53L1183.32 2003.67L1177.70 1999.53L1177.70 1991.27ZM1199.29 1999.08L1204.92 2003.22L1204.92 2011.48L1199.29 2015.62L1193.67 2011.48L1193.67 2003.22ZM1162.02 2011.03L1167.65 2015.17L1167.65 2023.43L1162.02 2027.57L1156.40 2023.43L1156.40 2015.17ZM1406.93 2034.93L1412.55 2039.07L1412.55 2047.33L1406.93 2051.47L1401.30 2047.33L1401.30 2039.07ZM1135.40 2046.88L1141.03 2051.02L1141.03 2059.28L1135.40 2063.42L1129.78 2059.28L1129.78 2051.02Z"/>
<path fill="#020109" d="M1263.18 1664.48L1268.80 1668.62L1268.80 1676.88L1263.18 1681.02L1257.56 1676.88L1257.56 1668.62ZM1263.18 1688.38L1268.80 1692.52L1268.80 1700.78L1263.18 1704.92L1257.56 1700.78L1257.56 1692.52ZM1215.26 1700.33L1220.89 1704.47L1220.89 1712.73L1215.26 1716.87L1209.64 1712.73L1209.64 1704.47ZM1241.88 1712.28L1247.51 1716.42L1247.51 1724.68L1241.88 1728.82L1236.26 1724.68L1236.26 1716.42ZM1146.05 1736.18L1151.68 1740.32L1151.68 1748.58L1146.05 1752.72L1140.43 1748.58L1140.43 1740.32ZM1220.59 1736.18L1226.21 1740.32L1226.21 1748.58L1220.59 1752.72L1214.96 1748.58L1214.96 1740.32ZM1151.38 1748.13L1157.00 1752.27L1157.00 1760.53L1151.38 1764.67L1145.75 1760.53L1145.75 1752.27ZM1401.60 1760.08L1407.23 1764.22L1407.23 1772.48L1401.60 1776.62L1395.98 1772.48L1395.98 1764.22ZM1172.67 1772.03L1178.30 1776.17L1178.30 1784.43L1172.67 1788.57L1167.05 1784.43L1167.05 1776.17ZM1012.95 1843.73L1018.58 1847.87L1018.58 1856.13L1012.95 1860.27L1007.33 1856.13L1007.33 1847.87ZM1092.81 1855.68L1098.44 1859.82L1098.44 1868.08L1092.81 1872.22L1087.19 1868.08L1087.19 1859.82ZM1098.14 1867.63L1103.76 1871.77L1103.76 1880.03L1098.14 1884.17L1092.51 1880.03L1092.51 1871.77ZM1406.93 1867.63L1412.55 1871.77L1412.55 1880.03L1406.93 1884.17L1401.30 1880.03L1401.30 1871.77ZM1012.95 1891.53L1018.58 1895.67L1018.58 1903.93L1012.95 1908.07L1007.33 1903.93L1007.33 1895.67ZM1268.50 1891.53L1274.13 1895.67L1274.13 1903.93L1268.50 1908.07L1262.88 1903.93L1262.88 1895.67ZM1018.28 1903.48L1023.90 1907.62L1023.90 1915.88L1018.28 1920.02L1012.65 1915.88L1012.65 1907.62ZM1220.59 1927.38L1226.21 1931.52L1226.21 1939.78L1220.59 1943.92L1214.96 1939.78L1214.96 1931.52ZM1215.26 1939.33L1220.89 1943.47L1220.89 1951.73L1215.26 1955.87L1209.64 1951.73L1209.64 1943.47ZM1220.59 1975.18L1226.21 1979.32L1226.21 1987.58L1220.59 1991.72L1214.96 1987.58L1214.96 1979.32ZM1204.62 2011.03L1210.24 2015.17L1210.24 2023.43L1204.62 2027.57L1198.99 2023.43L1198.99 2015.17ZM1146.05 2022.98L1151.68 2027.12L1151.68 2035.38L1146.05 2039.52L1140.43 2035.38L1140.43 2027.12ZM1156.70 2022.98L1162.32 2027.12L1162.32 2035.38L1156.70 2039.52L1151.08 2035.38L1151.08 2027.12ZM1124.76 2046.88L1130.38 2051.02L1130.38 2059.28L1124.76 2063.42L1119.13 2059.28L1119.13 2051.02ZM1108.78 2082.73L1114.41 2086.87L1114.41 2095.13L1108.78 2099.27L1103.16 2095.13L1103.16 2086.87ZM1076.84 2130.53L1082.46 2134.67L1082.46 2142.93L1076.84 2147.07L1071.22 2142.93L1071.22 2134.67ZM996.98 2190.28L1002.60 2194.42L1002.60 2202.68L996.98 2206.82L991.36 2202.68L991.36 2194.42ZM1007.63 2238.08L1013.25 2242.22L1013.25 2250.48L1007.63 2254.62L1002.00 2250.48L1002.00 2242.22Z"/>
<path fill="#020108" d="M1204.62 1676.43L1210.24 1680.57L1210.24 1688.83L1204.62 1692.97L1198.99 1688.83L1198.99 1680.57ZM1135.40 1807.88L1141.03 1812.02L1141.03 1820.28L1135.40 1824.42L1129.78 1820.28L1129.78 1812.02ZM1114.11 1831.78L1119.73 1835.92L1119.73 1844.18L1114.11 1848.32L1108.48 1844.18L1108.48 1835.92ZM1401.60 1831.78L1407.23 1835.92L1407.23 1844.18L1401.60 1848.32L1395.98 1844.18L1395.98 1835.92ZM1263.18 1855.68L1268.80 1859.82L1268.80 1868.08L1263.18 1872.22L1257.56 1868.08L1257.56 1859.82ZM1071.52 1879.58L1077.14 1883.72L1077.14 1891.98L1071.52 1896.12L1065.89 1891.98L1065.89 1883.72ZM1263.18 1879.58L1268.80 1883.72L1268.80 1891.98L1263.18 1896.12L1257.56 1891.98L1257.56 1883.72ZM1284.48 1879.58L1290.10 1883.72L1290.10 1891.98L1284.48 1896.12L1278.85 1891.98L1278.85 1883.72ZM1178.00 1999.08L1183.62 2003.22L1183.62 2011.48L1178.00 2015.62L1172.37 2011.48L1172.37 2003.22ZM1092.81 2094.68L1098.44 2098.82L1098.44 2107.08L1092.81 2111.22L1087.19 2107.08L1087.19 2098.82Z"/>
<path fill="#02010a" d="M1199.29 1688.38L1204.92 1692.52L1204.92 1700.78L1199.29 1704.92L1193.67 1700.78L1193.67 1692.52ZM1172.67 1700.33L1178.30 1704.47L1178.30 1712.73L1172.67 1716.87L1167.05 1712.73L1167.05 1704.47ZM1220.59 1712.28L1226.21 1716.42L1226.21 1724.68L1220.59 1728.82L1214.96 1724.68L1214.96 1716.42ZM1215.26 1724.23L1220.89 1728.37L1220.89 1736.63L1215.26 1740.77L1209.64 1736.63L1209.64 1728.37ZM1193.97 1748.13L1199.59 1752.27L1199.59 1760.53L1193.97 1764.67L1188.34 1760.53L1188.34 1752.27ZM1199.29 1760.08L1204.92 1764.22L1204.92 1772.48L1199.29 1776.62L1193.67 1772.48L1193.67 1764.22ZM1289.80 1795.93L1295.42 1800.07L1295.42 1808.33L1289.80 1812.47L1284.18 1808.33L1284.18 1800.07ZM1007.63 1807.88L1013.25 1812.02L1013.25 1820.28L1007.63 1824.42L1002.00 1820.28L1002.00 1812.02ZM1284.48 1807.88L1290.10 1812.02L1290.10 1820.28L1284.48 1824.42L1278.85 1820.28L1278.85 1812.02ZM1284.48 1831.78L1290.10 1835.92L1290.10 1844.18L1284.48 1848.32L1278.85 1844.18L1278.85 1835.92ZM1268.50 1843.73L1274.13 1847.87L1274.13 1856.13L1268.50 1860.27L1262.88 1856.13L1262.88 1847.87ZM1087.49 1867.63L1093.11 1871.77L1093.11 1880.03L1087.49 1884.17L1081.86 1880.03L1081.86 1871.77ZM1236.56 1891.53L1242.18 1895.67L1242.18 1903.93L1236.56 1908.07L1230.94 1903.93L1230.94 1895.67ZM1007.63 1903.48L1013.25 1907.62L1013.25 1915.88L1007.63 1920.02L1002.00 1915.88L1002.00 1907.62ZM1204.62 1939.33L1210.24 1943.47L1210.24 1951.73L1204.62 1955.87L1198.99 1951.73L1198.99 1943.47ZM1007.63 1951.28L1013.25 1955.42L1013.25 1963.68L1007.63 1967.82L1002.00 1963.68L1002.00 1955.42ZM1199.29 1951.28L1204.92 1955.42L1204.92 1963.68L1199.29 1967.82L1193.67 1963.68L1193.67 1955.42ZM1193.97 1963.23L1199.59 1967.37L1199.59 1975.63L1193.97 1979.77L1188.34 1975.63L1188.34 1967.37ZM1225.91 1963.23L1231.54 1967.37L1231.54 1975.63L1225.91 1979.77L1220.29 1975.63L1220.29 1967.37ZM1007.63 1975.18L1013.25 1979.32L1013.25 1987.58L1007.63 1991.72L1002.00 1987.58L1002.00 1979.32ZM1188.64 1975.18L1194.27 1979.32L1194.27 1987.58L1188.64 1991.72L1183.02 1987.58L1183.02 1979.32ZM1167.35 1999.08L1172.97 2003.22L1172.97 2011.48L1167.35 2015.62L1161.72 2011.48L1161.72 2003.22ZM1130.08 2058.83L1135.70 2062.97L1135.70 2071.23L1130.08 2075.37L1124.46 2071.23L1124.46 2062.97ZM1092.81 2118.58L1098.44 2122.72L1098.44 2130.98L1092.81 2135.12L1087.19 2130.98L1087.19 2122.72Z"/>
<path fill="#02020b" d="M1241.88 1688.38L1247.51 1692.52L1247.51 1700.78L1241.88 1704.92L1236.26 1700.78L1236.26 1692.52ZM1284.48 1688.38L1290.10 1692.52L1290.10 1700.78L1284.48 1704.92L1278.85 1700.78L1278.85 1692.52ZM1268.50 1700.33L1274.13 1704.47L1274.13 1712.73L1268.50 1716.87L1262.88 1712.73L1262.88 1704.47ZM1289.80 1700.33L1295.42 1704.47L1295.42 1712.73L1289.80 1716.87L1284.18 1712.73L1284.18 1704.47ZM1252.53 1712.28L1258.16 1716.42L1258.16 1724.68L1252.53 1728.82L1246.91 1724.68L1246.91 1716.42ZM1401.60 1736.18L1407.23 1740.32L1407.23 1748.58L1401.60 1752.72L1395.98 1748.58L1395.98 1740.32ZM1178.00 1783.98L1183.62 1788.12L1183.62 1796.38L1178.00 1800.52L1172.37 1796.38L1172.37 1788.12ZM1012.95 1795.93L1018.58 1800.07L1018.58 1808.33L1012.95 1812.47L1007.33 1808.33L1007.33 1800.07ZM1146.05 1807.88L1151.68 1812.02L1151.68 1820.28L1146.05 1824.42L1140.43 1820.28L1140.43 1812.02ZM1055.54 1819.83L1061.17 1823.97L1061.17 1832.23L1055.54 1836.37L1049.92 1832.23L1049.92 1823.97ZM1406.93 1819.83L1412.55 1823.97L1412.55 1832.23L1406.93 1836.37L1401.30 1832.23L1401.30 1823.97ZM1124.76 1831.78L1130.38 1835.92L1130.38 1844.18L1124.76 1848.32L1119.13 1844.18L1119.13 1835.92ZM1050.22 1855.68L1055.84 1859.82L1055.84 1868.08L1050.22 1872.22L1044.60 1868.08L1044.60 1859.82ZM1071.52 1855.68L1077.14 1859.82L1077.14 1868.08L1071.52 1872.22L1065.89 1868.08L1065.89 1859.82ZM1284.48 1855.68L1290.10 1859.82L1290.10 1868.08L1284.48 1872.22L1278.85 1868.08L1278.85 1859.82ZM1076.84 1867.63L1082.46 1871.77L1082.46 1880.03L1076.84 1884.17L1071.22 1880.03L1071.22 1871.77ZM1241.88 1879.58L1247.51 1883.72L1247.51 1891.98L1241.88 1896.12L1236.26 1891.98L1236.26 1883.72ZM1401.60 1879.58L1407.23 1883.72L1407.23 1891.98L1401.60 1896.12L1395.98 1891.98L1395.98 1883.72ZM1076.84 1891.53L1082.46 1895.67L1082.46 1903.93L1076.84 1908.07L1071.22 1903.93L1071.22 1895.67ZM1252.53 1903.48L1258.16 1907.62L1258.16 1915.88L1252.53 1920.02L1246.91 1915.88L1246.91 1907.62ZM1215.26 1915.43L1220.89 1919.57L1220.89 1927.83L1215.26 1931.97L1209.64 1927.83L1209.64 1919.57ZM1225.91 1915.43L1231.54 1919.57L1231.54 1927.83L1225.91 1931.97L1220.29 1927.83L1220.29 1919.57ZM1247.21 1915.43L1252.83 1919.57L1252.83 1927.83L1247.21 1931.97L1241.58 1927.83L1241.58 1919.57ZM1178.00 1975.18L1183.62 1979.32L1183.62 1987.58L1178.00 1991.72L1172.37 1987.58L1172.37 1979.32ZM1172.67 1987.13L1178.30 1991.27L1178.30 1999.53L1172.67 2003.67L1167.05 1999.53L1167.05 1991.27ZM1193.97 1987.13L1199.59 1991.27L1199.59 1999.53L1193.97 2003.67L1188.34 1999.53L1188.34 1991.27ZM1188.64 1999.08L1194.27 2003.22L1194.27 2011.48L1188.64 2015.62L1183.02 2011.48L1183.02 2003.22ZM1140.73 2034.93L1146.35 2039.07L1146.35 2047.33L1140.73 2051.47L1135.10 2047.33L1135.10 2039.07ZM1119.43 2058.83L1125.06 2062.97L1125.06 2071.23L1119.43 2075.37L1113.81 2071.23L1113.81 2062.97ZM1215.26 2058.83L1220.89 2062.97L1220.89 2071.23L1215.26 2075.37L1209.64 2071.23L1209.64 2062.97ZM1114.11 2070.78L1119.73 2074.92L1119.73 2083.18L1114.11 2087.32L1108.48 2083.18L1108.48 2074.92ZM1098.14 2082.73L1103.76 2086.87L1103.76 2095.13L1098.14 2099.27L1092.51 2095.13L1092.51 2086.87ZM1076.84 2106.63L1082.46 2110.77L1082.46 2119.03L1076.84 2123.17L1071.22 2119.03L1071.22 2110.77ZM1098.14 2106.63L1103.76 2110.77L1103.76 2119.03L1098.14 2123.17L1092.51 2119.03L1092.51 2110.77ZM1108.78 2106.63L1114.41 2110.77L1114.41 2119.03L1108.78 2123.17L1103.16 2119.03L1103.16 2110.77ZM1130.08 2106.63L1135.70 2110.77L1135.70 2119.03L1130.08 2123.17L1124.46 2119.03L1124.46 2110.77ZM1060.87 2118.58L1066.49 2122.72L1066.49 2130.98L1060.87 2135.12L1055.24 2130.98L1055.24 2122.72ZM1071.52 2118.58L1077.14 2122.72L1077.14 2130.98L1071.52 2135.12L1065.89 2130.98L1065.89 2122.72ZM991.66 2178.33L997.28 2182.47L997.28 2190.73L991.66 2194.87L986.03 2190.73L986.03 2182.47ZM1012.95 2226.13L1018.58 2230.27L1018.58 2238.53L1012.95 2242.67L1007.33 2238.53L1007.33 2230.27Z"/>
<path fill="#03020d" d="M1263.18 1712.28L1268.80 1716.42L1268.80 1724.68L1263.18 1728.82L1257.56 1724.68L1257.56 1716.42ZM1289.80 1748.13L1295.42 1752.27L1295.42 1760.53L1289.80 1764.67L1284.18 1760.53L1284.18 1752.27ZM1188.64 1783.98L1194.27 1788.12L1194.27 1796.38L1188.64 1800.52L1183.02 1796.38L1183.02 1788.12ZM1140.73 1819.83L1146.35 1823.97L1146.35 1832.23L1140.73 1836.37L1135.10 1832.23L1135.10 1823.97ZM1151.38 1819.83L1157.00 1823.97L1157.00 1832.23L1151.38 1836.37L1145.75 1832.23L1145.75 1823.97ZM1268.50 1819.83L1274.13 1823.97L1274.13 1832.23L1268.50 1836.37L1262.88 1832.23L1262.88 1823.97ZM1135.40 1831.78L1141.03 1835.92L1141.03 1844.18L1135.40 1848.32L1129.78 1844.18L1129.78 1835.92ZM1247.21 1867.63L1252.83 1871.77L1252.83 1880.03L1247.21 1884.17L1241.58 1880.03L1241.58 1871.77ZM1087.49 1891.53L1093.11 1895.67L1093.11 1903.93L1087.49 1908.07L1081.86 1903.93L1081.86 1895.67ZM1066.19 1915.43L1071.82 1919.57L1071.82 1927.83L1066.19 1931.97L1060.57 1927.83L1060.57 1919.57ZM1156.70 1999.08L1162.32 2003.22L1162.32 2011.48L1156.70 2015.62L1151.08 2011.48L1151.08 2003.22ZM1130.08 2034.93L1135.70 2039.07L1135.70 2047.33L1130.08 2051.47L1124.46 2047.33L1124.46 2039.07ZM1082.16 2094.68L1087.79 2098.82L1087.79 2107.08L1082.16 2111.22L1076.54 2107.08L1076.54 2098.82ZM1050.22 2118.58L1055.84 2122.72L1055.84 2130.98L1050.22 2135.12L1044.60 2130.98L1044.60 2122.72Z"/>
<path fill="#040311" d="M1284.48 1712.28L1290.10 1716.42L1290.10 1724.68L1284.48 1728.82L1278.85 1724.68L1278.85 1716.42ZM1193.97 1772.03L1199.59 1776.17L1199.59 1784.43L1193.97 1788.57L1188.34 1784.43L1188.34 1776.17ZM1098.14 1891.53L1103.76 1895.67L1103.76 1903.93L1098.14 1908.07L1092.51 1903.93L1092.51 1895.67Z"/>
<path fill="#050311" d="M1241.88 1736.18L1247.51 1740.32L1247.51 1748.58L1241.88 1752.72L1236.26 1748.58L1236.26 1740.32ZM1236.56 1748.13L1242.18 1752.27L1242.18 1760.53L1236.56 1764.67L1230.94 1760.53L1230.94 1752.27ZM1268.50 1748.13L1274.13 1752.27L1274.13 1760.53L1268.50 1764.67L1262.88 1760.53L1262.88 1752.27ZM1108.78 1867.63L1114.41 1871.77L1114.41 1880.03L1108.78 1884.17L1103.16 1880.03L1103.16 1871.77ZM1188.64 1951.28L1194.27 1955.42L1194.27 1963.68L1188.64 1967.82L1183.02 1963.68L1183.02 1955.42ZM1135.40 2022.98L1141.03 2027.12L1141.03 2035.38L1135.40 2039.52L1129.78 2035.38L1129.78 2027.12ZM1076.84 2082.73L1082.46 2086.87L1082.46 2095.13L1076.84 2099.27L1071.22 2095.13L1071.22 2086.87ZM1071.52 2094.68L1077.14 2098.82L1077.14 2107.08L1071.52 2111.22L1065.89 2107.08L1065.89 2098.82ZM954.39 2118.58L960.01 2122.72L960.01 2130.98L954.39 2135.12L948.76 2130.98L948.76 2122.72ZM986.33 2166.38L991.96 2170.52L991.96 2178.78L986.33 2182.92L980.71 2178.78L980.71 2170.52Z"/>
<path fill="#060414" d="M1252.53 1736.18L1258.16 1740.32L1258.16 1748.58L1252.53 1752.72L1246.91 1748.58L1246.91 1740.32ZM1263.18 1736.18L1268.80 1740.32L1268.80 1748.58L1263.18 1752.72L1257.56 1748.58L1257.56 1740.32ZM1076.84 1915.43L1082.46 1919.57L1082.46 1927.83L1076.84 1931.97L1071.22 1927.83L1071.22 1919.57ZM1071.52 1927.38L1077.14 1931.52L1077.14 1939.78L1071.52 1943.92L1065.89 1939.78L1065.89 1931.52ZM1098.14 2058.83L1103.76 2062.97L1103.76 2071.23L1098.14 2075.37L1092.51 2071.23L1092.51 2062.97Z"/>
<path fill="#050312" d="M1284.48 1736.18L1290.10 1740.32L1290.10 1748.58L1284.48 1752.72L1278.85 1748.58L1278.85 1740.32ZM1204.62 1772.03L1210.24 1776.17L1210.24 1784.43L1204.62 1788.57L1198.99 1784.43L1198.99 1776.17ZM1268.50 1772.03L1274.13 1776.17L1274.13 1784.43L1268.50 1788.57L1262.88 1784.43L1262.88 1776.17ZM1172.67 1795.93L1178.30 1800.07L1178.30 1808.33L1172.67 1812.47L1167.05 1808.33L1167.05 1800.07ZM1183.32 1795.93L1188.94 1800.07L1188.94 1808.33L1183.32 1812.47L1177.70 1808.33L1177.70 1800.07ZM1268.50 1795.93L1274.13 1800.07L1274.13 1808.33L1268.50 1812.47L1262.88 1808.33L1262.88 1800.07ZM1263.18 1807.88L1268.80 1812.02L1268.80 1820.28L1263.18 1824.42L1257.56 1820.28L1257.56 1812.02ZM1252.53 1831.78L1258.16 1835.92L1258.16 1844.18L1252.53 1848.32L1246.91 1844.18L1246.91 1835.92ZM1119.43 1867.63L1125.06 1871.77L1125.06 1880.03L1119.43 1884.17L1113.81 1880.03L1113.81 1871.77ZM1225.91 1891.53L1231.54 1895.67L1231.54 1903.93L1225.91 1908.07L1220.29 1903.93L1220.29 1895.67ZM1114.11 2046.88L1119.73 2051.02L1119.73 2059.28L1114.11 2063.42L1108.48 2059.28L1108.48 2051.02ZM959.71 2106.63L965.34 2110.77L965.34 2119.03L959.71 2123.17L954.09 2119.03L954.09 2110.77Z"/>
<path fill="#03020b" d="M1204.62 1748.13L1210.24 1752.27L1210.24 1760.53L1204.62 1764.67L1198.99 1760.53L1198.99 1752.27ZM1162.02 1795.93L1167.65 1800.07L1167.65 1808.33L1162.02 1812.47L1156.40 1808.33L1156.40 1800.07ZM1119.43 1843.73L1125.06 1847.87L1125.06 1856.13L1119.43 1860.27L1113.81 1856.13L1113.81 1847.87ZM1071.52 1903.48L1077.14 1907.62L1077.14 1915.88L1071.52 1920.02L1065.89 1915.88L1065.89 1907.62ZM1183.32 1963.23L1188.94 1967.37L1188.94 1975.63L1183.32 1979.77L1177.70 1975.63L1177.70 1967.37ZM1007.63 1999.08L1013.25 2003.22L1013.25 2011.48L1007.63 2015.62L1002.00 2011.48L1002.00 2003.22Z"/>
<path fill="#04020e" d="M1215.26 1748.13L1220.89 1752.27L1220.89 1760.53L1215.26 1764.67L1209.64 1760.53L1209.64 1752.27ZM1162.02 1987.13L1167.65 1991.27L1167.65 1999.53L1162.02 2003.67L1156.40 1999.53L1156.40 1991.27ZM1151.38 2011.03L1157.00 2015.17L1157.00 2023.43L1151.38 2027.57L1145.75 2023.43L1145.75 2015.17ZM954.39 2190.28L960.01 2194.42L960.01 2202.68L954.39 2206.82L948.76 2202.68L948.76 2194.42ZM959.71 2202.23L965.34 2206.37L965.34 2214.63L959.71 2218.77L954.09 2214.63L954.09 2206.37Z"/>
<path fill="#040310" d="M1247.21 1748.13L1252.83 1752.27L1252.83 1760.53L1247.21 1764.67L1241.58 1760.53L1241.58 1752.27ZM1156.70 1807.88L1162.32 1812.02L1162.32 1820.28L1156.70 1824.42L1151.08 1820.28L1151.08 1812.02ZM1167.35 1807.88L1172.97 1812.02L1172.97 1820.28L1167.35 1824.42L1161.72 1820.28L1161.72 1812.02ZM1263.18 1831.78L1268.80 1835.92L1268.80 1844.18L1263.18 1848.32L1257.56 1844.18L1257.56 1835.92ZM1130.08 1843.73L1135.70 1847.87L1135.70 1856.13L1130.08 1860.27L1124.46 1856.13L1124.46 1847.87ZM1114.11 1855.68L1119.73 1859.82L1119.73 1868.08L1114.11 1872.22L1108.48 1868.08L1108.48 1859.82ZM1124.76 1855.68L1130.38 1859.82L1130.38 1868.08L1124.76 1872.22L1119.13 1868.08L1119.13 1859.82ZM1018.28 1999.08L1023.90 2003.22L1023.90 2011.48L1018.28 2015.62L1012.65 2011.48L1012.65 2003.22ZM1140.73 2011.03L1146.35 2015.17L1146.35 2023.43L1140.73 2027.57L1135.10 2023.43L1135.10 2015.17ZM1028.92 2142.48L1034.55 2146.62L1034.55 2154.88L1028.92 2159.02L1023.30 2154.88L1023.30 2146.62Z"/>
<path fill="#02020a" d="M1178.00 1760.08L1183.62 1764.22L1183.62 1772.48L1178.00 1776.62L1172.37 1772.48L1172.37 1764.22Z"/>
<path fill="#04030f" d="M1209.94 1760.08L1215.56 1764.22L1215.56 1772.48L1209.94 1776.62L1204.32 1772.48L1204.32 1764.22ZM1284.48 1760.08L1290.10 1764.22L1290.10 1772.48L1284.48 1776.62L1278.85 1772.48L1278.85 1764.22ZM1241.88 1855.68L1247.51 1859.82L1247.51 1868.08L1241.88 1872.22L1236.26 1868.08L1236.26 1859.82ZM1092.81 1879.58L1098.44 1883.72L1098.44 1891.98L1092.81 1896.12L1087.19 1891.98L1087.19 1883.72ZM1209.94 1927.38L1215.56 1931.52L1215.56 1939.78L1209.94 1943.92L1204.32 1939.78L1204.32 1931.52ZM1108.78 2058.83L1114.41 2062.97L1114.41 2071.23L1108.78 2075.37L1103.16 2071.23L1103.16 2062.97ZM1092.81 2070.78L1098.44 2074.92L1098.44 2083.18L1092.81 2087.32L1087.19 2083.18L1087.19 2074.92Z"/>
<path fill="#060415" d="M1220.59 1760.08L1226.21 1764.22L1226.21 1772.48L1220.59 1776.62L1214.96 1772.48L1214.96 1764.22ZM1241.88 1760.08L1247.51 1764.22L1247.51 1772.48L1241.88 1776.62L1236.26 1772.48L1236.26 1764.22ZM1178.00 1807.88L1183.62 1812.02L1183.62 1820.28L1178.00 1824.42L1172.37 1820.28L1172.37 1812.02ZM1236.56 1867.63L1242.18 1871.77L1242.18 1880.03L1236.56 1884.17L1230.94 1880.03L1230.94 1871.77ZM1103.46 1879.58L1109.08 1883.72L1109.08 1891.98L1103.46 1896.12L1097.84 1891.98L1097.84 1883.72ZM1034.25 2130.53L1039.87 2134.67L1039.87 2142.93L1034.25 2147.07L1028.62 2142.93L1028.62 2134.67ZM1002.30 2154.43L1007.93 2158.57L1007.93 2166.83L1002.30 2170.97L996.68 2166.83L996.68 2158.57Z"/>
<path fill="#070417" d="M1252.53 1760.08L1258.16 1764.22L1258.16 1772.48L1252.53 1776.62L1246.91 1772.48L1246.91 1764.22ZM1199.29 1783.98L1204.92 1788.12L1204.92 1796.38L1199.29 1800.52L1193.67 1796.38L1193.67 1788.12ZM1241.88 1831.78L1247.51 1835.92L1247.51 1844.18L1241.88 1848.32L1236.26 1844.18L1236.26 1835.92ZM1140.73 1843.73L1146.35 1847.87L1146.35 1856.13L1140.73 1860.27L1135.10 1856.13L1135.10 1847.87ZM1103.46 2046.88L1109.08 2051.02L1109.08 2059.28L1103.46 2063.42L1097.84 2059.28L1097.84 2051.02ZM981.01 2154.43L986.63 2158.57L986.63 2166.83L981.01 2170.97L975.38 2166.83L975.38 2158.57ZM959.71 2178.33L965.34 2182.47L965.34 2190.73L959.71 2194.87L954.09 2190.73L954.09 2182.47Z"/>
<path fill="#09061d" d="M1263.18 1760.08L1268.80 1764.22L1268.80 1772.48L1263.18 1776.62L1257.56 1772.48L1257.56 1764.22ZM1215.26 1867.63L1220.89 1871.77L1220.89 1880.03L1215.26 1884.17L1209.64 1880.03L1209.64 1871.77ZM1007.63 2022.98L1013.25 2027.12L1013.25 2035.38L1007.63 2039.52L1002.00 2035.38L1002.00 2027.12Z"/>
<path fill="#070518" d="M1215.26 1772.03L1220.89 1776.17L1220.89 1784.43L1215.26 1788.57L1209.64 1784.43L1209.64 1776.17ZM1247.21 1819.83L1252.83 1823.97L1252.83 1832.23L1247.21 1836.37L1241.58 1832.23L1241.58 1823.97ZM1055.54 2106.63L1061.17 2110.77L1061.17 2119.03L1055.54 2123.17L1049.92 2119.03L1049.92 2110.77ZM1039.57 2118.58L1045.20 2122.72L1045.20 2130.98L1039.57 2135.12L1033.95 2130.98L1033.95 2122.72ZM954.39 2142.48L960.01 2146.62L960.01 2154.88L954.39 2159.02L948.76 2154.88L948.76 2146.62Z"/>
<path fill="#0a061f" d="M1225.91 1772.03L1231.54 1776.17L1231.54 1784.43L1225.91 1788.57L1220.29 1784.43L1220.29 1776.17ZM1236.56 1819.83L1242.18 1823.97L1242.18 1832.23L1236.56 1836.37L1230.94 1832.23L1230.94 1823.97ZM1220.59 1879.58L1226.21 1883.72L1226.21 1891.98L1220.59 1896.12L1214.96 1891.98L1214.96 1883.72ZM1215.26 1891.53L1220.89 1895.67L1220.89 1903.93L1215.26 1908.07L1209.64 1903.93L1209.64 1895.67ZM1007.63 2142.48L1013.25 2146.62L1013.25 2154.88L1007.63 2159.02L1002.00 2154.88L1002.00 2146.62Z"/>
<path fill="#0a0721" d="M1236.56 1772.03L1242.18 1776.17L1242.18 1784.43L1236.56 1788.57L1230.94 1784.43L1230.94 1776.17ZM1188.64 1807.88L1194.27 1812.02L1194.27 1820.28L1188.64 1824.42L1183.02 1820.28L1183.02 1812.02ZM1114.11 2022.98L1119.73 2027.12L1119.73 2035.38L1114.11 2039.52L1108.48 2035.38L1108.48 2027.12ZM1092.81 2046.88L1098.44 2051.02L1098.44 2059.28L1092.81 2063.42L1087.19 2059.28L1087.19 2051.02ZM1071.52 2070.78L1077.14 2074.92L1077.14 2083.18L1071.52 2087.32L1065.89 2083.18L1065.89 2074.92ZM1066.19 2082.73L1071.82 2086.87L1071.82 2095.13L1066.19 2099.27L1060.57 2095.13L1060.57 2086.87Z"/>
<path fill="#08051b" d="M1247.21 1772.03L1252.83 1776.17L1252.83 1784.43L1247.21 1788.57L1241.58 1784.43L1241.58 1776.17ZM1172.67 1819.83L1178.30 1823.97L1178.30 1832.23L1172.67 1836.37L1167.05 1832.23L1167.05 1823.97ZM1156.70 1831.78L1162.32 1835.92L1162.32 1844.18L1156.70 1848.32L1151.08 1844.18L1151.08 1835.92ZM1092.81 1903.48L1098.44 1907.62L1098.44 1915.88L1092.81 1920.02L1087.19 1915.88L1087.19 1907.62ZM1012.95 2130.53L1018.58 2134.67L1018.58 2142.93L1012.95 2147.07L1007.33 2142.93L1007.33 2134.67Z"/>
<path fill="#03020c" d="M1289.80 1772.03L1295.42 1776.17L1295.42 1784.43L1289.80 1788.57L1284.18 1784.43L1284.18 1776.17ZM1220.59 1903.48L1226.21 1907.62L1226.21 1915.88L1220.59 1920.02L1214.96 1915.88L1214.96 1907.62ZM1012.95 1987.13L1018.58 1991.27L1018.58 1999.53L1012.95 2003.67L1007.33 1999.53L1007.33 1991.27Z"/>
<path fill="#070517" d="M1209.94 1783.98L1215.56 1788.12L1215.56 1796.38L1209.94 1800.52L1204.32 1796.38L1204.32 1788.12ZM1247.21 1843.73L1252.83 1847.87L1252.83 1856.13L1247.21 1860.27L1241.58 1856.13L1241.58 1847.87Z"/>
<path fill="#09061c" d="M1220.59 1783.98L1226.21 1788.12L1226.21 1796.38L1220.59 1800.52L1214.96 1796.38L1214.96 1788.12ZM1252.53 1783.98L1258.16 1788.12L1258.16 1796.38L1252.53 1800.52L1246.91 1796.38L1246.91 1788.12ZM1082.16 1927.38L1087.79 1931.52L1087.79 1939.78L1082.16 1943.92L1076.54 1939.78L1076.54 1931.52Z"/>
<path fill="#0c0825" d="M1241.88 1783.98L1247.51 1788.12L1247.51 1796.38L1241.88 1800.52L1236.26 1796.38L1236.26 1788.12ZM1247.21 1795.93L1252.83 1800.07L1252.83 1808.33L1247.21 1812.47L1241.58 1808.33L1241.58 1800.07ZM1215.26 1843.73L1220.89 1847.87L1220.89 1856.13L1215.26 1860.27L1209.64 1856.13L1209.64 1847.87ZM1124.76 1879.58L1130.38 1883.72L1130.38 1891.98L1124.76 1896.12L1119.13 1891.98L1119.13 1883.72ZM1050.22 2094.68L1055.84 2098.82L1055.84 2107.08L1050.22 2111.22L1044.60 2107.08L1044.60 2098.82ZM1044.90 2106.63L1050.52 2110.77L1050.52 2119.03L1044.90 2123.17L1039.27 2119.03L1039.27 2110.77ZM996.98 2142.48L1002.60 2146.62L1002.60 2154.88L996.98 2159.02L991.36 2154.88L991.36 2146.62Z"/>
<path fill="#050413" d="M1263.18 1783.98L1268.80 1788.12L1268.80 1796.38L1263.18 1800.52L1257.56 1796.38L1257.56 1788.12ZM1146.05 1831.78L1151.68 1835.92L1151.68 1844.18L1146.05 1848.32L1140.43 1844.18L1140.43 1835.92ZM1193.97 1939.33L1199.59 1943.47L1199.59 1951.73L1193.97 1955.87L1188.34 1951.73L1188.34 1943.47ZM1124.76 2022.98L1130.38 2027.12L1130.38 2035.38L1124.76 2039.52L1119.13 2035.38L1119.13 2027.12ZM1060.87 2094.68L1066.49 2098.82L1066.49 2107.08L1060.87 2111.22L1055.24 2107.08L1055.24 2098.82Z"/>
<path fill="#03020e" d="M1284.48 1783.98L1290.10 1788.12L1290.10 1796.38L1284.48 1800.52L1278.85 1796.38L1278.85 1788.12Z"/>
<path fill="#060416" d="M1193.97 1795.93L1199.59 1800.07L1199.59 1808.33L1193.97 1812.47L1188.34 1808.33L1188.34 1800.07ZM1188.64 1927.38L1194.27 1931.52L1194.27 1939.78L1188.64 1943.92L1183.02 1939.78L1183.02 1931.52ZM1199.29 1927.38L1204.92 1931.52L1204.92 1939.78L1199.29 1943.92L1193.67 1939.78L1193.67 1931.52ZM1055.54 1939.33L1061.17 1943.47L1061.17 1951.73L1055.54 1955.87L1049.92 1951.73L1049.92 1943.47ZM1167.35 1975.18L1172.97 1979.32L1172.97 1987.58L1167.35 1991.72L1161.72 1987.58L1161.72 1979.32ZM1012.95 2011.03L1018.58 2015.17L1018.58 2023.43L1012.95 2027.57L1007.33 2023.43L1007.33 2015.17ZM1018.28 2142.48L1023.90 2146.62L1023.90 2154.88L1018.28 2159.02L1012.65 2154.88L1012.65 2146.62Z"/>
<path fill="#0a0720" d="M1204.62 1795.93L1210.24 1800.07L1210.24 1808.33L1204.62 1812.47L1198.99 1808.33L1198.99 1800.07ZM1215.26 1795.93L1220.89 1800.07L1220.89 1808.33L1215.26 1812.47L1209.64 1808.33L1209.64 1800.07ZM1220.59 1807.88L1226.21 1812.02L1226.21 1820.28L1220.59 1824.42L1214.96 1820.28L1214.96 1812.02ZM1178.00 1831.78L1183.62 1835.92L1183.62 1844.18L1178.00 1848.32L1172.37 1844.18L1172.37 1835.92ZM1146.05 1855.68L1151.68 1859.82L1151.68 1868.08L1146.05 1872.22L1140.43 1868.08L1140.43 1859.82ZM1108.78 1891.53L1114.41 1895.67L1114.41 1903.93L1108.78 1908.07L1103.16 1903.93L1103.16 1895.67ZM1167.35 1951.28L1172.97 1955.42L1172.97 1963.68L1167.35 1967.82L1161.72 1963.68L1161.72 1955.42Z"/>
<path fill="#10092c" d="M1225.91 1795.93L1231.54 1800.07L1231.54 1808.33L1225.91 1812.47L1220.29 1808.33L1220.29 1800.07ZM1034.25 2106.63L1039.87 2110.77L1039.87 2119.03L1034.25 2123.17L1028.62 2119.03L1028.62 2110.77Z"/>
<path fill="#0f082b" d="M1236.56 1795.93L1242.18 1800.07L1242.18 1808.33L1236.56 1812.47L1230.94 1808.33L1230.94 1800.07ZM1103.46 1903.48L1109.08 1907.62L1109.08 1915.88L1103.46 1920.02L1097.84 1915.88L1097.84 1907.62ZM1135.40 1999.08L1141.03 2003.22L1141.03 2011.48L1135.40 2015.62L1129.78 2011.48L1129.78 2003.22ZM1034.25 2011.03L1039.87 2015.17L1039.87 2023.43L1034.25 2027.57L1028.62 2023.43L1028.62 2015.17ZM1055.54 2082.73L1061.17 2086.87L1061.17 2095.13L1055.54 2099.27L1049.92 2095.13L1049.92 2086.87Z"/>
<path fill="#10092d" d="M1199.29 1807.88L1204.92 1812.02L1204.92 1820.28L1199.29 1824.42L1193.67 1820.28L1193.67 1812.02ZM1204.62 1843.73L1210.24 1847.87L1210.24 1856.13L1204.62 1860.27L1198.99 1856.13L1198.99 1847.87ZM1002.30 2130.53L1007.93 2134.67L1007.93 2142.93L1002.30 2147.07L996.68 2142.93L996.68 2134.67Z"/>
<path fill="#11092e" d="M1209.94 1807.88L1215.56 1812.02L1215.56 1820.28L1209.94 1824.42L1204.32 1820.28L1204.32 1812.02ZM1151.38 1867.63L1157.00 1871.77L1157.00 1880.03L1151.38 1884.17L1145.75 1880.03L1145.75 1871.77ZM1018.28 2118.58L1023.90 2122.72L1023.90 2130.98L1018.28 2135.12L1012.65 2130.98L1012.65 2122.72Z"/>
<path fill="#0e082a" d="M1241.88 1807.88L1247.51 1812.02L1247.51 1820.28L1241.88 1824.42L1236.26 1820.28L1236.26 1812.02ZM1204.62 1867.63L1210.24 1871.77L1210.24 1880.03L1204.62 1884.17L1198.99 1880.03L1198.99 1871.77ZM1146.05 1975.18L1151.68 1979.32L1151.68 1987.58L1146.05 1991.72L1140.43 1987.58L1140.43 1979.32Z"/>
<path fill="#09061f" d="M1252.53 1807.88L1258.16 1812.02L1258.16 1820.28L1252.53 1824.42L1246.91 1820.28L1246.91 1812.02ZM1220.59 1855.68L1226.21 1859.82L1226.21 1868.08L1220.59 1872.22L1214.96 1868.08L1214.96 1859.82Z"/>
<path fill="#08061c" d="M1162.02 1819.83L1167.65 1823.97L1167.65 1832.23L1162.02 1836.37L1156.40 1832.23L1156.40 1823.97ZM1135.40 1855.68L1141.03 1859.82L1141.03 1868.08L1135.40 1872.22L1129.78 1868.08L1129.78 1859.82ZM1028.92 2118.58L1034.55 2122.72L1034.55 2130.98L1028.92 2135.12L1023.30 2130.98L1023.30 2122.72ZM991.66 2154.43L997.28 2158.57L997.28 2166.83L991.66 2170.97L986.03 2166.83L986.03 2158.57Z"/>
<path fill="#09061e" d="M1183.32 1819.83L1188.94 1823.97L1188.94 1832.23L1183.32 1836.37L1177.70 1832.23L1177.70 1823.97ZM1209.94 1879.58L1215.56 1883.72L1215.56 1891.98L1209.94 1896.12L1204.32 1891.98L1204.32 1883.72ZM1183.32 1939.33L1188.94 1943.47L1188.94 1951.73L1183.32 1955.87L1177.70 1951.73L1177.70 1943.47ZM1050.22 1975.18L1055.84 1979.32L1055.84 1987.58L1050.22 1991.72L1044.60 1987.58L1044.60 1979.32ZM1002.30 2034.93L1007.93 2039.07L1007.93 2047.33L1002.30 2051.47L996.68 2047.33L996.68 2039.07Z"/>
<path fill="#180a3a" d="M1193.97 1819.83L1199.59 1823.97L1199.59 1832.23L1193.97 1836.37L1188.34 1832.23L1188.34 1823.97Z"/>
<path fill="#130932" d="M1204.62 1819.83L1210.24 1823.97L1210.24 1832.23L1204.62 1836.37L1198.99 1832.23L1198.99 1823.97ZM1193.97 1843.73L1199.59 1847.87L1199.59 1856.13L1193.97 1860.27L1188.34 1856.13L1188.34 1847.87ZM1098.14 1915.43L1103.76 1919.57L1103.76 1927.83L1098.14 1931.97L1092.51 1927.83L1092.51 1919.57ZM1183.32 1915.43L1188.94 1919.57L1188.94 1927.83L1183.32 1931.97L1177.70 1927.83L1177.70 1919.57Z"/>
<path fill="#11092f" d="M1215.26 1819.83L1220.89 1823.97L1220.89 1832.23L1215.26 1836.37L1209.64 1832.23L1209.64 1823.97ZM1018.28 2022.98L1023.90 2027.12L1023.90 2035.38L1018.28 2039.52L1012.65 2035.38L1012.65 2027.12ZM1012.95 2034.93L1018.58 2039.07L1018.58 2047.33L1012.95 2051.47L1007.33 2047.33L1007.33 2039.07Z"/>
<path fill="#150935" d="M1225.91 1819.83L1231.54 1823.97L1231.54 1832.23L1225.91 1836.37L1220.29 1832.23L1220.29 1823.97Z"/>
<path fill="#0b0722" d="M1167.35 1831.78L1172.97 1835.92L1172.97 1844.18L1167.35 1848.32L1161.72 1844.18L1161.72 1835.92ZM1204.62 1891.53L1210.24 1895.67L1210.24 1903.93L1204.62 1908.07L1198.99 1903.93L1198.99 1895.67ZM1087.49 1915.43L1093.11 1919.57L1093.11 1927.83L1087.49 1931.97L1081.86 1927.83L1081.86 1919.57ZM981.01 2106.63L986.63 2110.77L986.63 2119.03L981.01 2123.17L975.38 2119.03L975.38 2110.77Z"/>
<path fill="#0f082a" d="M1188.64 1831.78L1194.27 1835.92L1194.27 1844.18L1188.64 1848.32L1183.02 1844.18L1183.02 1835.92Z"/>
<path fill="#1c0b41" d="M1199.29 1831.78L1204.92 1835.92L1204.92 1844.18L1199.29 1848.32L1193.67 1844.18L1193.67 1835.92Z"/>
<path fill="#120931" d="M1209.94 1831.78L1215.56 1835.92L1215.56 1844.18L1209.94 1848.32L1204.32 1844.18L1204.32 1835.92ZM1199.29 1855.68L1204.92 1859.82L1204.92 1868.08L1199.29 1872.22L1193.67 1868.08L1193.67 1859.82ZM1114.11 1903.48L1119.73 1907.62L1119.73 1915.88L1114.11 1920.02L1108.48 1915.88L1108.48 1907.62ZM981.01 2130.53L986.63 2134.67L986.63 2142.93L981.01 2147.07L975.38 2142.93L975.38 2134.67Z"/>
<path fill="#130931" d="M1220.59 1831.78L1226.21 1835.92L1226.21 1844.18L1220.59 1848.32L1214.96 1844.18L1214.96 1835.92Z"/>
<path fill="#0b0723" d="M1151.38 1843.73L1157.00 1847.87L1157.00 1856.13L1151.38 1860.27L1145.75 1856.13L1145.75 1847.87ZM1130.08 1867.63L1135.70 1871.77L1135.70 1880.03L1130.08 1884.17L1124.46 1880.03L1124.46 1871.77ZM1140.73 1867.63L1146.35 1871.77L1146.35 1880.03L1140.73 1884.17L1135.10 1880.03L1135.10 1871.77ZM1055.54 1963.23L1061.17 1967.37L1061.17 1975.63L1055.54 1979.77L1049.92 1975.63L1049.92 1967.37ZM1140.73 1987.13L1146.35 1991.27L1146.35 1999.53L1140.73 2003.67L1135.10 1999.53L1135.10 1991.27ZM1130.08 2011.03L1135.70 2015.17L1135.70 2023.43L1130.08 2027.57L1124.46 2023.43L1124.46 2015.17ZM1007.63 2046.88L1013.25 2051.02L1013.25 2059.28L1007.63 2063.42L1002.00 2059.28L1002.00 2051.02ZM991.66 2058.83L997.28 2062.97L997.28 2071.23L991.66 2075.37L986.03 2071.23L986.03 2062.97ZM1002.30 2058.83L1007.93 2062.97L1007.93 2071.23L1002.30 2075.37L996.68 2071.23L996.68 2062.97Z"/>
<path fill="#160a37" d="M1162.02 1843.73L1167.65 1847.87L1167.65 1856.13L1162.02 1860.27L1156.40 1856.13L1156.40 1847.87Z"/>
<path fill="#170a39" d="M1172.67 1843.73L1178.30 1847.87L1178.30 1856.13L1172.67 1860.27L1167.05 1856.13L1167.05 1847.87ZM1188.64 1879.58L1194.27 1883.72L1194.27 1891.98L1188.64 1896.12L1183.02 1891.98L1183.02 1883.72ZM1156.70 1951.28L1162.32 1955.42L1162.32 1963.68L1156.70 1967.82L1151.08 1963.68L1151.08 1955.42ZM1039.57 2094.68L1045.20 2098.82L1045.20 2107.08L1039.57 2111.22L1033.95 2107.08L1033.95 2098.82Z"/>
<path fill="#230c4d" d="M1183.32 1843.73L1188.94 1847.87L1188.94 1856.13L1183.32 1860.27L1177.70 1856.13L1177.70 1847.87ZM1162.02 1867.63L1167.65 1871.77L1167.65 1880.03L1162.02 1884.17L1156.40 1880.03L1156.40 1871.77Z"/>
<path fill="#190a3c" d="M1156.70 1855.68L1162.32 1859.82L1162.32 1868.08L1156.70 1872.22L1151.08 1868.08L1151.08 1859.82Z"/>
<path fill="#1e0b44" d="M1167.35 1855.68L1172.97 1859.82L1172.97 1868.08L1167.35 1872.22L1161.72 1868.08L1161.72 1859.82Z"/>
<path fill="#140934" d="M1178.00 1855.68L1183.62 1859.82L1183.62 1868.08L1178.00 1872.22L1172.37 1868.08L1172.37 1859.82ZM1151.38 1963.23L1157.00 1967.37L1157.00 1975.63L1151.38 1979.77L1145.75 1975.63L1145.75 1967.37ZM1044.90 1987.13L1050.52 1991.27L1050.52 1999.53L1044.90 2003.67L1039.27 1999.53L1039.27 1991.27Z"/>
<path fill="#260c50" d="M1188.64 1855.68L1194.27 1859.82L1194.27 1868.08L1188.64 1872.22L1183.02 1868.08L1183.02 1859.82Z"/>
<path fill="#1b0a40" d="M1209.94 1855.68L1215.56 1859.82L1215.56 1868.08L1209.94 1872.22L1204.32 1868.08L1204.32 1859.82Z"/>
<path fill="#2d0b56" d="M1172.67 1867.63L1178.30 1871.77L1178.30 1880.03L1172.67 1884.17L1167.05 1880.03L1167.05 1871.77Z"/>
<path fill="#210b49" d="M1183.32 1867.63L1188.94 1871.77L1188.94 1880.03L1183.32 1884.17L1177.70 1880.03L1177.70 1871.77Z"/>
<path fill="#210c4a" d="M1193.97 1867.63L1199.59 1871.77L1199.59 1880.03L1193.97 1884.17L1188.34 1880.03L1188.34 1871.77Z"/>
<path fill="#070519" d="M1225.91 1867.63L1231.54 1871.77L1231.54 1880.03L1225.91 1884.17L1220.29 1880.03L1220.29 1871.77ZM1066.19 1939.33L1071.82 1943.47L1071.82 1951.73L1066.19 1955.87L1060.57 1951.73L1060.57 1943.47ZM1178.00 1951.28L1183.62 1955.42L1183.62 1963.68L1178.00 1967.82L1172.37 1963.68L1172.37 1955.42ZM1039.57 1975.18L1045.20 1979.32L1045.20 1987.58L1039.57 1991.72L1033.95 1987.58L1033.95 1979.32ZM1151.38 1987.13L1157.00 1991.27L1157.00 1999.53L1151.38 2003.67L1145.75 1999.53L1145.75 1991.27ZM1119.43 2034.93L1125.06 2039.07L1125.06 2047.33L1119.43 2051.47L1113.81 2047.33L1113.81 2039.07Z"/>
<path fill="#010006" d="M1289.80 1867.63L1295.42 1871.77L1295.42 1880.03L1289.80 1884.17L1284.18 1880.03L1284.18 1871.77Z"/>
<path fill="#08061b" d="M1114.11 1879.58L1119.73 1883.72L1119.73 1891.98L1114.11 1896.12L1108.48 1891.98L1108.48 1883.72ZM1023.60 2130.53L1029.22 2134.67L1029.22 2142.93L1023.60 2147.07L1017.98 2142.93L1017.98 2134.67Z"/>
<path fill="#1b0b40" d="M1135.40 1879.58L1141.03 1883.72L1141.03 1891.98L1135.40 1896.12L1129.78 1891.98L1129.78 1883.72Z"/>
<path fill="#1f0b46" d="M1146.05 1879.58L1151.68 1883.72L1151.68 1891.98L1146.05 1896.12L1140.43 1891.98L1140.43 1883.72Z"/>
<path fill="#390b61" d="M1156.70 1879.58L1162.32 1883.72L1162.32 1891.98L1156.70 1896.12L1151.08 1891.98L1151.08 1883.72ZM1028.92 2070.78L1034.55 2074.92L1034.55 2083.18L1028.92 2087.32L1023.30 2083.18L1023.30 2074.92Z"/>
<path fill="#cc4348" d="M1167.35 1879.58L1172.97 1883.72L1172.97 1891.98L1167.35 1896.12L1161.72 1891.98L1161.72 1883.72ZM1124.76 1975.18L1130.38 1979.32L1130.38 1987.58L1124.76 1991.72L1119.13 1987.58L1119.13 1979.32ZM1108.78 2011.03L1114.41 2015.17L1114.41 2023.43L1108.78 2027.57L1103.16 2023.43L1103.16 2015.17ZM1060.87 2022.98L1066.49 2027.12L1066.49 2035.38L1060.87 2039.52L1055.24 2035.38L1055.24 2027.12Z"/>
<path fill="#1e0b46" d="M1178.00 1879.58L1183.62 1883.72L1183.62 1891.98L1178.00 1896.12L1172.37 1891.98L1172.37 1883.72Z"/>
<path fill="#ba3754" d="M1199.29 1879.58L1204.92 1883.72L1204.92 1891.98L1199.29 1896.12L1193.67 1891.98L1193.67 1883.72ZM1167.35 1903.48L1172.97 1907.62L1172.97 1915.88L1167.35 1920.02L1161.72 1915.88L1161.72 1907.62ZM1060.87 2046.88L1066.49 2051.02L1066.49 2059.28L1060.87 2063.42L1055.24 2059.28L1055.24 2051.02ZM1028.92 2094.68L1034.55 2098.82L1034.55 2107.08L1028.92 2111.22L1023.30 2107.08L1023.30 2098.82Z"/>
<path fill="#0d0827" d="M1119.43 1891.53L1125.06 1895.67L1125.06 1903.93L1119.43 1908.07L1113.81 1903.93L1113.81 1895.67ZM1193.97 1915.43L1199.59 1919.57L1199.59 1927.83L1193.97 1931.97L1188.34 1927.83L1188.34 1919.57ZM1087.49 2058.83L1093.11 2062.97L1093.11 2071.23L1087.49 2075.37L1081.86 2071.23L1081.86 2062.97Z"/>
<path fill="#120930" d="M1130.08 1891.53L1135.70 1895.67L1135.70 1903.93L1130.08 1908.07L1124.46 1903.93L1124.46 1895.67ZM1172.67 1939.33L1178.30 1943.47L1178.30 1951.73L1172.67 1955.87L1167.05 1951.73L1167.05 1943.47ZM996.98 2070.78L1002.60 2074.92L1002.60 2083.18L996.98 2087.32L991.36 2083.18L991.36 2074.92Z"/>
<path fill="#1f0b47" d="M1140.73 1891.53L1146.35 1895.67L1146.35 1903.93L1140.73 1908.07L1135.10 1903.93L1135.10 1895.67Z"/>
<path fill="#270c51" d="M1151.38 1891.53L1157.00 1895.67L1157.00 1903.93L1151.38 1908.07L1145.75 1903.93L1145.75 1895.67Z"/>
<path fill="#370b5f" d="M1162.02 1891.53L1167.65 1895.67L1167.65 1903.93L1162.02 1908.07L1156.40 1903.93L1156.40 1895.67ZM1103.46 1927.38L1109.08 1931.52L1109.08 1939.78L1103.46 1943.92L1097.84 1939.78L1097.84 1931.52ZM1092.81 1951.28L1098.44 1955.42L1098.44 1963.68L1092.81 1967.82L1087.19 1963.68L1087.19 1955.42ZM1039.57 2022.98L1045.20 2027.12L1045.20 2035.38L1039.57 2039.52L1033.95 2035.38L1033.95 2027.12ZM1018.28 2094.68L1023.90 2098.82L1023.90 2107.08L1018.28 2111.22L1012.65 2107.08L1012.65 2098.82Z"/>
<path fill="#3c0a63" d="M1172.67 1891.53L1178.30 1895.67L1178.30 1903.93L1172.67 1908.07L1167.05 1903.93L1167.05 1895.67Z"/>
<path fill="#2e0b58" d="M1183.32 1891.53L1188.94 1895.67L1188.94 1903.93L1183.32 1908.07L1177.70 1903.93L1177.70 1895.67Z"/>
<path fill="#1b0a3f" d="M1193.97 1891.53L1199.59 1895.67L1199.59 1903.93L1193.97 1908.07L1188.34 1903.93L1188.34 1895.67ZM991.66 2082.73L997.28 2086.87L997.28 2095.13L991.66 2099.27L986.03 2095.13L986.03 2086.87ZM991.66 2106.63L997.28 2110.77L997.28 2119.03L991.66 2123.17L986.03 2119.03L986.03 2110.77Z"/>
<path fill="#050414" d="M1082.16 1903.48L1087.79 1907.62L1087.79 1915.88L1082.16 1920.02L1076.54 1915.88L1076.54 1907.62Z"/>
<path fill="#1d0b42" d="M1124.76 1903.48L1130.38 1907.62L1130.38 1915.88L1124.76 1920.02L1119.13 1915.88L1119.13 1907.62Z"/>
<path fill="#2b0c55" d="M1135.40 1903.48L1141.03 1907.62L1141.03 1915.88L1135.40 1920.02L1129.78 1915.88L1129.78 1907.62Z"/>
<path fill="#510e6b" d="M1146.05 1903.48L1151.68 1907.62L1151.68 1915.88L1146.05 1920.02L1140.43 1915.88L1140.43 1907.62ZM1023.60 2082.73L1029.22 2086.87L1029.22 2095.13L1023.60 2099.27L1017.98 2095.13L1017.98 2086.87Z"/>
<path fill="#540f6c" d="M1156.70 1903.48L1162.32 1907.62L1162.32 1915.88L1156.70 1920.02L1151.08 1915.88L1151.08 1907.62Z"/>
<path fill="#310b5a" d="M1178.00 1903.48L1183.62 1907.62L1183.62 1915.88L1178.00 1920.02L1172.37 1915.88L1172.37 1907.62ZM1002.30 2082.73L1007.93 2086.87L1007.93 2095.13L1002.30 2099.27L996.68 2095.13L996.68 2086.87ZM1007.63 2094.68L1013.25 2098.82L1013.25 2107.08L1007.63 2111.22L1002.00 2107.08L1002.00 2098.82Z"/>
<path fill="#150a36" d="M1188.64 1903.48L1194.27 1907.62L1194.27 1915.88L1188.64 1920.02L1183.02 1915.88L1183.02 1907.62ZM1071.52 1951.28L1077.14 1955.42L1077.14 1963.68L1071.52 1967.82L1065.89 1963.68L1065.89 1955.42Z"/>
<path fill="#0c0826" d="M1199.29 1903.48L1204.92 1907.62L1204.92 1915.88L1199.29 1920.02L1193.67 1915.88L1193.67 1907.62Z"/>
<path fill="#08051a" d="M1209.94 1903.48L1215.56 1907.62L1215.56 1915.88L1209.94 1920.02L1204.32 1915.88L1204.32 1907.62ZM1204.62 1915.43L1210.24 1919.57L1210.24 1927.83L1204.62 1931.97L1198.99 1927.83L1198.99 1919.57ZM1172.67 1963.23L1178.30 1967.37L1178.30 1975.63L1172.67 1979.77L1167.05 1975.63L1167.05 1967.37ZM1146.05 1999.08L1151.68 2003.22L1151.68 2011.48L1146.05 2015.62L1140.43 2011.48L1140.43 2003.22Z"/>
<path fill="#160a38" d="M1108.78 1915.43L1114.41 1919.57L1114.41 1927.83L1108.78 1931.97L1103.16 1927.83L1103.16 1919.57ZM986.33 2094.68L991.96 2098.82L991.96 2107.08L986.33 2111.22L980.71 2107.08L980.71 2098.82Z"/>
<path fill="#430a68" d="M1119.43 1915.43L1125.06 1919.57L1125.06 1927.83L1119.43 1931.97L1113.81 1927.83L1113.81 1919.57Z"/>
<path fill="#55106c" d="M1130.08 1915.43L1135.70 1919.57L1135.70 1927.83L1130.08 1931.97L1124.46 1927.83L1124.46 1919.57Z"/>
<path fill="#410a67" d="M1140.73 1915.43L1146.35 1919.57L1146.35 1927.83L1140.73 1931.97L1135.10 1927.83L1135.10 1919.57Z"/>
<path fill="#62146e" d="M1151.38 1915.43L1157.00 1919.57L1157.00 1927.83L1151.38 1931.97L1145.75 1927.83L1145.75 1919.57ZM1066.19 2034.93L1071.82 2039.07L1071.82 2047.33L1066.19 2051.47L1060.57 2047.33L1060.57 2039.07Z"/>
<path fill="#490c6a" d="M1162.02 1915.43L1167.65 1919.57L1167.65 1927.83L1162.02 1931.97L1156.40 1927.83L1156.40 1919.57ZM1034.25 2034.93L1039.87 2039.07L1039.87 2047.33L1034.25 2051.47L1028.62 2047.33L1028.62 2039.07ZM1034.25 2058.83L1039.87 2062.97L1039.87 2071.23L1034.25 2075.37L1028.62 2071.23L1028.62 2062.97Z"/>
<path fill="#250c50" d="M1172.67 1915.43L1178.30 1919.57L1178.30 1927.83L1172.67 1931.97L1167.05 1927.83L1167.05 1919.57Z"/>
<path fill="#200b48" d="M1092.81 1927.38L1098.44 1931.52L1098.44 1939.78L1092.81 1943.92L1087.19 1939.78L1087.19 1931.52ZM1066.19 1963.23L1071.82 1967.37L1071.82 1975.63L1066.19 1979.77L1060.57 1975.63L1060.57 1967.37ZM1028.92 2022.98L1034.55 2027.12L1034.55 2035.38L1028.92 2039.52L1023.30 2035.38L1023.30 2027.12Z"/>
<path fill="#5e126e" d="M1114.11 1927.38L1119.73 1931.52L1119.73 1939.78L1114.11 1943.92L1108.48 1939.78L1108.48 1931.52ZM1028.92 2046.88L1034.55 2051.02L1034.55 2059.28L1028.92 2063.42L1023.30 2059.28L1023.30 2051.02ZM1044.90 2058.83L1050.52 2062.97L1050.52 2071.23L1044.90 2075.37L1039.27 2071.23L1039.27 2062.97Z"/>
<path fill="#520f6c" d="M1124.76 1927.38L1130.38 1931.52L1130.38 1939.78L1124.76 1943.92L1119.13 1939.78L1119.13 1931.52Z"/>
<path fill="#6d186d" d="M1135.40 1927.38L1141.03 1931.52L1141.03 1939.78L1135.40 1943.92L1129.78 1939.78L1129.78 1931.52Z"/>
<path fill="#3e0a64" d="M1146.05 1927.38L1151.68 1931.52L1151.68 1939.78L1146.05 1943.92L1140.43 1939.78L1140.43 1931.52Z"/>
<path fill="#3f0a65" d="M1156.70 1927.38L1162.32 1931.52L1162.32 1939.78L1156.70 1943.92L1151.08 1939.78L1151.08 1931.52Z"/>
<path fill="#190a3b" d="M1167.35 1927.38L1172.97 1931.52L1172.97 1939.78L1167.35 1943.92L1161.72 1939.78L1161.72 1931.52ZM1130.08 1987.13L1135.70 1991.27L1135.70 1999.53L1130.08 2003.67L1124.46 1999.53L1124.46 1991.27Z"/>
<path fill="#0e0829" d="M1178.00 1927.38L1183.62 1931.52L1183.62 1939.78L1178.00 1943.92L1172.37 1939.78L1172.37 1931.52ZM1023.60 2011.03L1029.22 2015.17L1029.22 2023.43L1023.60 2027.57L1017.98 2023.43L1017.98 2015.17Z"/>
<path fill="#0b0824" d="M1076.84 1939.33L1082.46 1943.47L1082.46 1951.73L1076.84 1955.87L1071.22 1951.73L1071.22 1943.47ZM1108.78 2034.93L1114.41 2039.07L1114.41 2047.33L1108.78 2051.47L1103.16 2047.33L1103.16 2039.07ZM986.33 2142.48L991.96 2146.62L991.96 2154.88L986.33 2159.02L980.71 2154.88L980.71 2146.62Z"/>
<path fill="#130933" d="M1087.49 1939.33L1093.11 1943.47L1093.11 1951.73L1087.49 1955.87L1081.86 1951.73L1081.86 1943.47Z"/>
<path fill="#2f0b58" d="M1098.14 1939.33L1103.76 1943.47L1103.76 1951.73L1098.14 1955.87L1092.51 1951.73L1092.51 1943.47Z"/>
<path fill="#fabe24" d="M1108.78 1939.33L1114.41 1943.47L1114.41 1951.73L1108.78 1955.87L1103.16 1951.73L1103.16 1943.47Z"/>
<path fill="#791d6d" d="M1119.43 1939.33L1125.06 1943.47L1125.06 1951.73L1119.43 1955.87L1113.81 1951.73L1113.81 1943.47Z"/>
<path fill="#71196d" d="M1130.08 1939.33L1135.70 1943.47L1135.70 1951.73L1130.08 1955.87L1124.46 1951.73L1124.46 1943.47ZM1055.54 2034.93L1061.17 2039.07L1061.17 2047.33L1055.54 2051.47L1049.92 2047.33L1049.92 2039.07Z"/>
<path fill="#7d1e6c" d="M1140.73 1939.33L1146.35 1943.47L1146.35 1951.73L1140.73 1955.87L1135.10 1951.73L1135.10 1943.47Z"/>
<path fill="#450b69" d="M1151.38 1939.33L1157.00 1943.47L1157.00 1951.73L1151.38 1955.87L1145.75 1951.73L1145.75 1943.47ZM1066.19 1987.13L1071.82 1991.27L1071.82 1999.53L1066.19 2003.67L1060.57 1999.53L1060.57 1991.27ZM1055.54 2058.83L1061.17 2062.97L1061.17 2071.23L1055.54 2075.37L1049.92 2071.23L1049.92 2062.97Z"/>
<path fill="#2c0b56" d="M1162.02 1939.33L1167.65 1943.47L1167.65 1951.73L1162.02 1955.87L1156.40 1951.73L1156.40 1943.47ZM1135.40 1975.18L1141.03 1979.32L1141.03 1987.58L1135.40 1991.72L1129.78 1987.58L1129.78 1979.32ZM1023.60 2034.93L1029.22 2039.07L1029.22 2047.33L1023.60 2051.47L1017.98 2047.33L1017.98 2039.07ZM1087.49 2034.93L1093.11 2039.07L1093.11 2047.33L1087.49 2051.47L1081.86 2047.33L1081.86 2039.07Z"/>
<path fill="#0c0827" d="M1060.87 1951.28L1066.49 1955.42L1066.49 1963.68L1060.87 1967.82L1055.24 1963.68L1055.24 1955.42ZM1162.02 1963.23L1167.65 1967.37L1167.65 1975.63L1162.02 1979.77L1156.40 1975.63L1156.40 1967.37Z"/>
<path fill="#280c53" d="M1082.16 1951.28L1087.79 1955.42L1087.79 1963.68L1082.16 1967.82L1076.54 1963.68L1076.54 1955.42ZM1076.84 1963.23L1082.46 1967.37L1082.46 1975.63L1076.84 1979.77L1071.22 1975.63L1071.22 1967.37Z"/>
<path fill="#5b116e" d="M1103.46 1951.28L1109.08 1955.42L1109.08 1963.68L1103.46 1967.82L1097.84 1963.68L1097.84 1955.42Z"/>
<path fill="#f6d647" d="M1114.11 1951.28L1119.73 1955.42L1119.73 1963.68L1114.11 1967.82L1108.48 1963.68L1108.48 1955.42Z"/>
<path fill="#a82e5e" d="M1124.76 1951.28L1130.38 1955.42L1130.38 1963.68L1124.76 1967.82L1119.13 1963.68L1119.13 1955.42Z"/>
<path fill="#5e136e" d="M1135.40 1951.28L1141.03 1955.42L1141.03 1963.68L1135.40 1967.82L1129.78 1963.68L1129.78 1955.42Z"/>
<path fill="#2a0c54" d="M1146.05 1951.28L1151.68 1955.42L1151.68 1963.68L1146.05 1967.82L1140.43 1963.68L1140.43 1955.42ZM1012.95 2106.63L1018.58 2110.77L1018.58 2119.03L1012.95 2123.17L1007.33 2119.03L1007.33 2110.77Z"/>
<path fill="#56106c" d="M1087.49 1963.23L1093.11 1967.37L1093.11 1975.63L1087.49 1979.77L1081.86 1975.63L1081.86 1967.37Z"/>
<path fill="#af315b" d="M1098.14 1963.23L1103.76 1967.37L1103.76 1975.63L1098.14 1979.77L1092.51 1975.63L1092.51 1967.37Z"/>
<path fill="#fb9b0b" d="M1108.78 1963.23L1114.41 1967.37L1114.41 1975.63L1108.78 1979.77L1103.16 1975.63L1103.16 1967.37Z"/>
<path fill="#5d126e" d="M1119.43 1963.23L1125.06 1967.37L1125.06 1975.63L1119.43 1979.77L1113.81 1975.63L1113.81 1967.37Z"/>
<path fill="#761b6d" d="M1130.08 1963.23L1135.70 1967.37L1135.70 1975.63L1130.08 1979.77L1124.46 1975.63L1124.46 1967.37Z"/>
<path fill="#350b5d" d="M1140.73 1963.23L1146.35 1967.37L1146.35 1975.63L1140.73 1979.77L1135.10 1975.63L1135.10 1967.37ZM1018.28 2046.88L1023.90 2051.02L1023.90 2059.28L1018.28 2063.42L1012.65 2059.28L1012.65 2051.02Z"/>
<path fill="#170a3a" d="M1060.87 1975.18L1066.49 1979.32L1066.49 1987.58L1060.87 1991.72L1055.24 1987.58L1055.24 1979.32Z"/>
<path fill="#480c69" d="M1071.52 1975.18L1077.14 1979.32L1077.14 1987.58L1071.52 1991.72L1065.89 1987.58L1065.89 1979.32ZM1018.28 2070.78L1023.90 2074.92L1023.90 2083.18L1018.28 2087.32L1012.65 2083.18L1012.65 2074.92ZM1039.57 2070.78L1045.20 2074.92L1045.20 2083.18L1039.57 2087.32L1033.95 2083.18L1033.95 2074.92Z"/>
<path fill="#530f6c" d="M1082.16 1975.18L1087.79 1979.32L1087.79 1987.58L1082.16 1991.72L1076.54 1987.58L1076.54 1979.32Z"/>
<path fill="#dd513a" d="M1092.81 1975.18L1098.44 1979.32L1098.44 1987.58L1092.81 1991.72L1087.19 1987.58L1087.19 1979.32Z"/>
<path fill="#781c6d" d="M1103.46 1975.18L1109.08 1979.32L1109.08 1987.58L1103.46 1991.72L1097.84 1987.58L1097.84 1979.32ZM1055.54 2011.03L1061.17 2015.17L1061.17 2023.43L1055.54 2027.57L1049.92 2023.43L1049.92 2015.17Z"/>
<path fill="#fafb9a" d="M1114.11 1975.18L1119.73 1979.32L1119.73 1987.58L1114.11 1991.72L1108.48 1987.58L1108.48 1979.32Z"/>
<path fill="#0b0724" d="M1156.70 1975.18L1162.32 1979.32L1162.32 1987.58L1156.70 1991.72L1151.08 1987.58L1151.08 1979.32Z"/>
<path fill="#1d0b43" d="M1055.54 1987.13L1061.17 1991.27L1061.17 1999.53L1055.54 2003.67L1049.92 1999.53L1049.92 1991.27ZM1039.57 1999.08L1045.20 2003.22L1045.20 2011.48L1039.57 2015.62L1033.95 2011.48L1033.95 2003.22Z"/>
<path fill="#f2771a" d="M1076.84 1987.13L1082.46 1991.27L1082.46 1999.53L1076.84 2003.67L1071.22 1999.53L1071.22 1991.27Z"/>
<path fill="#c23b4f" d="M1087.49 1987.13L1093.11 1991.27L1093.11 1999.53L1087.49 2003.67L1081.86 1999.53L1081.86 1991.27Z"/>
<path fill="#a12b61" d="M1098.14 1987.13L1103.76 1991.27L1103.76 1999.53L1098.14 2003.67L1092.51 1999.53L1092.51 1991.27Z"/>
<path fill="#f98d0e" d="M1108.78 1987.13L1114.41 1991.27L1114.41 1999.53L1108.78 2003.67L1103.16 1999.53L1103.16 1991.27ZM1071.52 2022.98L1077.14 2027.12L1077.14 2035.38L1071.52 2039.52L1065.89 2035.38L1065.89 2027.12Z"/>
<path fill="#57106d" d="M1119.43 1987.13L1125.06 1991.27L1125.06 1999.53L1119.43 2003.67L1113.81 1999.53L1113.81 1991.27Z"/>
<path fill="#390b60" d="M1050.22 1999.08L1055.84 2003.22L1055.84 2011.48L1050.22 2015.62L1044.60 2011.48L1044.60 2003.22Z"/>
<path fill="#771c6d" d="M1060.87 1999.08L1066.49 2003.22L1066.49 2011.48L1060.87 2015.62L1055.24 2011.48L1055.24 2003.22Z"/>
<path fill="#6f196d" d="M1071.52 1999.08L1077.14 2003.22L1077.14 2011.48L1071.52 2015.62L1065.89 2011.48L1065.89 2003.22Z"/>
<path fill="#c13a50" d="M1082.16 1999.08L1087.79 2003.22L1087.79 2011.48L1082.16 2015.62L1076.54 2011.48L1076.54 2003.22Z"/>
<path fill="#a82e5f" d="M1092.81 1999.08L1098.44 2003.22L1098.44 2011.48L1092.81 2015.62L1087.19 2011.48L1087.19 2003.22Z"/>
<path fill="#60136e" d="M1103.46 1999.08L1109.08 2003.22L1109.08 2011.48L1103.46 2015.62L1097.84 2011.48L1097.84 2003.22ZM1076.84 2034.93L1082.46 2039.07L1082.46 2047.33L1076.84 2051.47L1071.22 2047.33L1071.22 2039.07Z"/>
<path fill="#e25834" d="M1114.11 1999.08L1119.73 2003.22L1119.73 2011.48L1114.11 2015.62L1108.48 2011.48L1108.48 2003.22Z"/>
<path fill="#140933" d="M1124.76 1999.08L1130.38 2003.22L1130.38 2011.48L1124.76 2015.62L1119.13 2011.48L1119.13 2003.22ZM1076.84 2058.83L1082.46 2062.97L1082.46 2071.23L1076.84 2075.37L1071.22 2071.23L1071.22 2062.97Z"/>
<path fill="#4c0d6a" d="M1044.90 2011.03L1050.52 2015.17L1050.52 2023.43L1044.90 2027.57L1039.27 2023.43L1039.27 2015.17Z"/>
<path fill="#83206b" d="M1066.19 2011.03L1071.82 2015.17L1071.82 2023.43L1066.19 2027.57L1060.57 2023.43L1060.57 2015.17Z"/>
<path fill="#ce4446" d="M1076.84 2011.03L1082.46 2015.17L1082.46 2023.43L1076.84 2027.57L1071.22 2023.43L1071.22 2015.17Z"/>
<path fill="#711a6d" d="M1087.49 2011.03L1093.11 2015.17L1093.11 2023.43L1087.49 2027.57L1081.86 2023.43L1081.86 2015.17Z"/>
<path fill="#4b0d6a" d="M1098.14 2011.03L1103.76 2015.17L1103.76 2023.43L1098.14 2027.57L1092.51 2023.43L1092.51 2015.17Z"/>
<path fill="#190a3d" d="M1119.43 2011.03L1125.06 2015.17L1125.06 2023.43L1119.43 2027.57L1113.81 2023.43L1113.81 2015.17Z"/>
<path fill="#82206b" d="M1050.22 2022.98L1055.84 2027.12L1055.84 2035.38L1050.22 2039.52L1044.60 2035.38L1044.60 2027.12Z"/>
<path fill="#f67f13" d="M1082.16 2022.98L1087.79 2027.12L1087.79 2035.38L1082.16 2039.52L1076.54 2035.38L1076.54 2027.12Z"/>
<path fill="#3b0a62" d="M1092.81 2022.98L1098.44 2027.12L1098.44 2035.38L1092.81 2039.52L1087.19 2035.38L1087.19 2027.12Z"/>
<path fill="#290c53" d="M1103.46 2022.98L1109.08 2027.12L1109.08 2035.38L1103.46 2039.52L1097.84 2035.38L1097.84 2027.12ZM1050.22 2070.78L1055.84 2074.92L1055.84 2083.18L1050.22 2087.32L1044.60 2083.18L1044.60 2074.92ZM996.98 2094.68L1002.60 2098.82L1002.60 2107.08L996.98 2111.22L991.36 2107.08L991.36 2098.82Z"/>
<path fill="#801f6b" d="M1044.90 2034.93L1050.52 2039.07L1050.52 2047.33L1044.90 2051.47L1039.27 2047.33L1039.27 2039.07Z"/>
<path fill="#160a36" d="M1098.14 2034.93L1103.76 2039.07L1103.76 2047.33L1098.14 2051.47L1092.51 2047.33L1092.51 2039.07Z"/>
<path fill="#84216a" d="M1039.57 2046.88L1045.20 2051.02L1045.20 2059.28L1039.57 2063.42L1033.95 2059.28L1033.95 2051.02Z"/>
<path fill="#65156e" d="M1050.22 2046.88L1055.84 2051.02L1055.84 2059.28L1050.22 2063.42L1044.60 2059.28L1044.60 2051.02Z"/>
<path fill="#4a0c6a" d="M1071.52 2046.88L1077.14 2051.02L1077.14 2059.28L1071.52 2063.42L1065.89 2059.28L1065.89 2051.02Z"/>
<path fill="#1a0a3d" d="M1082.16 2046.88L1087.79 2051.02L1087.79 2059.28L1082.16 2063.42L1076.54 2059.28L1076.54 2051.02Z"/>
<path fill="#220c4c" d="M1012.95 2058.83L1018.58 2062.97L1018.58 2071.23L1012.95 2075.37L1007.33 2071.23L1007.33 2062.97ZM996.98 2118.58L1002.60 2122.72L1002.60 2130.98L996.98 2135.12L991.36 2130.98L991.36 2122.72Z"/>
<path fill="#4d0d6a" d="M1023.60 2058.83L1029.22 2062.97L1029.22 2071.23L1023.60 2075.37L1017.98 2071.23L1017.98 2062.97Z"/>
<path fill="#280c52" d="M1066.19 2058.83L1071.82 2062.97L1071.82 2071.23L1066.19 2075.37L1060.57 2071.23L1060.57 2062.97Z"/>
<path fill="#170a38" d="M1007.63 2070.78L1013.25 2074.92L1013.25 2083.18L1007.63 2087.32L1002.00 2083.18L1002.00 2074.92Z"/>
<path fill="#a72e5f" d="M1060.87 2070.78L1066.49 2074.92L1066.49 2083.18L1060.87 2087.32L1055.24 2083.18L1055.24 2074.92ZM1082.16 2070.78L1087.79 2074.92L1087.79 2083.18L1082.16 2087.32L1076.54 2083.18L1076.54 2074.92Z"/>
<path fill="#470b69" d="M1012.95 2082.73L1018.58 2086.87L1018.58 2095.13L1012.95 2099.27L1007.33 2095.13L1007.33 2086.87Z"/>
<path fill="#360b5e" d="M1034.25 2082.73L1039.87 2086.87L1039.87 2095.13L1034.25 2099.27L1028.62 2095.13L1028.62 2086.87Z"/>
<path fill="#320b5b" d="M1044.90 2082.73L1050.52 2086.87L1050.52 2095.13L1044.90 2099.27L1039.27 2095.13L1039.27 2086.87Z"/>
<path fill="#260c51" d="M1002.30 2106.63L1007.93 2110.77L1007.93 2119.03L1002.30 2123.17L996.68 2119.03L996.68 2110.77Z"/>
<path fill="#932667" d="M1023.60 2106.63L1029.22 2110.77L1029.22 2119.03L1023.60 2123.17L1017.98 2119.03L1017.98 2110.77Z"/>
<path fill="#1a0a3f" d="M986.33 2118.58L991.96 2122.72L991.96 2130.98L986.33 2135.12L980.71 2130.98L980.71 2122.72Z"/>
<path fill="#1e0b45" d="M1007.63 2118.58L1013.25 2122.72L1013.25 2130.98L1007.63 2135.12L1002.00 2130.98L1002.00 2122.72Z"/>
<path fill="#070416" d="M959.71 2130.53L965.34 2134.67L965.34 2142.93L959.71 2147.07L954.09 2142.93L954.09 2134.67Z"/>
<path fill="#180a3b" d="M991.66 2130.53L997.28 2134.67L997.28 2142.93L991.66 2147.07L986.03 2142.93L986.03 2134.67Z"/>
<path fill="#080519" d="M959.71 2154.43L965.34 2158.57L965.34 2166.83L959.71 2170.97L954.09 2166.83L954.09 2158.57Z"/>
</g>
<g clip-path="url(#cle)">
<path fill="#020109" d="M1784.92 1591.77L1790.53 1595.92L1790.53 1604.22L1784.92 1608.37L1779.30 1604.22L1779.30 1595.92ZM1854.01 1651.77L1859.63 1655.92L1859.63 1664.22L1854.01 1668.37L1848.40 1664.22L1848.40 1655.92ZM1614.84 1663.77L1620.45 1667.92L1620.45 1676.22L1614.84 1680.37L1609.22 1676.22L1609.22 1667.92ZM1854.01 1747.77L1859.63 1751.92L1859.63 1760.22L1854.01 1764.37L1848.40 1760.22L1848.40 1751.92ZM1795.55 1759.77L1801.16 1763.92L1801.16 1772.22L1795.55 1776.37L1789.93 1772.22L1789.93 1763.92ZM1806.18 1759.77L1811.79 1763.92L1811.79 1772.22L1806.18 1776.37L1800.56 1772.22L1800.56 1763.92ZM1912.48 1759.77L1918.10 1763.92L1918.10 1772.22L1912.48 1776.37L1906.87 1772.22L1906.87 1763.92ZM1864.64 1771.77L1870.26 1775.92L1870.26 1784.22L1864.64 1788.37L1859.03 1784.22L1859.03 1775.92ZM1891.22 1783.77L1896.83 1787.92L1896.83 1796.22L1891.22 1800.37L1885.60 1796.22L1885.60 1787.92ZM1864.64 1795.77L1870.26 1799.92L1870.26 1808.22L1864.64 1812.37L1859.03 1808.22L1859.03 1799.92ZM1614.84 1807.77L1620.45 1811.92L1620.45 1820.22L1614.84 1824.37L1609.22 1820.22L1609.22 1811.92ZM1742.40 1807.77L1748.01 1811.92L1748.01 1820.22L1742.40 1824.37L1736.78 1820.22L1736.78 1811.92ZM1827.44 1807.77L1833.06 1811.92L1833.06 1820.22L1827.44 1824.37L1821.83 1820.22L1821.83 1811.92ZM1854.01 1819.77L1859.63 1823.92L1859.63 1832.22L1854.01 1836.37L1848.40 1832.22L1848.40 1823.92ZM1768.97 1843.77L1774.59 1847.92L1774.59 1856.22L1768.97 1860.37L1763.36 1856.22L1763.36 1847.92ZM1790.23 1867.77L1795.85 1871.92L1795.85 1880.22L1790.23 1884.37L1784.62 1880.22L1784.62 1871.92ZM1806.18 1879.77L1811.79 1883.92L1811.79 1892.22L1806.18 1896.37L1800.56 1892.22L1800.56 1883.92ZM1790.23 1891.77L1795.85 1895.92L1795.85 1904.22L1790.23 1908.37L1784.62 1904.22L1784.62 1895.92ZM1768.97 1915.77L1774.59 1919.92L1774.59 1928.22L1768.97 1932.37L1763.36 1928.22L1763.36 1919.92ZM1721.14 1975.77L1726.75 1979.92L1726.75 1988.22L1721.14 1992.37L1715.52 1988.22L1715.52 1979.92ZM1667.99 2023.77L1673.61 2027.92L1673.61 2036.22L1667.99 2040.37L1662.38 2036.22L1662.38 2027.92ZM1917.80 2035.77L1923.41 2039.92L1923.41 2048.22L1917.80 2052.37L1912.18 2048.22L1912.18 2039.92ZM1912.48 2047.77L1918.10 2051.92L1918.10 2060.22L1912.48 2064.37L1906.87 2060.22L1906.87 2051.92ZM1896.53 2131.77L1902.15 2135.92L1902.15 2144.22L1896.53 2148.37L1890.92 2144.22L1890.92 2135.92ZM1848.70 2143.77L1854.31 2147.92L1854.31 2156.22L1848.70 2160.37L1843.08 2156.22L1843.08 2147.92ZM1875.28 2155.77L1880.89 2159.92L1880.89 2168.22L1875.28 2172.37L1869.66 2168.22L1869.66 2159.92ZM1827.44 2167.77L1833.06 2171.92L1833.06 2180.22L1827.44 2184.37L1821.83 2180.22L1821.83 2171.92ZM1811.49 2179.77L1817.11 2183.92L1817.11 2192.22L1811.49 2196.37L1805.88 2192.22L1805.88 2183.92ZM1843.38 2179.77L1849.00 2183.92L1849.00 2192.22L1843.38 2196.37L1837.77 2192.22L1837.77 2183.92ZM1816.81 2191.77L1822.42 2195.92L1822.42 2204.22L1816.81 2208.37L1811.19 2204.22L1811.19 2195.92ZM1854.01 2203.77L1859.63 2207.92L1859.63 2216.22L1854.01 2220.37L1848.40 2216.22L1848.40 2207.92ZM1726.45 2251.77L1732.07 2255.92L1732.07 2264.22L1726.45 2268.37L1720.84 2264.22L1720.84 2255.92Z"/>
<path fill="#020108" d="M1891.22 1615.77L1896.83 1619.92L1896.83 1628.22L1891.22 1632.37L1885.60 1628.22L1885.60 1619.92ZM1928.42 1747.77L1934.04 1751.92L1934.04 1760.22L1928.42 1764.37L1922.81 1760.22L1922.81 1751.92ZM1843.38 1771.77L1849.00 1775.92L1849.00 1784.22L1843.38 1788.37L1837.77 1784.22L1837.77 1775.92ZM1859.33 1783.77L1864.94 1787.92L1864.94 1796.22L1859.33 1800.37L1853.71 1796.22L1853.71 1787.92ZM1763.66 1807.77L1769.27 1811.92L1769.27 1820.22L1763.66 1824.37L1758.04 1820.22L1758.04 1811.92ZM1715.83 1915.77L1721.44 1919.92L1721.44 1928.22L1715.83 1932.37L1710.21 1928.22L1710.21 1919.92ZM1715.83 1987.77L1721.44 1991.92L1721.44 2000.22L1715.83 2004.37L1710.21 2000.22L1710.21 1991.92ZM1678.62 2023.77L1684.23 2027.92L1684.23 2036.22L1678.62 2040.37L1673.00 2036.22L1673.00 2027.92Z"/>
<path fill="#02010a" d="M1859.33 1687.77L1864.94 1691.92L1864.94 1700.22L1859.33 1704.37L1853.71 1700.22L1853.71 1691.92ZM1928.42 1723.77L1934.04 1727.92L1934.04 1736.22L1928.42 1740.37L1922.81 1736.22L1922.81 1727.92ZM1763.66 1759.77L1769.27 1763.92L1769.27 1772.22L1763.66 1776.37L1758.04 1772.22L1758.04 1763.92ZM1859.33 1759.77L1864.94 1763.92L1864.94 1772.22L1859.33 1776.37L1853.71 1772.22L1853.71 1763.92ZM1896.53 1771.77L1902.15 1775.92L1902.15 1784.22L1896.53 1788.37L1890.92 1784.22L1890.92 1775.92ZM1869.96 1783.77L1875.58 1787.92L1875.58 1796.22L1869.96 1800.37L1864.35 1796.22L1864.35 1787.92ZM1832.76 1819.77L1838.37 1823.92L1838.37 1832.22L1832.76 1836.37L1827.14 1832.22L1827.14 1823.92ZM1843.38 1819.77L1849.00 1823.92L1849.00 1832.22L1843.38 1836.37L1837.77 1832.22L1837.77 1823.92ZM1864.64 1819.77L1870.26 1823.92L1870.26 1832.22L1864.64 1836.37L1859.03 1832.22L1859.03 1823.92ZM1848.70 1831.77L1854.31 1835.92L1854.31 1844.22L1848.70 1848.37L1843.08 1844.22L1843.08 1835.92ZM1843.38 1843.77L1849.00 1847.92L1849.00 1856.22L1843.38 1860.37L1837.77 1856.22L1837.77 1847.92ZM1795.55 1855.77L1801.16 1859.92L1801.16 1868.22L1795.55 1872.37L1789.93 1868.22L1789.93 1859.92ZM1816.81 1855.77L1822.42 1859.92L1822.42 1868.22L1816.81 1872.37L1811.19 1868.22L1811.19 1859.92ZM1768.97 1867.77L1774.59 1871.92L1774.59 1880.22L1768.97 1884.37L1763.36 1880.22L1763.36 1871.92ZM1811.49 1867.77L1817.11 1871.92L1817.11 1880.22L1811.49 1884.37L1805.88 1880.22L1805.88 1871.92ZM1747.71 1891.77L1753.33 1895.92L1753.33 1904.22L1747.71 1908.37L1742.10 1904.22L1742.10 1895.92ZM1699.88 1903.77L1705.49 1907.92L1705.49 1916.22L1699.88 1920.37L1694.26 1916.22L1694.26 1907.92ZM1726.45 1915.77L1732.07 1919.92L1732.07 1928.22L1726.45 1932.37L1720.84 1928.22L1720.84 1919.92ZM1710.51 1999.77L1716.12 2003.92L1716.12 2012.22L1710.51 2016.37L1704.89 2012.22L1704.89 2003.92ZM1699.88 2023.77L1705.49 2027.92L1705.49 2036.22L1699.88 2040.37L1694.26 2036.22L1694.26 2027.92ZM1683.93 2035.77L1689.55 2039.92L1689.55 2048.22L1683.93 2052.37L1678.32 2048.22L1678.32 2039.92ZM1885.90 2083.77L1891.52 2087.92L1891.52 2096.22L1885.90 2100.37L1880.29 2096.22L1880.29 2087.92ZM1875.28 2131.77L1880.89 2135.92L1880.89 2144.22L1875.28 2148.37L1869.66 2144.22L1869.66 2135.92ZM1854.01 2155.77L1859.63 2159.92L1859.63 2168.22L1854.01 2172.37L1848.40 2168.22L1848.40 2159.92ZM1795.55 2191.77L1801.16 2195.92L1801.16 2204.22L1795.55 2208.37L1789.93 2204.22L1789.93 2195.92ZM1806.18 2191.77L1811.79 2195.92L1811.79 2204.22L1806.18 2208.37L1800.56 2204.22L1800.56 2195.92ZM1763.66 2215.77L1769.27 2219.92L1769.27 2228.22L1763.66 2232.37L1758.04 2228.22L1758.04 2219.92ZM1768.97 2227.77L1774.59 2231.92L1774.59 2240.22L1768.97 2244.37L1763.36 2240.22L1763.36 2231.92Z"/>
<path fill="#010108" d="M1896.53 1723.77L1902.15 1727.92L1902.15 1736.22L1896.53 1740.37L1890.92 1736.22L1890.92 1727.92ZM1891.22 1759.77L1896.83 1763.92L1896.83 1772.22L1891.22 1776.37L1885.60 1772.22L1885.60 1763.92ZM1854.01 1771.77L1859.63 1775.92L1859.63 1784.22L1854.01 1788.37L1848.40 1784.22L1848.40 1775.92ZM1885.90 1771.77L1891.52 1775.92L1891.52 1784.22L1885.90 1788.37L1880.29 1784.22L1880.29 1775.92ZM1854.01 1795.77L1859.63 1799.92L1859.63 1808.22L1854.01 1812.37L1848.40 1808.22L1848.40 1799.92ZM1763.66 1879.77L1769.27 1883.92L1769.27 1892.22L1763.66 1896.37L1758.04 1892.22L1758.04 1883.92ZM1795.55 1879.77L1801.16 1883.92L1801.16 1892.22L1795.55 1896.37L1789.93 1892.22L1789.93 1883.92ZM1705.19 1915.77L1710.81 1919.92L1710.81 1928.22L1705.19 1932.37L1699.58 1928.22L1699.58 1919.92ZM1721.14 1951.77L1726.75 1955.92L1726.75 1964.22L1721.14 1968.37L1715.52 1964.22L1715.52 1955.92ZM1673.31 2011.77L1678.92 2015.92L1678.92 2024.22L1673.31 2028.37L1667.69 2024.22L1667.69 2015.92ZM1933.74 2023.77L1939.36 2027.92L1939.36 2036.22L1933.74 2040.37L1928.12 2036.22L1928.12 2027.92ZM1875.28 2107.77L1880.89 2111.92L1880.89 2120.22L1875.28 2124.37L1869.66 2120.22L1869.66 2111.92ZM1854.01 2131.77L1859.63 2135.92L1859.63 2144.22L1854.01 2148.37L1848.40 2144.22L1848.40 2135.92ZM1880.59 2167.77L1886.20 2171.92L1886.20 2180.22L1880.59 2184.37L1874.97 2180.22L1874.97 2171.92ZM1784.92 2215.77L1790.53 2219.92L1790.53 2228.22L1784.92 2232.37L1779.30 2228.22L1779.30 2219.92ZM1854.01 2227.77L1859.63 2231.92L1859.63 2240.22L1854.01 2244.37L1848.40 2240.22L1848.40 2231.92Z"/>
<path fill="#010106" d="M1795.55 1735.77L1801.16 1739.92L1801.16 1748.22L1795.55 1752.37L1789.93 1748.22L1789.93 1739.92ZM1885.90 1747.77L1891.52 1751.92L1891.52 1760.22L1885.90 1764.37L1880.29 1760.22L1880.29 1751.92ZM1880.59 1759.77L1886.20 1763.92L1886.20 1772.22L1880.59 1776.37L1874.97 1772.22L1874.97 1763.92ZM1816.81 1783.77L1822.42 1787.92L1822.42 1796.22L1816.81 1800.37L1811.19 1796.22L1811.19 1787.92ZM1779.61 1843.77L1785.22 1847.92L1785.22 1856.22L1779.61 1860.37L1773.99 1856.22L1773.99 1847.92ZM1763.66 1903.77L1769.27 1907.92L1769.27 1916.22L1763.66 1920.37L1758.04 1916.22L1758.04 1907.92ZM1737.09 1915.77L1742.70 1919.92L1742.70 1928.22L1737.09 1932.37L1731.47 1928.22L1731.47 1919.92ZM1854.01 2179.77L1859.63 2183.92L1859.63 2192.22L1854.01 2196.37L1848.40 2192.22L1848.40 2183.92Z"/>
<path fill="#02020b" d="M1933.74 1735.77L1939.36 1739.92L1939.36 1748.22L1933.74 1752.37L1928.12 1748.22L1928.12 1739.92ZM1843.38 1795.77L1849.00 1799.92L1849.00 1808.22L1843.38 1812.37L1837.77 1808.22L1837.77 1799.92ZM1869.96 1807.77L1875.58 1811.92L1875.58 1820.22L1869.96 1824.37L1864.35 1820.22L1864.35 1811.92ZM1880.59 1807.77L1886.20 1811.92L1886.20 1820.22L1880.59 1824.37L1874.97 1820.22L1874.97 1811.92ZM1811.49 1819.77L1817.11 1823.92L1817.11 1832.22L1811.49 1836.37L1805.88 1832.22L1805.88 1823.92ZM1790.23 1843.77L1795.85 1847.92L1795.85 1856.22L1790.23 1860.37L1784.62 1856.22L1784.62 1847.92ZM1832.76 1843.77L1838.37 1847.92L1838.37 1856.22L1832.76 1860.37L1827.14 1856.22L1827.14 1847.92ZM1763.66 1855.77L1769.27 1859.92L1769.27 1868.22L1763.66 1872.37L1758.04 1868.22L1758.04 1859.92ZM1806.18 1855.77L1811.79 1859.92L1811.79 1868.22L1806.18 1872.37L1800.56 1868.22L1800.56 1859.92ZM1731.77 1951.77L1737.38 1955.92L1737.38 1964.22L1731.77 1968.37L1726.15 1964.22L1726.15 1955.92ZM1901.85 2071.77L1907.46 2075.92L1907.46 2084.22L1901.85 2088.37L1896.23 2084.22L1896.23 2075.92ZM1880.59 2119.77L1886.20 2123.92L1886.20 2132.22L1880.59 2136.37L1874.97 2132.22L1874.97 2123.92ZM1838.07 2143.77L1843.68 2147.92L1843.68 2156.22L1838.07 2160.37L1832.45 2156.22L1832.45 2147.92ZM1869.96 2143.77L1875.58 2147.92L1875.58 2156.22L1869.96 2160.37L1864.35 2156.22L1864.35 2147.92ZM1843.38 2155.77L1849.00 2159.92L1849.00 2168.22L1843.38 2172.37L1837.77 2168.22L1837.77 2159.92ZM1838.07 2167.77L1843.68 2171.92L1843.68 2180.22L1838.07 2184.37L1832.45 2180.22L1832.45 2171.92ZM1822.12 2179.77L1827.74 2183.92L1827.74 2192.22L1822.12 2196.37L1816.51 2192.22L1816.51 2183.92Z"/>
<path fill="#010006" d="M1864.64 1747.77L1870.26 1751.92L1870.26 1760.22L1864.64 1764.37L1859.03 1760.22L1859.03 1751.92ZM1614.84 1999.77L1620.45 2003.92L1620.45 2012.22L1614.84 2016.37L1609.22 2012.22L1609.22 2003.92ZM1896.53 2107.77L1902.15 2111.92L1902.15 2120.22L1896.53 2124.37L1890.92 2120.22L1890.92 2111.92ZM1896.53 2155.77L1902.15 2159.92L1902.15 2168.22L1896.53 2172.37L1890.92 2168.22L1890.92 2159.92Z"/>
<path fill="#010107" d="M1896.53 1747.77L1902.15 1751.92L1902.15 1760.22L1896.53 1764.37L1890.92 1760.22L1890.92 1751.92ZM1816.81 1759.77L1822.42 1763.92L1822.42 1772.22L1816.81 1776.37L1811.19 1772.22L1811.19 1763.92ZM1869.96 1759.77L1875.58 1763.92L1875.58 1772.22L1869.96 1776.37L1864.35 1772.22L1864.35 1763.92ZM1811.49 1771.77L1817.11 1775.92L1817.11 1784.22L1811.49 1788.37L1805.88 1784.22L1805.88 1775.92ZM1875.28 1771.77L1880.89 1775.92L1880.89 1784.22L1875.28 1788.37L1869.66 1784.22L1869.66 1775.92ZM1784.92 1783.77L1790.53 1787.92L1790.53 1796.22L1784.92 1800.37L1779.30 1796.22L1779.30 1787.92ZM1848.70 1783.77L1854.31 1787.92L1854.31 1796.22L1848.70 1800.37L1843.08 1796.22L1843.08 1787.92ZM1822.12 1795.77L1827.74 1799.92L1827.74 1808.22L1822.12 1812.37L1816.51 1808.22L1816.51 1799.92ZM1859.33 1807.77L1864.94 1811.92L1864.94 1820.22L1859.33 1824.37L1853.71 1820.22L1853.71 1811.92ZM1758.35 1819.77L1763.96 1823.92L1763.96 1832.22L1758.35 1836.37L1752.73 1832.22L1752.73 1823.92ZM1838.07 1831.77L1843.68 1835.92L1843.68 1844.22L1838.07 1848.37L1832.45 1844.22L1832.45 1835.92ZM1800.87 1867.77L1806.48 1871.92L1806.48 1880.22L1800.87 1884.37L1795.25 1880.22L1795.25 1871.92ZM1768.97 1891.77L1774.59 1895.92L1774.59 1904.22L1768.97 1908.37L1763.36 1904.22L1763.36 1895.92ZM1737.09 1939.77L1742.70 1943.92L1742.70 1952.22L1737.09 1956.37L1731.47 1952.22L1731.47 1943.92ZM1620.15 1963.77L1625.77 1967.92L1625.77 1976.22L1620.15 1980.37L1614.54 1976.22L1614.54 1967.92ZM1673.31 1987.77L1678.92 1991.92L1678.92 2000.22L1673.31 2004.37L1667.69 2000.22L1667.69 1991.92ZM1699.88 1999.77L1705.49 2003.92L1705.49 2012.22L1699.88 2016.37L1694.26 2012.22L1694.26 2003.92ZM1917.80 2059.77L1923.41 2063.92L1923.41 2072.22L1917.80 2076.37L1912.18 2072.22L1912.18 2063.92ZM1912.48 2071.77L1918.10 2075.92L1918.10 2084.22L1912.48 2088.37L1906.87 2084.22L1906.87 2075.92ZM1901.85 2119.77L1907.46 2123.92L1907.46 2132.22L1901.85 2136.37L1896.23 2132.22L1896.23 2123.92ZM1912.48 2119.77L1918.10 2123.92L1918.10 2132.22L1912.48 2136.37L1906.87 2132.22L1906.87 2123.92ZM1848.70 2167.77L1854.31 2171.92L1854.31 2180.22L1848.70 2184.37L1843.08 2180.22L1843.08 2171.92ZM1885.90 2179.77L1891.52 2183.92L1891.52 2192.22L1885.90 2196.37L1880.29 2192.22L1880.29 2183.92ZM1859.33 2191.77L1864.94 2195.92L1864.94 2204.22L1859.33 2208.37L1853.71 2204.22L1853.71 2195.92ZM1869.96 2191.77L1875.58 2195.92L1875.58 2204.22L1869.96 2208.37L1864.35 2204.22L1864.35 2195.92ZM1800.87 2203.77L1806.48 2207.92L1806.48 2216.22L1800.87 2220.37L1795.25 2216.22L1795.25 2207.92ZM1774.29 2239.77L1779.90 2243.92L1779.90 2252.22L1774.29 2256.37L1768.67 2252.22L1768.67 2243.92ZM1768.97 2251.77L1774.59 2255.92L1774.59 2264.22L1768.97 2268.37L1763.36 2264.22L1763.36 2255.92ZM1731.77 2263.77L1737.38 2267.92L1737.38 2276.22L1731.77 2280.37L1726.15 2276.22L1726.15 2267.92Z"/>
<path fill="#03020b" d="M1848.70 1759.77L1854.31 1763.92L1854.31 1772.22L1848.70 1776.37L1843.08 1772.22L1843.08 1763.92ZM1912.48 1783.77L1918.10 1787.92L1918.10 1796.22L1912.48 1800.37L1906.87 1796.22L1906.87 1787.92ZM1875.28 1795.77L1880.89 1799.92L1880.89 1808.22L1875.28 1812.37L1869.66 1808.22L1869.66 1799.92ZM1896.53 1795.77L1902.15 1799.92L1902.15 1808.22L1896.53 1812.37L1890.92 1808.22L1890.92 1799.92ZM1859.33 1831.77L1864.94 1835.92L1864.94 1844.22L1859.33 1848.37L1853.71 1844.22L1853.71 1835.92ZM1763.66 1927.77L1769.27 1931.92L1769.27 1940.22L1763.66 1944.37L1758.04 1940.22L1758.04 1931.92ZM1742.40 1951.77L1748.01 1955.92L1748.01 1964.22L1742.40 1968.37L1736.78 1964.22L1736.78 1955.92ZM1726.45 1963.77L1732.07 1967.92L1732.07 1976.22L1726.45 1980.37L1720.84 1976.22L1720.84 1967.92ZM1737.09 1963.77L1742.70 1967.92L1742.70 1976.22L1737.09 1980.37L1731.47 1976.22L1731.47 1967.92ZM1747.71 1963.77L1753.33 1967.92L1753.33 1976.22L1747.71 1980.37L1742.10 1976.22L1742.10 1967.92ZM1705.19 2011.77L1710.81 2015.92L1710.81 2024.22L1705.19 2028.37L1699.58 2024.22L1699.58 2015.92ZM1891.22 2071.77L1896.83 2075.92L1896.83 2084.22L1891.22 2088.37L1885.60 2084.22L1885.60 2075.92ZM1784.92 2191.77L1790.53 2195.92L1790.53 2204.22L1784.92 2208.37L1779.30 2204.22L1779.30 2195.92Z"/>
<path fill="#03020d" d="M1933.74 1759.77L1939.36 1763.92L1939.36 1772.22L1933.74 1776.37L1928.12 1772.22L1928.12 1763.92ZM1822.12 1867.77L1827.74 1871.92L1827.74 1880.22L1822.12 1884.37L1816.51 1880.22L1816.51 1871.92ZM1779.61 1915.77L1785.22 1919.92L1785.22 1928.22L1779.61 1932.37L1773.99 1928.22L1773.99 1919.92ZM1768.97 1939.77L1774.59 1943.92L1774.59 1952.22L1768.97 1956.37L1763.36 1952.22L1763.36 1943.92ZM1731.77 1975.77L1737.38 1979.92L1737.38 1988.22L1731.77 1992.37L1726.15 1988.22L1726.15 1979.92ZM1721.14 1999.77L1726.75 2003.92L1726.75 2012.22L1721.14 2016.37L1715.52 2012.22L1715.52 2003.92ZM1683.93 2059.77L1689.55 2063.92L1689.55 2072.22L1683.93 2076.37L1678.32 2072.22L1678.32 2063.92ZM1678.62 2071.77L1684.23 2075.92L1684.23 2084.22L1678.62 2088.37L1673.00 2084.22L1673.00 2075.92ZM1673.31 2083.77L1678.92 2087.92L1678.92 2096.22L1673.31 2100.37L1667.69 2096.22L1667.69 2087.92ZM1848.70 2119.77L1854.31 2123.92L1854.31 2132.22L1848.70 2136.37L1843.08 2132.22L1843.08 2123.92ZM1811.49 2155.77L1817.11 2159.92L1817.11 2168.22L1811.49 2172.37L1805.88 2168.22L1805.88 2159.92ZM1731.77 2239.77L1737.38 2243.92L1737.38 2252.22L1731.77 2256.37L1726.15 2252.22L1726.15 2243.92Z"/>
<path fill="#6a176e" d="M1832.76 1795.77L1838.37 1799.92L1838.37 1808.22L1832.76 1812.37L1827.14 1808.22L1827.14 1799.92Z"/>
<path fill="#060416" d="M1917.80 1795.77L1923.41 1799.92L1923.41 1808.22L1917.80 1812.37L1912.18 1808.22L1912.18 1799.92ZM1848.70 1855.77L1854.31 1859.92L1854.31 1868.22L1848.70 1872.37L1843.08 1868.22L1843.08 1859.92ZM1827.44 1879.77L1833.06 1883.92L1833.06 1892.22L1827.44 1896.37L1821.83 1892.22L1821.83 1883.92ZM1768.97 2179.77L1774.59 2183.92L1774.59 2192.22L1768.97 2196.37L1763.36 2192.22L1763.36 2183.92Z"/>
<path fill="#060414" d="M1928.42 1795.77L1934.04 1799.92L1934.04 1808.22L1928.42 1812.37L1922.81 1808.22L1922.81 1799.92ZM1843.38 1867.77L1849.00 1871.92L1849.00 1880.22L1843.38 1884.37L1837.77 1880.22L1837.77 1871.92ZM1758.35 1963.77L1763.96 1967.92L1763.96 1976.22L1758.35 1980.37L1752.73 1976.22L1752.73 1967.92ZM1689.25 2071.77L1694.87 2075.92L1694.87 2084.22L1689.25 2088.37L1683.63 2084.22L1683.63 2075.92ZM1838.07 2119.77L1843.68 2123.92L1843.68 2132.22L1838.07 2136.37L1832.45 2132.22L1832.45 2123.92Z"/>
<path fill="#02020a" d="M1848.70 1807.77L1854.31 1811.92L1854.31 1820.22L1848.70 1824.37L1843.08 1820.22L1843.08 1811.92ZM1710.51 1927.77L1716.12 1931.92L1716.12 1940.22L1710.51 1944.37L1704.89 1940.22L1704.89 1931.92Z"/>
<path fill="#050311" d="M1891.22 1807.77L1896.83 1811.92L1896.83 1820.22L1891.22 1824.37L1885.60 1820.22L1885.60 1811.92ZM1848.70 2095.77L1854.31 2099.92L1854.31 2108.22L1848.70 2112.37L1843.08 2108.22L1843.08 2099.92Z"/>
<path fill="#040310" d="M1901.85 1807.77L1907.46 1811.92L1907.46 1820.22L1901.85 1824.37L1896.23 1820.22L1896.23 1811.92ZM1854.01 1843.77L1859.63 1847.92L1859.63 1856.22L1854.01 1860.37L1848.40 1856.22L1848.40 1847.92ZM1816.81 1879.77L1822.42 1883.92L1822.42 1892.22L1816.81 1896.37L1811.19 1892.22L1811.19 1883.92ZM1806.18 1903.77L1811.79 1907.92L1811.79 1916.22L1806.18 1920.37L1800.56 1916.22L1800.56 1907.92ZM1816.81 2143.77L1822.42 2147.92L1822.42 2156.22L1816.81 2160.37L1811.19 2156.22L1811.19 2147.92ZM1774.29 2191.77L1779.90 2195.92L1779.90 2204.22L1774.29 2208.37L1768.67 2204.22L1768.67 2195.92ZM1726.45 2227.77L1732.07 2231.92L1732.07 2240.22L1726.45 2244.37L1720.84 2240.22L1720.84 2231.92Z"/>
<path fill="#08061c" d="M1912.48 1807.77L1918.10 1811.92L1918.10 1820.22L1912.48 1824.37L1906.87 1820.22L1906.87 1811.92ZM1843.38 2083.77L1849.00 2087.92L1849.00 2096.22L1843.38 2100.37L1837.77 2096.22L1837.77 2087.92ZM1806.18 2143.77L1811.79 2147.92L1811.79 2156.22L1806.18 2160.37L1800.56 2156.22L1800.56 2147.92ZM1657.36 2167.77L1662.97 2171.92L1662.97 2180.22L1657.36 2184.37L1651.74 2180.22L1651.74 2171.92Z"/>
<path fill="#03020c" d="M1875.28 1819.77L1880.89 1823.92L1880.89 1832.22L1875.28 1836.37L1869.66 1832.22L1869.66 1823.92ZM1827.44 1855.77L1833.06 1859.92L1833.06 1868.22L1827.44 1872.37L1821.83 1868.22L1821.83 1859.92ZM1758.35 1939.77L1763.96 1943.92L1763.96 1952.22L1758.35 1956.37L1752.73 1952.22L1752.73 1943.92ZM1869.96 2095.77L1875.58 2099.92L1875.58 2108.22L1869.96 2112.37L1864.35 2108.22L1864.35 2099.92ZM1843.38 2131.77L1849.00 2135.92L1849.00 2144.22L1843.38 2148.37L1837.77 2144.22L1837.77 2135.92ZM1800.87 2179.77L1806.48 2183.92L1806.48 2192.22L1800.87 2196.37L1795.25 2192.22L1795.25 2183.92Z"/>
<path fill="#050413" d="M1885.90 1819.77L1891.52 1823.92L1891.52 1832.22L1885.90 1836.37L1880.29 1832.22L1880.29 1823.92ZM1864.64 1843.77L1870.26 1847.92L1870.26 1856.22L1864.64 1860.37L1859.03 1856.22L1859.03 1847.92ZM1800.87 1915.77L1806.48 1919.92L1806.48 1928.22L1800.87 1932.37L1795.25 1928.22L1795.25 1919.92ZM1784.92 1927.77L1790.53 1931.92L1790.53 1940.22L1784.92 1944.37L1779.30 1940.22L1779.30 1931.92ZM1896.53 2035.77L1902.15 2039.92L1902.15 2048.22L1896.53 2052.37L1890.92 2048.22L1890.92 2039.92ZM1667.99 2095.77L1673.61 2099.92L1673.61 2108.22L1667.99 2112.37L1662.38 2108.22L1662.38 2099.92ZM1800.87 2155.77L1806.48 2159.92L1806.48 2168.22L1800.87 2172.37L1795.25 2168.22L1795.25 2159.92Z"/>
<path fill="#070518" d="M1896.53 1819.77L1902.15 1823.92L1902.15 1832.22L1896.53 1836.37L1890.92 1832.22L1890.92 1823.92ZM1838.07 1879.77L1843.68 1883.92L1843.68 1892.22L1838.07 1896.37L1832.45 1892.22L1832.45 1883.92ZM1779.61 1939.77L1785.22 1943.92L1785.22 1952.22L1779.61 1956.37L1773.99 1952.22L1773.99 1943.92ZM1699.88 2071.77L1705.49 2075.92L1705.49 2084.22L1699.88 2088.37L1694.26 2084.22L1694.26 2075.92Z"/>
<path fill="#0d0828" d="M1917.80 1819.77L1923.41 1823.92L1923.41 1832.22L1917.80 1836.37L1912.18 1832.22L1912.18 1823.92ZM1689.25 2095.77L1694.87 2099.92L1694.87 2108.22L1689.25 2112.37L1683.63 2108.22L1683.63 2099.92ZM1806.18 2119.77L1811.79 2123.92L1811.79 2132.22L1806.18 2136.37L1800.56 2132.22L1800.56 2123.92ZM1667.99 2143.77L1673.61 2147.92L1673.61 2156.22L1667.99 2160.37L1662.38 2156.22L1662.38 2147.92ZM1710.51 2191.77L1716.12 2195.92L1716.12 2204.22L1710.51 2208.37L1704.89 2204.22L1704.89 2195.92Z"/>
<path fill="#0b0722" d="M1901.85 1831.77L1907.46 1835.92L1907.46 1844.22L1901.85 1848.37L1896.23 1844.22L1896.23 1835.92ZM1848.70 1879.77L1854.31 1883.92L1854.31 1892.22L1848.70 1896.37L1843.08 1892.22L1843.08 1883.92ZM1827.44 1903.77L1833.06 1907.92L1833.06 1916.22L1827.44 1920.37L1821.83 1916.22L1821.83 1907.92ZM1880.59 2023.77L1886.20 2027.92L1886.20 2036.22L1880.59 2040.37L1874.97 2036.22L1874.97 2027.92ZM1763.66 2167.77L1769.27 2171.92L1769.27 2180.22L1763.66 2184.37L1758.04 2180.22L1758.04 2171.92ZM1662.67 2227.77L1668.29 2231.92L1668.29 2240.22L1662.67 2244.37L1657.06 2240.22L1657.06 2231.92ZM1678.62 2239.77L1684.23 2243.92L1684.23 2252.22L1678.62 2256.37L1673.00 2252.22L1673.00 2243.92Z"/>
<path fill="#0b0723" d="M1912.48 1831.77L1918.10 1835.92L1918.10 1844.22L1912.48 1848.37L1906.87 1844.22L1906.87 1835.92ZM1667.99 2191.77L1673.61 2195.92L1673.61 2204.22L1667.99 2208.37L1662.38 2204.22L1662.38 2195.92ZM1678.62 2191.77L1684.23 2195.92L1684.23 2204.22L1678.62 2208.37L1673.00 2204.22L1673.00 2195.92Z"/>
<path fill="#180a3b" d="M1933.74 1831.77L1939.36 1835.92L1939.36 1844.22L1933.74 1848.37L1928.12 1844.22L1928.12 1835.92ZM1880.59 1879.77L1886.20 1883.92L1886.20 1892.22L1880.59 1896.37L1874.97 1892.22L1874.97 1883.92ZM1774.29 2143.77L1779.90 2147.92L1779.90 2156.22L1774.29 2160.37L1768.67 2156.22L1768.67 2147.92ZM1747.71 2155.77L1753.33 2159.92L1753.33 2168.22L1747.71 2172.37L1742.10 2168.22L1742.10 2159.92Z"/>
<path fill="#09061e" d="M1896.53 1843.77L1902.15 1847.92L1902.15 1856.22L1896.53 1860.37L1890.92 1856.22L1890.92 1847.92ZM1880.59 1855.77L1886.20 1859.92L1886.20 1868.22L1880.59 1872.37L1874.97 1868.22L1874.97 1859.92ZM1869.96 2047.77L1875.58 2051.92L1875.58 2060.22L1869.96 2064.37L1864.35 2060.22L1864.35 2051.92ZM1705.19 2059.77L1710.81 2063.92L1710.81 2072.22L1705.19 2076.37L1699.58 2072.22L1699.58 2063.92Z"/>
<path fill="#03020e" d="M1838.07 1855.77L1843.68 1859.92L1843.68 1868.22L1838.07 1872.37L1832.45 1868.22L1832.45 1859.92ZM1800.87 1891.77L1806.48 1895.92L1806.48 1904.22L1800.87 1908.37L1795.25 1904.22L1795.25 1895.92ZM1774.29 1927.77L1779.90 1931.92L1779.90 1940.22L1774.29 1944.37L1768.67 1940.22L1768.67 1931.92ZM1917.80 2011.77L1923.41 2015.92L1923.41 2024.22L1917.80 2028.37L1912.18 2024.22L1912.18 2015.92ZM1768.97 2203.77L1774.59 2207.92L1774.59 2216.22L1768.97 2220.37L1763.36 2216.22L1763.36 2207.92Z"/>
<path fill="#08051a" d="M1859.33 1855.77L1864.94 1859.92L1864.94 1868.22L1859.33 1872.37L1853.71 1868.22L1853.71 1859.92ZM1768.97 1963.77L1774.59 1967.92L1774.59 1976.22L1768.97 1980.37L1763.36 1976.22L1763.36 1967.92ZM1859.33 2071.77L1864.94 2075.92L1864.94 2084.22L1859.33 2088.37L1853.71 2084.22L1853.71 2075.92ZM1816.81 2119.77L1822.42 2123.92L1822.42 2132.22L1816.81 2136.37L1811.19 2132.22L1811.19 2123.92ZM1662.67 2131.77L1668.29 2135.92L1668.29 2144.22L1662.67 2148.37L1657.06 2144.22L1657.06 2135.92ZM1667.99 2239.77L1673.61 2243.92L1673.61 2252.22L1667.99 2256.37L1662.38 2252.22L1662.38 2243.92Z"/>
<path fill="#0a0721" d="M1869.96 1855.77L1875.58 1859.92L1875.58 1868.22L1869.96 1872.37L1864.35 1868.22L1864.35 1859.92ZM1800.87 1939.77L1806.48 1943.92L1806.48 1952.22L1800.87 1956.37L1795.25 1952.22L1795.25 1943.92ZM1891.22 2023.77L1896.83 2027.92L1896.83 2036.22L1891.22 2040.37L1885.60 2036.22L1885.60 2027.92ZM1694.57 2083.77L1700.18 2087.92L1700.18 2096.22L1694.57 2100.37L1688.95 2096.22L1688.95 2087.92ZM1832.76 2107.77L1838.37 2111.92L1838.37 2120.22L1832.76 2124.37L1827.14 2120.22L1827.14 2111.92ZM1678.62 2119.77L1684.23 2123.92L1684.23 2132.22L1678.62 2136.37L1673.00 2132.22L1673.00 2123.92ZM1726.45 2203.77L1732.07 2207.92L1732.07 2216.22L1726.45 2220.37L1720.84 2216.22L1720.84 2207.92Z"/>
<path fill="#1a0a3f" d="M1891.22 1855.77L1896.83 1859.92L1896.83 1868.22L1891.22 1872.37L1885.60 1868.22L1885.60 1859.92ZM1901.85 1855.77L1907.46 1859.92L1907.46 1868.22L1901.85 1872.37L1896.23 1868.22L1896.23 1859.92ZM1683.93 2155.77L1689.55 2159.92L1689.55 2168.22L1683.93 2172.37L1678.32 2168.22L1678.32 2159.92Z"/>
<path fill="#1e0b44" d="M1912.48 1855.77L1918.10 1859.92L1918.10 1868.22L1912.48 1872.37L1906.87 1868.22L1906.87 1859.92ZM1694.57 2155.77L1700.18 2159.92L1700.18 2168.22L1694.57 2172.37L1688.95 2168.22L1688.95 2159.92Z"/>
<path fill="#170a39" d="M1933.74 1855.77L1939.36 1859.92L1939.36 1868.22L1933.74 1872.37L1928.12 1868.22L1928.12 1859.92ZM1901.85 1879.77L1907.46 1883.92L1907.46 1892.22L1901.85 1896.37L1896.23 1892.22L1896.23 1883.92ZM1726.45 2083.77L1732.07 2087.92L1732.07 2096.22L1726.45 2100.37L1720.84 2096.22L1720.84 2087.92Z"/>
<path fill="#04030f" d="M1832.76 1867.77L1838.37 1871.92L1838.37 1880.22L1832.76 1884.37L1827.14 1880.22L1827.14 1871.92ZM1790.23 1915.77L1795.85 1919.92L1795.85 1928.22L1790.23 1932.37L1784.62 1928.22L1784.62 1919.92ZM1763.66 1951.77L1769.27 1955.92L1769.27 1964.22L1763.66 1968.37L1758.04 1964.22L1758.04 1955.92ZM1705.19 2035.77L1710.81 2039.92L1710.81 2048.22L1705.19 2052.37L1699.58 2048.22L1699.58 2039.92ZM1875.28 2083.77L1880.89 2087.92L1880.89 2096.22L1875.28 2100.37L1869.66 2096.22L1869.66 2087.92ZM1854.01 2107.77L1859.63 2111.92L1859.63 2120.22L1854.01 2124.37L1848.40 2120.22L1848.40 2111.92ZM1614.84 2263.77L1620.45 2267.92L1620.45 2276.22L1614.84 2280.37L1609.22 2276.22L1609.22 2267.92Z"/>
<path fill="#070519" d="M1854.01 1867.77L1859.63 1871.92L1859.63 1880.22L1854.01 1884.37L1848.40 1880.22L1848.40 1871.92ZM1822.12 1891.77L1827.74 1895.92L1827.74 1904.22L1822.12 1908.37L1816.51 1904.22L1816.51 1895.92Z"/>
<path fill="#11092f" d="M1864.64 1867.77L1870.26 1871.92L1870.26 1880.22L1864.64 1884.37L1859.03 1880.22L1859.03 1871.92ZM1721.14 2047.77L1726.75 2051.92L1726.75 2060.22L1721.14 2064.37L1715.52 2060.22L1715.52 2051.92ZM1721.14 2071.77L1726.75 2075.92L1726.75 2084.22L1721.14 2088.37L1715.52 2084.22L1715.52 2075.92ZM1822.12 2083.77L1827.74 2087.92L1827.74 2096.22L1822.12 2100.37L1816.51 2096.22L1816.51 2087.92ZM1758.35 2155.77L1763.96 2159.92L1763.96 2168.22L1758.35 2172.37L1752.73 2168.22L1752.73 2159.92ZM1662.67 2179.77L1668.29 2183.92L1668.29 2192.22L1662.67 2196.37L1657.06 2192.22L1657.06 2183.92Z"/>
<path fill="#11092e" d="M1875.28 1867.77L1880.89 1871.92L1880.89 1880.22L1875.28 1884.37L1869.66 1880.22L1869.66 1871.92ZM1694.57 2131.77L1700.18 2135.92L1700.18 2144.22L1694.57 2148.37L1688.95 2144.22L1688.95 2135.92Z"/>
<path fill="#130933" d="M1885.90 1867.77L1891.52 1871.92L1891.52 1880.22L1885.90 1884.37L1880.29 1880.22L1880.29 1871.92Z"/>
<path fill="#140934" d="M1896.53 1867.77L1902.15 1871.92L1902.15 1880.22L1896.53 1884.37L1890.92 1880.22L1890.92 1871.92ZM1891.22 1999.77L1896.83 2003.92L1896.83 2012.22L1891.22 2016.37L1885.60 2012.22L1885.60 2003.92ZM1673.31 2179.77L1678.92 2183.92L1678.92 2192.22L1673.31 2196.37L1667.69 2192.22L1667.69 2183.92ZM1683.93 2203.77L1689.55 2207.92L1689.55 2216.22L1683.93 2220.37L1678.32 2216.22L1678.32 2207.92Z"/>
<path fill="#260c51" d="M1917.80 1867.77L1923.41 1871.92L1923.41 1880.22L1917.80 1884.37L1912.18 1880.22L1912.18 1871.92ZM1742.40 2095.77L1748.01 2099.92L1748.01 2108.22L1742.40 2112.37L1736.78 2108.22L1736.78 2099.92ZM1784.92 2095.77L1790.53 2099.92L1790.53 2108.22L1784.92 2112.37L1779.30 2108.22L1779.30 2099.92Z"/>
<path fill="#7f1e6c" d="M1859.33 1879.77L1864.94 1883.92L1864.94 1892.22L1859.33 1896.37L1853.71 1892.22L1853.71 1883.92ZM1832.76 1963.77L1838.37 1967.92L1838.37 1976.22L1832.76 1980.37L1827.14 1976.22L1827.14 1967.92ZM1843.38 1963.77L1849.00 1967.92L1849.00 1976.22L1843.38 1980.37L1837.77 1976.22L1837.77 1967.92ZM1854.01 1987.77L1859.63 1991.92L1859.63 2000.22L1854.01 2004.37L1848.40 2000.22L1848.40 1991.92ZM1768.97 2035.77L1774.59 2039.92L1774.59 2048.22L1768.97 2052.37L1763.36 2048.22L1763.36 2039.92ZM1806.18 2047.77L1811.79 2051.92L1811.79 2060.22L1806.18 2064.37L1800.56 2060.22L1800.56 2051.92ZM1758.35 2083.77L1763.96 2087.92L1763.96 2096.22L1758.35 2100.37L1752.73 2096.22L1752.73 2087.92ZM1806.18 2095.77L1811.79 2099.92L1811.79 2108.22L1806.18 2112.37L1800.56 2108.22L1800.56 2099.92ZM1843.38 2107.77L1849.00 2111.92L1849.00 2120.22L1843.38 2124.37L1837.77 2120.22L1837.77 2111.92Z"/>
<path fill="#190a3d" d="M1869.96 1879.77L1875.58 1883.92L1875.58 1892.22L1869.96 1896.37L1864.35 1892.22L1864.35 1883.92ZM1827.44 2071.77L1833.06 2075.92L1833.06 2084.22L1827.44 2088.37L1821.83 2084.22L1821.83 2075.92ZM1790.23 2131.77L1795.85 2135.92L1795.85 2144.22L1790.23 2148.37L1784.62 2144.22L1784.62 2135.92Z"/>
<path fill="#310b59" d="M1891.22 1879.77L1896.83 1883.92L1896.83 1892.22L1891.22 1896.37L1885.60 1892.22L1885.60 1883.92ZM1726.45 2131.77L1732.07 2135.92L1732.07 2144.22L1726.45 2148.37L1720.84 2144.22L1720.84 2135.92Z"/>
<path fill="#300b59" d="M1912.48 1879.77L1918.10 1883.92L1918.10 1892.22L1912.48 1896.37L1906.87 1892.22L1906.87 1883.92ZM1917.80 1915.77L1923.41 1919.92L1923.41 1928.22L1917.80 1932.37L1912.18 1928.22L1912.18 1919.92ZM1832.76 1939.77L1838.37 1943.92L1838.37 1952.22L1832.76 1956.37L1827.14 1952.22L1827.14 1943.92Z"/>
<path fill="#210c4a" d="M1933.74 1879.77L1939.36 1883.92L1939.36 1892.22L1933.74 1896.37L1928.12 1892.22L1928.12 1883.92ZM1832.76 1915.77L1838.37 1919.92L1838.37 1928.22L1832.76 1932.37L1827.14 1928.22L1827.14 1919.92Z"/>
<path fill="#04020e" d="M1811.49 1891.77L1817.11 1895.92L1817.11 1904.22L1811.49 1908.37L1805.88 1904.22L1805.88 1895.92ZM1753.03 1951.77L1758.64 1955.92L1758.64 1964.22L1753.03 1968.37L1747.41 1964.22L1747.41 1955.92ZM1806.18 2167.77L1811.79 2171.92L1811.79 2180.22L1806.18 2184.37L1800.56 2180.22L1800.56 2171.92Z"/>
<path fill="#10092d" d="M1843.38 1891.77L1849.00 1895.92L1849.00 1904.22L1843.38 1908.37L1837.77 1904.22L1837.77 1895.92ZM1811.49 1939.77L1817.11 1943.92L1817.11 1952.22L1811.49 1956.37L1805.88 1952.22L1805.88 1943.92ZM1907.16 1987.77L1912.78 1991.92L1912.78 2000.22L1907.16 2004.37L1901.55 2000.22L1901.55 1991.92ZM1854.01 2059.77L1859.63 2063.92L1859.63 2072.22L1854.01 2076.37L1848.40 2072.22L1848.40 2063.92Z"/>
<path fill="#1b0b40" d="M1854.01 1891.77L1859.63 1895.92L1859.63 1904.22L1854.01 1908.37L1848.40 1904.22L1848.40 1895.92ZM1822.12 1939.77L1827.74 1943.92L1827.74 1952.22L1822.12 1956.37L1816.51 1952.22L1816.51 1943.92Z"/>
<path fill="#210b4a" d="M1864.64 1891.77L1870.26 1895.92L1870.26 1904.22L1864.64 1908.37L1859.03 1904.22L1859.03 1895.92ZM1907.16 1891.77L1912.78 1895.92L1912.78 1904.22L1907.16 1908.37L1901.55 1904.22L1901.55 1895.92ZM1737.09 2059.77L1742.70 2063.92L1742.70 2072.22L1737.09 2076.37L1731.47 2072.22L1731.47 2063.92ZM1795.55 2119.77L1801.16 2123.92L1801.16 2132.22L1795.55 2136.37L1789.93 2132.22L1789.93 2123.92Z"/>
<path fill="#220c4b" d="M1875.28 1891.77L1880.89 1895.92L1880.89 1904.22L1875.28 1908.37L1869.66 1904.22L1869.66 1895.92ZM1928.42 1891.77L1934.04 1895.92L1934.04 1904.22L1928.42 1908.37L1922.81 1904.22L1922.81 1895.92ZM1917.80 1939.77L1923.41 1943.92L1923.41 1952.22L1917.80 1956.37L1912.18 1952.22L1912.18 1943.92ZM1880.59 1999.77L1886.20 2003.92L1886.20 2012.22L1880.59 2016.37L1874.97 2012.22L1874.97 2003.92ZM1875.28 2011.77L1880.89 2015.92L1880.89 2024.22L1875.28 2028.37L1869.66 2024.22L1869.66 2015.92ZM1737.09 2155.77L1742.70 2159.92L1742.70 2168.22L1737.09 2172.37L1731.47 2168.22L1731.47 2159.92Z"/>
<path fill="#180a3a" d="M1885.90 1891.77L1891.52 1895.92L1891.52 1904.22L1885.90 1908.37L1880.29 1904.22L1880.29 1895.92ZM1784.92 2119.77L1790.53 2123.92L1790.53 2132.22L1784.92 2136.37L1779.30 2132.22L1779.30 2123.92ZM1768.97 2155.77L1774.59 2159.92L1774.59 2168.22L1768.97 2172.37L1763.36 2168.22L1763.36 2159.92Z"/>
<path fill="#330b5b" d="M1896.53 1891.77L1902.15 1895.92L1902.15 1904.22L1896.53 1908.37L1890.92 1904.22L1890.92 1895.92ZM1869.96 1903.77L1875.58 1907.92L1875.58 1916.22L1869.96 1920.37L1864.35 1916.22L1864.35 1907.92Z"/>
<path fill="#2c0b55" d="M1917.80 1891.77L1923.41 1895.92L1923.41 1904.22L1917.80 1908.37L1912.18 1904.22L1912.18 1895.92Z"/>
<path fill="#040311" d="M1795.55 1903.77L1801.16 1907.92L1801.16 1916.22L1795.55 1920.37L1789.93 1916.22L1789.93 1907.92ZM1795.55 2167.77L1801.16 2171.92L1801.16 2180.22L1795.55 2184.37L1789.93 2180.22L1789.93 2171.92Z"/>
<path fill="#09061d" d="M1816.81 1903.77L1822.42 1907.92L1822.42 1916.22L1816.81 1920.37L1811.19 1916.22L1811.19 1907.92ZM1678.62 2095.77L1684.23 2099.92L1684.23 2108.22L1678.62 2112.37L1673.00 2108.22L1673.00 2099.92ZM1678.62 2215.77L1684.23 2219.92L1684.23 2228.22L1678.62 2232.37L1673.00 2228.22L1673.00 2219.92ZM1673.31 2227.77L1678.92 2231.92L1678.92 2240.22L1673.31 2244.37L1667.69 2240.22L1667.69 2231.92Z"/>
<path fill="#1a0a3d" d="M1838.07 1903.77L1843.68 1907.92L1843.68 1916.22L1838.07 1920.37L1832.45 1916.22L1832.45 1907.92Z"/>
<path fill="#250c50" d="M1848.70 1903.77L1854.31 1907.92L1854.31 1916.22L1848.70 1920.37L1843.08 1916.22L1843.08 1907.92ZM1816.81 1951.77L1822.42 1955.92L1822.42 1964.22L1816.81 1968.37L1811.19 1964.22L1811.19 1955.92ZM1854.01 2011.77L1859.63 2015.92L1859.63 2024.22L1854.01 2028.37L1848.40 2024.22L1848.40 2015.92ZM1699.88 2119.77L1705.49 2123.92L1705.49 2132.22L1699.88 2136.37L1694.26 2132.22L1694.26 2123.92Z"/>
<path fill="#270c52" d="M1859.33 1903.77L1864.94 1907.92L1864.94 1916.22L1859.33 1920.37L1853.71 1916.22L1853.71 1907.92Z"/>
<path fill="#350b5d" d="M1880.59 1903.77L1886.20 1907.92L1886.20 1916.22L1880.59 1920.37L1874.97 1916.22L1874.97 1907.92Z"/>
<path fill="#240c4f" d="M1891.22 1903.77L1896.83 1907.92L1896.83 1916.22L1891.22 1920.37L1885.60 1916.22L1885.60 1907.92ZM1806.18 1951.77L1811.79 1955.92L1811.79 1964.22L1806.18 1968.37L1800.56 1964.22L1800.56 1955.92ZM1885.90 1987.77L1891.52 1991.92L1891.52 2000.22L1885.90 2004.37L1880.29 2000.22L1880.29 1991.92ZM1753.03 2119.77L1758.64 2123.92L1758.64 2132.22L1753.03 2136.37L1747.41 2132.22L1747.41 2123.92Z"/>
<path fill="#430a68" d="M1901.85 1903.77L1907.46 1907.92L1907.46 1916.22L1901.85 1920.37L1896.23 1916.22L1896.23 1907.92Z"/>
<path fill="#2b0c54" d="M1912.48 1903.77L1918.10 1907.92L1918.10 1916.22L1912.48 1920.37L1906.87 1916.22L1906.87 1907.92Z"/>
<path fill="#160a36" d="M1933.74 1903.77L1939.36 1907.92L1939.36 1916.22L1933.74 1920.37L1928.12 1916.22L1928.12 1907.92Z"/>
<path fill="#0a0720" d="M1811.49 1915.77L1817.11 1919.92L1817.11 1928.22L1811.49 1932.37L1805.88 1928.22L1805.88 1919.92ZM1838.07 2095.77L1843.68 2099.92L1843.68 2108.22L1838.07 2112.37L1832.45 2108.22L1832.45 2099.92ZM1715.83 2203.77L1721.44 2207.92L1721.44 2216.22L1715.83 2220.37L1710.21 2216.22L1710.21 2207.92ZM1657.36 2215.77L1662.97 2219.92L1662.97 2228.22L1657.36 2232.37L1651.74 2228.22L1651.74 2219.92ZM1667.99 2215.77L1673.61 2219.92L1673.61 2228.22L1667.99 2232.37L1662.38 2228.22L1662.38 2219.92Z"/>
<path fill="#150935" d="M1822.12 1915.77L1827.74 1919.92L1827.74 1928.22L1822.12 1932.37L1816.51 1928.22L1816.51 1919.92ZM1896.53 1987.77L1902.15 1991.92L1902.15 2000.22L1896.53 2004.37L1890.92 2000.22L1890.92 1991.92ZM1737.09 2179.77L1742.70 2183.92L1742.70 2192.22L1737.09 2196.37L1731.47 2192.22L1731.47 2183.92Z"/>
<path fill="#2f0b58" d="M1843.38 1915.77L1849.00 1919.92L1849.00 1928.22L1843.38 1932.37L1837.77 1928.22L1837.77 1919.92ZM1901.85 1927.77L1907.46 1931.92L1907.46 1940.22L1901.85 1944.37L1896.23 1940.22L1896.23 1931.92ZM1880.59 1951.77L1886.20 1955.92L1886.20 1964.22L1880.59 1968.37L1874.97 1964.22L1874.97 1955.92ZM1742.40 2119.77L1748.01 2123.92L1748.01 2132.22L1742.40 2136.37L1736.78 2132.22L1736.78 2123.92ZM1731.77 2143.77L1737.38 2147.92L1737.38 2156.22L1731.77 2160.37L1726.15 2156.22L1726.15 2147.92Z"/>
<path fill="#200b48" d="M1854.01 1915.77L1859.63 1919.92L1859.63 1928.22L1854.01 1932.37L1848.40 1928.22L1848.40 1919.92ZM1827.44 1951.77L1833.06 1955.92L1833.06 1964.22L1827.44 1968.37L1821.83 1964.22L1821.83 1955.92ZM1758.35 2011.77L1763.96 2015.92L1763.96 2024.22L1758.35 2028.37L1752.73 2024.22L1752.73 2015.92ZM1699.88 2143.77L1705.49 2147.92L1705.49 2156.22L1699.88 2160.37L1694.26 2156.22L1694.26 2147.92Z"/>
<path fill="#280c53" d="M1864.64 1915.77L1870.26 1919.92L1870.26 1928.22L1864.64 1932.37L1859.03 1928.22L1859.03 1919.92ZM1800.87 1963.77L1806.48 1967.92L1806.48 1976.22L1800.87 1980.37L1795.25 1976.22L1795.25 1967.92Z"/>
<path fill="#3d0a64" d="M1875.28 1915.77L1880.89 1919.92L1880.89 1928.22L1875.28 1932.37L1869.66 1928.22L1869.66 1919.92ZM1880.59 1975.77L1886.20 1979.92L1886.20 1988.22L1880.59 1992.37L1874.97 1988.22L1874.97 1979.92ZM1843.38 1987.77L1849.00 1991.92L1849.00 2000.22L1843.38 2004.37L1837.77 2000.22L1837.77 1991.92ZM1795.55 1999.77L1801.16 2003.92L1801.16 2012.22L1795.55 2016.37L1789.93 2012.22L1789.93 2003.92ZM1790.23 2011.77L1795.85 2015.92L1795.85 2024.22L1790.23 2028.37L1784.62 2024.22L1784.62 2015.92Z"/>
<path fill="#470b69" d="M1885.90 1915.77L1891.52 1919.92L1891.52 1928.22L1885.90 1932.37L1880.29 1928.22L1880.29 1919.92ZM1875.28 1963.77L1880.89 1967.92L1880.89 1976.22L1875.28 1980.37L1869.66 1976.22L1869.66 1967.92ZM1747.71 2059.77L1753.33 2063.92L1753.33 2072.22L1747.71 2076.37L1742.10 2072.22L1742.10 2063.92Z"/>
<path fill="#2b0c55" d="M1896.53 1915.77L1902.15 1919.92L1902.15 1928.22L1896.53 1932.37L1890.92 1928.22L1890.92 1919.92ZM1843.38 2035.77L1849.00 2039.92L1849.00 2048.22L1843.38 2052.37L1837.77 2048.22L1837.77 2039.92ZM1800.87 2083.77L1806.48 2087.92L1806.48 2096.22L1800.87 2100.37L1795.25 2096.22L1795.25 2087.92ZM1758.35 2107.77L1763.96 2111.92L1763.96 2120.22L1758.35 2124.37L1752.73 2120.22L1752.73 2111.92ZM1721.14 2143.77L1726.75 2147.92L1726.75 2156.22L1721.14 2160.37L1715.52 2156.22L1715.52 2147.92Z"/>
<path fill="#09061c" d="M1795.55 1927.77L1801.16 1931.92L1801.16 1940.22L1795.55 1944.37L1789.93 1940.22L1789.93 1931.92ZM1790.23 1939.77L1795.85 1943.92L1795.85 1952.22L1790.23 1956.37L1784.62 1952.22L1784.62 1943.92ZM1854.01 2083.77L1859.63 2087.92L1859.63 2096.22L1854.01 2100.37L1848.40 2096.22L1848.40 2087.92Z"/>
<path fill="#120930" d="M1806.18 1927.77L1811.79 1931.92L1811.79 1940.22L1806.18 1944.37L1800.56 1940.22L1800.56 1931.92ZM1816.81 1927.77L1822.42 1931.92L1822.42 1940.22L1816.81 1944.37L1811.19 1940.22L1811.19 1931.92ZM1869.96 2023.77L1875.58 2027.92L1875.58 2036.22L1869.96 2040.37L1864.35 2036.22L1864.35 2027.92ZM1699.88 2095.77L1705.49 2099.92L1705.49 2108.22L1699.88 2112.37L1694.26 2108.22L1694.26 2099.92Z"/>
<path fill="#1f0b46" d="M1827.44 1927.77L1833.06 1931.92L1833.06 1940.22L1827.44 1944.37L1821.83 1940.22L1821.83 1931.92Z"/>
<path fill="#2e0b57" d="M1838.07 1927.77L1843.68 1931.92L1843.68 1940.22L1838.07 1944.37L1832.45 1940.22L1832.45 1931.92ZM1742.40 2047.77L1748.01 2051.92L1748.01 2060.22L1742.40 2064.37L1736.78 2060.22L1736.78 2051.92ZM1742.40 2143.77L1748.01 2147.92L1748.01 2156.22L1742.40 2160.37L1736.78 2156.22L1736.78 2147.92Z"/>
<path fill="#330b5c" d="M1848.70 1927.77L1854.31 1931.92L1854.31 1940.22L1848.70 1944.37L1843.08 1940.22L1843.08 1931.92ZM1843.38 1939.77L1849.00 1943.92L1849.00 1952.22L1843.38 1956.37L1837.77 1952.22L1837.77 1943.92ZM1864.64 1939.77L1870.26 1943.92L1870.26 1952.22L1864.64 1956.37L1859.03 1952.22L1859.03 1943.92Z"/>
<path fill="#4e0e6b" d="M1859.33 1927.77L1864.94 1931.92L1864.94 1940.22L1859.33 1944.37L1853.71 1940.22L1853.71 1931.92Z"/>
<path fill="#320b5a" d="M1869.96 1927.77L1875.58 1931.92L1875.58 1940.22L1869.96 1944.37L1864.35 1940.22L1864.35 1931.92Z"/>
<path fill="#2a0c54" d="M1880.59 1927.77L1886.20 1931.92L1886.20 1940.22L1880.59 1944.37L1874.97 1940.22L1874.97 1931.92ZM1715.83 2131.77L1721.44 2135.92L1721.44 2144.22L1715.83 2148.37L1710.21 2144.22L1710.21 2135.92Z"/>
<path fill="#470c69" d="M1891.22 1927.77L1896.83 1931.92L1896.83 1940.22L1891.22 1944.37L1885.60 1940.22L1885.60 1931.92ZM1790.23 2083.77L1795.85 2087.92L1795.85 2096.22L1790.23 2100.37L1784.62 2096.22L1784.62 2087.92Z"/>
<path fill="#1c0b41" d="M1912.48 1927.77L1918.10 1931.92L1918.10 1940.22L1912.48 1944.37L1906.87 1940.22L1906.87 1931.92ZM1901.85 1975.77L1907.46 1979.92L1907.46 1988.22L1901.85 1992.37L1896.23 1988.22L1896.23 1979.92ZM1763.66 2143.77L1769.27 2147.92L1769.27 2156.22L1763.66 2160.37L1758.04 2156.22L1758.04 2147.92Z"/>
<path fill="#420a68" d="M1854.01 1939.77L1859.63 1943.92L1859.63 1952.22L1854.01 1956.37L1848.40 1952.22L1848.40 1943.92ZM1896.53 1939.77L1902.15 1943.92L1902.15 1952.22L1896.53 1956.37L1890.92 1952.22L1890.92 1943.92ZM1779.61 2035.77L1785.22 2039.92L1785.22 2048.22L1779.61 2052.37L1773.99 2048.22L1773.99 2039.92ZM1806.18 2071.77L1811.79 2075.92L1811.79 2084.22L1806.18 2088.37L1800.56 2084.22L1800.56 2075.92ZM1763.66 2095.77L1769.27 2099.92L1769.27 2108.22L1763.66 2112.37L1758.04 2108.22L1758.04 2099.92ZM1726.45 2107.77L1732.07 2111.92L1732.07 2120.22L1726.45 2124.37L1720.84 2120.22L1720.84 2111.92ZM1737.09 2107.77L1742.70 2111.92L1742.70 2120.22L1737.09 2124.37L1731.47 2120.22L1731.47 2111.92ZM1768.97 2107.77L1774.59 2111.92L1774.59 2120.22L1768.97 2124.37L1763.36 2120.22L1763.36 2111.92ZM1737.09 2131.77L1742.70 2135.92L1742.70 2144.22L1737.09 2148.37L1731.47 2144.22L1731.47 2135.92Z"/>
<path fill="#490c6a" d="M1875.28 1939.77L1880.89 1943.92L1880.89 1952.22L1875.28 1956.37L1869.66 1952.22L1869.66 1943.92ZM1838.07 1951.77L1843.68 1955.92L1843.68 1964.22L1838.07 1968.37L1832.45 1964.22L1832.45 1955.92ZM1859.33 1951.77L1864.94 1955.92L1864.94 1964.22L1859.33 1968.37L1853.71 1964.22L1853.71 1955.92Z"/>
<path fill="#4d0d6a" d="M1885.90 1939.77L1891.52 1943.92L1891.52 1952.22L1885.90 1956.37L1880.29 1952.22L1880.29 1943.92Z"/>
<path fill="#09061f" d="M1784.92 1951.77L1790.53 1955.92L1790.53 1964.22L1784.92 1968.37L1779.30 1964.22L1779.30 1955.92ZM1683.93 2107.77L1689.55 2111.92L1689.55 2120.22L1683.93 2124.37L1678.32 2120.22L1678.32 2111.92Z"/>
<path fill="#190a3c" d="M1795.55 1951.77L1801.16 1955.92L1801.16 1964.22L1795.55 1968.37L1789.93 1964.22L1789.93 1955.92ZM1790.23 1963.77L1795.85 1967.92L1795.85 1976.22L1790.23 1980.37L1784.62 1976.22L1784.62 1967.92ZM1721.14 2167.77L1726.75 2171.92L1726.75 2180.22L1721.14 2184.37L1715.52 2180.22L1715.52 2171.92ZM1683.93 2179.77L1689.55 2183.92L1689.55 2192.22L1683.93 2196.37L1678.32 2192.22L1678.32 2183.92ZM1721.14 2191.77L1726.75 2195.92L1726.75 2204.22L1721.14 2208.37L1715.52 2204.22L1715.52 2195.92Z"/>
<path fill="#5f136e" d="M1848.70 1951.77L1854.31 1955.92L1854.31 1964.22L1848.70 1968.37L1843.08 1964.22L1843.08 1955.92ZM1774.29 2047.77L1779.90 2051.92L1779.90 2060.22L1774.29 2064.37L1768.67 2060.22L1768.67 2051.92ZM1800.87 2059.77L1806.48 2063.92L1806.48 2072.22L1800.87 2076.37L1795.25 2072.22L1795.25 2063.92Z"/>
<path fill="#460b69" d="M1869.96 1951.77L1875.58 1955.92L1875.58 1964.22L1869.96 1968.37L1864.35 1964.22L1864.35 1955.92ZM1864.64 1987.77L1870.26 1991.92L1870.26 2000.22L1864.64 2004.37L1859.03 2000.22L1859.03 1991.92ZM1875.28 1987.77L1880.89 1991.92L1880.89 2000.22L1875.28 2004.37L1869.66 2000.22L1869.66 1991.92Z"/>
<path fill="#220c4c" d="M1891.22 1951.77L1896.83 1955.92L1896.83 1964.22L1891.22 1968.37L1885.60 1964.22L1885.60 1955.92ZM1811.49 1963.77L1817.11 1967.92L1817.11 1976.22L1811.49 1980.37L1805.88 1976.22L1805.88 1967.92ZM1795.55 1975.77L1801.16 1979.92L1801.16 1988.22L1795.55 1992.37L1789.93 1988.22L1789.93 1979.92Z"/>
<path fill="#290c53" d="M1901.85 1951.77L1907.46 1955.92L1907.46 1964.22L1901.85 1968.37L1896.23 1964.22L1896.23 1955.92ZM1832.76 2059.77L1838.37 2063.92L1838.37 2072.22L1832.76 2076.37L1827.14 2072.22L1827.14 2063.92ZM1753.03 2071.77L1758.64 2075.92L1758.64 2084.22L1753.03 2088.37L1747.41 2084.22L1747.41 2075.92Z"/>
<path fill="#1d0b43" d="M1912.48 1951.77L1918.10 1955.92L1918.10 1964.22L1912.48 1968.37L1906.87 1964.22L1906.87 1955.92ZM1763.66 1999.77L1769.27 2003.92L1769.27 2012.22L1763.66 2016.37L1758.04 2012.22L1758.04 2003.92ZM1758.35 2131.77L1763.96 2135.92L1763.96 2144.22L1758.35 2148.37L1752.73 2144.22L1752.73 2135.92ZM1768.97 2131.77L1774.59 2135.92L1774.59 2144.22L1768.97 2148.37L1763.36 2144.22L1763.36 2135.92ZM1715.83 2179.77L1721.44 2183.92L1721.44 2192.22L1715.83 2196.37L1710.21 2192.22L1710.21 2183.92Z"/>
<path fill="#0e0829" d="M1779.61 1963.77L1785.22 1967.92L1785.22 1976.22L1779.61 1980.37L1773.99 1976.22L1773.99 1967.92Z"/>
<path fill="#480c69" d="M1822.12 1963.77L1827.74 1967.92L1827.74 1976.22L1822.12 1980.37L1816.51 1976.22L1816.51 1967.92ZM1747.71 2083.77L1753.33 2087.92L1753.33 2096.22L1747.71 2100.37L1742.10 2096.22L1742.10 2087.92Z"/>
<path fill="#62146e" d="M1854.01 1963.77L1859.63 1967.92L1859.63 1976.22L1854.01 1980.37L1848.40 1976.22L1848.40 1967.92ZM1800.87 2035.77L1806.48 2039.92L1806.48 2048.22L1800.87 2052.37L1795.25 2048.22L1795.25 2039.92Z"/>
<path fill="#530f6c" d="M1864.64 1963.77L1870.26 1967.92L1870.26 1976.22L1864.64 1980.37L1859.03 1976.22L1859.03 1967.92ZM1800.87 1987.77L1806.48 1991.92L1806.48 2000.22L1800.87 2004.37L1795.25 2000.22L1795.25 1991.92Z"/>
<path fill="#390b60" d="M1885.90 1963.77L1891.52 1967.92L1891.52 1976.22L1885.90 1980.37L1880.29 1976.22L1880.29 1967.92Z"/>
<path fill="#380b60" d="M1896.53 1963.77L1902.15 1967.92L1902.15 1976.22L1896.53 1980.37L1890.92 1976.22L1890.92 1967.92ZM1758.35 2035.77L1763.96 2039.92L1763.96 2048.22L1758.35 2052.37L1752.73 2048.22L1752.73 2039.92ZM1795.55 2071.77L1801.16 2075.92L1801.16 2084.22L1795.55 2088.37L1789.93 2084.22L1789.93 2075.92Z"/>
<path fill="#0c0827" d="M1917.80 1963.77L1923.41 1967.92L1923.41 1976.22L1917.80 1980.37L1912.18 1976.22L1912.18 1967.92ZM1731.77 2023.77L1737.38 2027.92L1737.38 2036.22L1731.77 2040.37L1726.15 2036.22L1726.15 2027.92ZM1779.61 2155.77L1785.22 2159.92L1785.22 2168.22L1779.61 2172.37L1773.99 2168.22L1773.99 2159.92ZM1758.35 2179.77L1763.96 2183.92L1763.96 2192.22L1758.35 2196.37L1752.73 2192.22L1752.73 2183.92ZM1731.77 2191.77L1737.38 2195.92L1737.38 2204.22L1731.77 2208.37L1726.15 2204.22L1726.15 2195.92Z"/>
<path fill="#0b0824" d="M1928.42 1963.77L1934.04 1967.92L1934.04 1976.22L1928.42 1980.37L1922.81 1976.22L1922.81 1967.92ZM1667.99 2167.77L1673.61 2171.92L1673.61 2180.22L1667.99 2184.37L1662.38 2180.22L1662.38 2171.92ZM1774.29 2167.77L1779.90 2171.92L1779.90 2180.22L1774.29 2184.37L1768.67 2180.22L1768.67 2171.92Z"/>
<path fill="#0b0724" d="M1763.66 1975.77L1769.27 1979.92L1769.27 1988.22L1763.66 1992.37L1758.04 1988.22L1758.04 1979.92ZM1896.53 2011.77L1902.15 2015.92L1902.15 2024.22L1896.53 2028.37L1890.92 2024.22L1890.92 2015.92ZM1822.12 2107.77L1827.74 2111.92L1827.74 2120.22L1822.12 2124.37L1816.51 2120.22L1816.51 2111.92ZM1705.19 2203.77L1710.81 2207.92L1710.81 2216.22L1705.19 2220.37L1699.58 2216.22L1699.58 2207.92Z"/>
<path fill="#150a36" d="M1774.29 1975.77L1779.90 1979.92L1779.90 1988.22L1774.29 1992.37L1768.67 1988.22L1768.67 1979.92ZM1747.71 2035.77L1753.33 2039.92L1753.33 2048.22L1747.71 2052.37L1742.10 2048.22L1742.10 2039.92Z"/>
<path fill="#200b49" d="M1784.92 1975.77L1790.53 1979.92L1790.53 1988.22L1784.92 1992.37L1779.30 1988.22L1779.30 1979.92ZM1784.92 1999.77L1790.53 2003.92L1790.53 2012.22L1784.92 2016.37L1779.30 2012.22L1779.30 2003.92Z"/>
<path fill="#8b2369" d="M1806.18 1975.77L1811.79 1979.92L1811.79 1988.22L1806.18 1992.37L1800.56 1988.22L1800.56 1979.92Z"/>
<path fill="#4a0c6a" d="M1816.81 1975.77L1822.42 1979.92L1822.42 1988.22L1816.81 1992.37L1811.19 1988.22L1811.19 1979.92ZM1790.23 2035.77L1795.85 2039.92L1795.85 2048.22L1790.23 2052.37L1784.62 2048.22L1784.62 2039.92Z"/>
<path fill="#3c0a63" d="M1827.44 1975.77L1833.06 1979.92L1833.06 1988.22L1827.44 1992.37L1821.83 1988.22L1821.83 1979.92ZM1838.07 2023.77L1843.68 2027.92L1843.68 2036.22L1838.07 2040.37L1832.45 2036.22L1832.45 2027.92Z"/>
<path fill="#5a116d" d="M1838.07 1975.77L1843.68 1979.92L1843.68 1988.22L1838.07 1992.37L1832.45 1988.22L1832.45 1979.92ZM1811.49 2011.77L1817.11 2015.92L1817.11 2024.22L1811.49 2028.37L1805.88 2024.22L1805.88 2015.92Z"/>
<path fill="#59116d" d="M1848.70 1975.77L1854.31 1979.92L1854.31 1988.22L1848.70 1992.37L1843.08 1988.22L1843.08 1979.92ZM1869.96 1975.77L1875.58 1979.92L1875.58 1988.22L1869.96 1992.37L1864.35 1988.22L1864.35 1979.92ZM1800.87 2011.77L1806.48 2015.92L1806.48 2024.22L1800.87 2028.37L1795.25 2024.22L1795.25 2015.92Z"/>
<path fill="#4c0d6a" d="M1859.33 1975.77L1864.94 1979.92L1864.94 1988.22L1859.33 1992.37L1853.71 1988.22L1853.71 1979.92ZM1763.66 2071.77L1769.27 2075.92L1769.27 2084.22L1763.66 2088.37L1758.04 2084.22L1758.04 2075.92ZM1747.71 2107.77L1753.33 2111.92L1753.33 2120.22L1747.71 2124.37L1742.10 2120.22L1742.10 2111.92Z"/>
<path fill="#370b5f" d="M1891.22 1975.77L1896.83 1979.92L1896.83 1988.22L1891.22 1992.37L1885.60 1988.22L1885.60 1979.92ZM1832.76 1987.77L1838.37 1991.92L1838.37 2000.22L1832.76 2004.37L1827.14 2000.22L1827.14 1991.92ZM1774.29 2119.77L1779.90 2123.92L1779.90 2132.22L1774.29 2136.37L1768.67 2132.22L1768.67 2123.92Z"/>
<path fill="#0c0825" d="M1912.48 1975.77L1918.10 1979.92L1918.10 1988.22L1912.48 1992.37L1906.87 1988.22L1906.87 1979.92ZM1901.85 1999.77L1907.46 2003.92L1907.46 2012.22L1901.85 2016.37L1896.23 2012.22L1896.23 2003.92ZM1864.64 2059.77L1870.26 2063.92L1870.26 2072.22L1864.64 2076.37L1859.03 2072.22L1859.03 2063.92ZM1678.62 2143.77L1684.23 2147.92L1684.23 2156.22L1678.62 2160.37L1673.00 2156.22L1673.00 2147.92ZM1662.67 2155.77L1668.29 2159.92L1668.29 2168.22L1662.67 2172.37L1657.06 2168.22L1657.06 2159.92ZM1747.71 2179.77L1753.33 2183.92L1753.33 2192.22L1747.71 2196.37L1742.10 2192.22L1742.10 2183.92ZM1699.88 2215.77L1705.49 2219.92L1705.49 2228.22L1699.88 2232.37L1694.26 2228.22L1694.26 2219.92Z"/>
<path fill="#0f092c" d="M1768.97 1987.77L1774.59 1991.92L1774.59 2000.22L1768.97 2004.37L1763.36 2000.22L1763.36 1991.92ZM1726.45 2179.77L1732.07 2183.92L1732.07 2192.22L1726.45 2196.37L1720.84 2192.22L1720.84 2183.92Z"/>
<path fill="#210b49" d="M1779.61 1987.77L1785.22 1991.92L1785.22 2000.22L1779.61 2004.37L1773.99 2000.22L1773.99 1991.92Z"/>
<path fill="#410a67" d="M1790.23 1987.77L1795.85 1991.92L1795.85 2000.22L1790.23 2004.37L1784.62 2000.22L1784.62 1991.92Z"/>
<path fill="#58116d" d="M1811.49 1987.77L1817.11 1991.92L1817.11 2000.22L1811.49 2004.37L1805.88 2000.22L1805.88 1991.92ZM1827.44 2023.77L1833.06 2027.92L1833.06 2036.22L1827.44 2040.37L1821.83 2036.22L1821.83 2027.92ZM1816.81 2047.77L1822.42 2051.92L1822.42 2060.22L1816.81 2064.37L1811.19 2060.22L1811.19 2051.92Z"/>
<path fill="#55106c" d="M1822.12 1987.77L1827.74 1991.92L1827.74 2000.22L1822.12 2004.37L1816.51 2000.22L1816.51 1991.92ZM1768.97 2059.77L1774.59 2063.92L1774.59 2072.22L1768.97 2076.37L1763.36 2072.22L1763.36 2063.92Z"/>
<path fill="#050312" d="M1928.42 1987.77L1934.04 1991.92L1934.04 2000.22L1928.42 2004.37L1922.81 2000.22L1922.81 1991.92ZM1864.64 2083.77L1870.26 2087.92L1870.26 2096.22L1864.64 2100.37L1859.03 2096.22L1859.03 2087.92ZM1859.33 2095.77L1864.94 2099.92L1864.94 2108.22L1859.33 2112.37L1853.71 2108.22L1853.71 2099.92ZM1758.35 2203.77L1763.96 2207.92L1763.96 2216.22L1758.35 2220.37L1752.73 2216.22L1752.73 2207.92Z"/>
<path fill="#340b5d" d="M1774.29 1999.77L1779.90 2003.92L1779.90 2012.22L1774.29 2016.37L1768.67 2012.22L1768.67 2003.92ZM1790.23 2107.77L1795.85 2111.92L1795.85 2120.22L1790.23 2124.37L1784.62 2120.22L1784.62 2111.92Z"/>
<path fill="#66156e" d="M1806.18 1999.77L1811.79 2003.92L1811.79 2012.22L1806.18 2016.37L1800.56 2012.22L1800.56 2003.92Z"/>
<path fill="#540f6c" d="M1816.81 1999.77L1822.42 2003.92L1822.42 2012.22L1816.81 2016.37L1811.19 2012.22L1811.19 2003.92ZM1811.49 2059.77L1817.11 2063.92L1817.11 2072.22L1811.49 2076.37L1805.88 2072.22L1805.88 2063.92Z"/>
<path fill="#63146e" d="M1827.44 1999.77L1833.06 2003.92L1833.06 2012.22L1827.44 2016.37L1821.83 2012.22L1821.83 2003.92ZM1822.12 2035.77L1827.74 2039.92L1827.74 2048.22L1822.12 2052.37L1816.51 2048.22L1816.51 2039.92ZM1790.23 2059.77L1795.85 2063.92L1795.85 2072.22L1790.23 2076.37L1784.62 2072.22L1784.62 2063.92Z"/>
<path fill="#6e186d" d="M1838.07 1999.77L1843.68 2003.92L1843.68 2012.22L1838.07 2016.37L1832.45 2012.22L1832.45 2003.92Z"/>
<path fill="#500e6b" d="M1848.70 1999.77L1854.31 2003.92L1854.31 2012.22L1848.70 2016.37L1843.08 2012.22L1843.08 2003.92Z"/>
<path fill="#450b69" d="M1859.33 1999.77L1864.94 2003.92L1864.94 2012.22L1859.33 2016.37L1853.71 2012.22L1853.71 2003.92Z"/>
<path fill="#230c4e" d="M1869.96 1999.77L1875.58 2003.92L1875.58 2012.22L1869.96 2016.37L1864.35 2012.22L1864.35 2003.92ZM1864.64 2011.77L1870.26 2015.92L1870.26 2024.22L1864.64 2028.37L1859.03 2024.22L1859.03 2015.92ZM1843.38 2059.77L1849.00 2063.92L1849.00 2072.22L1843.38 2076.37L1837.77 2072.22L1837.77 2063.92Z"/>
<path fill="#08051b" d="M1726.45 2011.77L1732.07 2015.92L1732.07 2024.22L1726.45 2028.37L1720.84 2024.22L1720.84 2015.92ZM1885.90 2035.77L1891.52 2039.92L1891.52 2048.22L1885.90 2052.37L1880.29 2048.22L1880.29 2039.92ZM1683.93 2083.77L1689.55 2087.92L1689.55 2096.22L1683.93 2100.37L1678.32 2096.22L1678.32 2087.92ZM1784.92 2167.77L1790.53 2171.92L1790.53 2180.22L1784.92 2184.37L1779.30 2180.22L1779.30 2171.92ZM1731.77 2215.77L1737.38 2219.92L1737.38 2228.22L1731.77 2232.37L1726.15 2228.22L1726.15 2219.92Z"/>
<path fill="#1b0a40" d="M1768.97 2011.77L1774.59 2015.92L1774.59 2024.22L1768.97 2028.37L1763.36 2024.22L1763.36 2015.92Z"/>
<path fill="#440b68" d="M1779.61 2011.77L1785.22 2015.92L1785.22 2024.22L1779.61 2028.37L1773.99 2024.22L1773.99 2015.92Z"/>
<path fill="#65156e" d="M1822.12 2011.77L1827.74 2015.92L1827.74 2024.22L1822.12 2028.37L1816.51 2024.22L1816.51 2015.92Z"/>
<path fill="#f67f13" d="M1832.76 2011.77L1838.37 2015.92L1838.37 2024.22L1832.76 2028.37L1827.14 2024.22L1827.14 2015.92Z"/>
<path fill="#5e136e" d="M1843.38 2011.77L1849.00 2015.92L1849.00 2024.22L1843.38 2028.37L1837.77 2024.22L1837.77 2015.92Z"/>
<path fill="#1c0b42" d="M1763.66 2023.77L1769.27 2027.92L1769.27 2036.22L1763.66 2040.37L1758.04 2036.22L1758.04 2027.92Z"/>
<path fill="#58106d" d="M1784.92 2023.77L1790.53 2027.92L1790.53 2036.22L1784.92 2040.37L1779.30 2036.22L1779.30 2027.92Z"/>
<path fill="#60136e" d="M1795.55 2023.77L1801.16 2027.92L1801.16 2036.22L1795.55 2040.37L1789.93 2036.22L1789.93 2027.92Z"/>
<path fill="#510e6b" d="M1806.18 2023.77L1811.79 2027.92L1811.79 2036.22L1806.18 2040.37L1800.56 2036.22L1800.56 2027.92Z"/>
<path fill="#932667" d="M1816.81 2023.77L1822.42 2027.92L1822.42 2036.22L1816.81 2040.37L1811.19 2036.22L1811.19 2027.92ZM1779.61 2083.77L1785.22 2087.92L1785.22 2096.22L1779.61 2100.37L1773.99 2096.22L1773.99 2087.92ZM1673.31 2203.77L1678.92 2207.92L1678.92 2216.22L1673.31 2220.37L1667.69 2216.22L1667.69 2207.92Z"/>
<path fill="#440a68" d="M1848.70 2023.77L1854.31 2027.92L1854.31 2036.22L1848.70 2040.37L1843.08 2036.22L1843.08 2027.92Z"/>
<path fill="#260c50" d="M1859.33 2023.77L1864.94 2027.92L1864.94 2036.22L1859.33 2040.37L1853.71 2036.22L1853.71 2027.92ZM1731.77 2167.77L1737.38 2171.92L1737.38 2180.22L1731.77 2184.37L1726.15 2180.22L1726.15 2171.92Z"/>
<path fill="#6c186d" d="M1811.49 2035.77L1817.11 2039.92L1817.11 2048.22L1811.49 2052.37L1805.88 2048.22L1805.88 2039.92Z"/>
<path fill="#dd513a" d="M1832.76 2035.77L1838.37 2039.92L1838.37 2048.22L1832.76 2052.37L1827.14 2048.22L1827.14 2039.92ZM1705.19 2107.77L1710.81 2111.92L1710.81 2120.22L1705.19 2124.37L1699.58 2120.22L1699.58 2111.92ZM1710.51 2167.77L1716.12 2171.92L1716.12 2180.22L1710.51 2184.37L1704.89 2180.22L1704.89 2171.92Z"/>
<path fill="#340b5c" d="M1854.01 2035.77L1859.63 2039.92L1859.63 2048.22L1854.01 2052.37L1848.40 2048.22L1848.40 2039.92ZM1784.92 2047.77L1790.53 2051.92L1790.53 2060.22L1784.92 2064.37L1779.30 2060.22L1779.30 2051.92Z"/>
<path fill="#130932" d="M1864.64 2035.77L1870.26 2039.92L1870.26 2048.22L1864.64 2052.37L1859.03 2048.22L1859.03 2039.92ZM1848.70 2071.77L1854.31 2075.92L1854.31 2084.22L1848.70 2088.37L1843.08 2084.22L1843.08 2075.92ZM1710.51 2095.77L1716.12 2099.92L1716.12 2108.22L1710.51 2112.37L1704.89 2108.22L1704.89 2099.92ZM1827.44 2095.77L1833.06 2099.92L1833.06 2108.22L1827.44 2112.37L1821.83 2108.22L1821.83 2099.92ZM1800.87 2107.77L1806.48 2111.92L1806.48 2120.22L1800.87 2124.37L1795.25 2120.22L1795.25 2111.92Z"/>
<path fill="#2e0b58" d="M1763.66 2047.77L1769.27 2051.92L1769.27 2060.22L1763.66 2064.37L1758.04 2060.22L1758.04 2051.92Z"/>
<path fill="#56106c" d="M1795.55 2047.77L1801.16 2051.92L1801.16 2060.22L1795.55 2064.37L1789.93 2060.22L1789.93 2051.92Z"/>
<path fill="#3f0a66" d="M1827.44 2047.77L1833.06 2051.92L1833.06 2060.22L1827.44 2064.37L1821.83 2060.22L1821.83 2051.92Z"/>
<path fill="#1e0b45" d="M1838.07 2047.77L1843.68 2051.92L1843.68 2060.22L1838.07 2064.37L1832.45 2060.22L1832.45 2051.92ZM1715.83 2083.77L1721.44 2087.92L1721.44 2096.22L1715.83 2100.37L1710.21 2096.22L1710.21 2087.92ZM1699.88 2167.77L1705.49 2171.92L1705.49 2180.22L1699.88 2184.37L1694.26 2180.22L1694.26 2171.92Z"/>
<path fill="#270c51" d="M1848.70 2047.77L1854.31 2051.92L1854.31 2060.22L1848.70 2064.37L1843.08 2060.22L1843.08 2051.92Z"/>
<path fill="#0d0827" d="M1859.33 2047.77L1864.94 2051.92L1864.94 2060.22L1859.33 2064.37L1853.71 2060.22L1853.71 2051.92ZM1705.19 2083.77L1710.81 2087.92L1710.81 2096.22L1705.19 2100.37L1699.58 2096.22L1699.58 2087.92ZM1662.67 2203.77L1668.29 2207.92L1668.29 2216.22L1662.67 2220.37L1657.06 2216.22L1657.06 2207.92Z"/>
<path fill="#400a66" d="M1758.35 2059.77L1763.96 2063.92L1763.96 2072.22L1758.35 2076.37L1752.73 2072.22L1752.73 2063.92ZM1742.40 2071.77L1748.01 2075.92L1748.01 2084.22L1742.40 2088.37L1736.78 2084.22L1736.78 2075.92Z"/>
<path fill="#67166e" d="M1779.61 2059.77L1785.22 2063.92L1785.22 2072.22L1779.61 2076.37L1773.99 2072.22L1773.99 2063.92Z"/>
<path fill="#4b0d6a" d="M1822.12 2059.77L1827.74 2063.92L1827.74 2072.22L1822.12 2076.37L1816.51 2072.22L1816.51 2063.92Z"/>
<path fill="#310b5a" d="M1774.29 2071.77L1779.90 2075.92L1779.90 2084.22L1774.29 2088.37L1768.67 2084.22L1768.67 2075.92Z"/>
<path fill="#3a0b61" d="M1784.92 2071.77L1790.53 2075.92L1790.53 2084.22L1784.92 2088.37L1779.30 2084.22L1779.30 2075.92Z"/>
<path fill="#230c4d" d="M1816.81 2071.77L1822.42 2075.92L1822.42 2084.22L1816.81 2088.37L1811.19 2084.22L1811.19 2075.92ZM1715.83 2155.77L1721.44 2159.92L1721.44 2168.22L1715.83 2172.37L1710.21 2168.22L1710.21 2159.92Z"/>
<path fill="#140933" d="M1838.07 2071.77L1843.68 2075.92L1843.68 2084.22L1838.07 2088.37L1832.45 2084.22L1832.45 2075.92Z"/>
<path fill="#2d0b56" d="M1737.09 2083.77L1742.70 2087.92L1742.70 2096.22L1737.09 2100.37L1731.47 2096.22L1731.47 2087.92ZM1715.83 2107.77L1721.44 2111.92L1721.44 2120.22L1715.83 2124.37L1710.21 2120.22L1710.21 2111.92Z"/>
<path fill="#3f0a65" d="M1768.97 2083.77L1774.59 2087.92L1774.59 2096.22L1768.97 2100.37L1763.36 2096.22L1763.36 2087.92Z"/>
<path fill="#1d0b44" d="M1811.49 2083.77L1817.11 2087.92L1817.11 2096.22L1811.49 2100.37L1805.88 2096.22L1805.88 2087.92Z"/>
<path fill="#1a0a3e" d="M1832.76 2083.77L1838.37 2087.92L1838.37 2096.22L1832.76 2100.37L1827.14 2096.22L1827.14 2087.92Z"/>
<path fill="#200b47" d="M1721.14 2095.77L1726.75 2099.92L1726.75 2108.22L1721.14 2112.37L1715.52 2108.22L1715.52 2099.92Z"/>
<path fill="#390b61" d="M1774.29 2095.77L1779.90 2099.92L1779.90 2108.22L1774.29 2112.37L1768.67 2108.22L1768.67 2099.92Z"/>
<path fill="#2d0b57" d="M1795.55 2095.77L1801.16 2099.92L1801.16 2108.22L1795.55 2112.37L1789.93 2108.22L1789.93 2099.92Z"/>
<path fill="#0e082a" d="M1816.81 2095.77L1822.42 2099.92L1822.42 2108.22L1816.81 2112.37L1811.19 2108.22L1811.19 2099.92Z"/>
<path fill="#070517" d="M1673.31 2107.77L1678.92 2111.92L1678.92 2120.22L1673.31 2124.37L1667.69 2120.22L1667.69 2111.92Z"/>
<path fill="#10092c" d="M1694.57 2107.77L1700.18 2111.92L1700.18 2120.22L1694.57 2124.37L1688.95 2120.22L1688.95 2111.92ZM1689.25 2143.77L1694.87 2147.92L1694.87 2156.22L1689.25 2160.37L1683.63 2156.22L1683.63 2147.92Z"/>
<path fill="#240c4e" d="M1779.61 2107.77L1785.22 2111.92L1785.22 2120.22L1779.61 2124.37L1773.99 2120.22L1773.99 2111.92Z"/>
<path fill="#0d0829" d="M1811.49 2107.77L1817.11 2111.92L1817.11 2120.22L1811.49 2124.37L1805.88 2120.22L1805.88 2111.92Z"/>
<path fill="#280c52" d="M1710.51 2119.77L1716.12 2123.92L1716.12 2132.22L1710.51 2136.37L1704.89 2132.22L1704.89 2123.92Z"/>
<path fill="#1b0a3f" d="M1721.14 2119.77L1726.75 2123.92L1726.75 2132.22L1721.14 2136.37L1715.52 2132.22L1715.52 2123.92ZM1678.62 2167.77L1684.23 2171.92L1684.23 2180.22L1678.62 2184.37L1673.00 2180.22L1673.00 2171.92Z"/>
<path fill="#320b5b" d="M1763.66 2119.77L1769.27 2123.92L1769.27 2132.22L1763.66 2136.37L1758.04 2132.22L1758.04 2123.92ZM1753.03 2143.77L1758.64 2147.92L1758.64 2156.22L1753.03 2160.37L1747.41 2156.22L1747.41 2147.92Z"/>
<path fill="#0a061f" d="M1673.31 2131.77L1678.92 2135.92L1678.92 2144.22L1673.31 2148.37L1667.69 2144.22L1667.69 2135.92ZM1742.40 2191.77L1748.01 2195.92L1748.01 2204.22L1742.40 2208.37L1736.78 2204.22L1736.78 2195.92Z"/>
<path fill="#0f082a" d="M1683.93 2131.77L1689.55 2135.92L1689.55 2144.22L1683.93 2148.37L1678.32 2144.22L1678.32 2135.92Z"/>
<path fill="#f2771a" d="M1705.19 2131.77L1710.81 2135.92L1710.81 2144.22L1705.19 2148.37L1699.58 2144.22L1699.58 2135.92Z"/>
<path fill="#3d0a63" d="M1747.71 2131.77L1753.33 2135.92L1753.33 2144.22L1747.71 2148.37L1742.10 2144.22L1742.10 2135.92Z"/>
<path fill="#150a35" d="M1779.61 2131.77L1785.22 2135.92L1785.22 2144.22L1779.61 2148.37L1773.99 2144.22L1773.99 2135.92Z"/>
<path fill="#0c0826" d="M1800.87 2131.77L1806.48 2135.92L1806.48 2144.22L1800.87 2148.37L1795.25 2144.22L1795.25 2135.92Z"/>
<path fill="#060415" d="M1811.49 2131.77L1817.11 2135.92L1817.11 2144.22L1811.49 2148.37L1805.88 2144.22L1805.88 2135.92ZM1763.66 2191.77L1769.27 2195.92L1769.27 2204.22L1763.66 2208.37L1758.04 2204.22L1758.04 2195.92ZM1683.93 2251.77L1689.55 2255.92L1689.55 2264.22L1683.93 2268.37L1678.32 2264.22L1678.32 2255.92Z"/>
<path fill="#250c4f" d="M1710.51 2143.77L1716.12 2147.92L1716.12 2156.22L1710.51 2160.37L1704.89 2156.22L1704.89 2147.92Z"/>
<path fill="#120931" d="M1784.92 2143.77L1790.53 2147.92L1790.53 2156.22L1784.92 2160.37L1779.30 2156.22L1779.30 2147.92Z"/>
<path fill="#0a0620" d="M1795.55 2143.77L1801.16 2147.92L1801.16 2156.22L1795.55 2160.37L1789.93 2156.22L1789.93 2147.92Z"/>
<path fill="#070417" d="M1652.05 2155.77L1657.66 2159.92L1657.66 2168.22L1652.05 2172.37L1646.43 2168.22L1646.43 2159.92ZM1705.19 2227.77L1710.81 2231.92L1710.81 2240.22L1705.19 2244.37L1699.58 2240.22L1699.58 2231.92Z"/>
<path fill="#130931" d="M1673.31 2155.77L1678.92 2159.92L1678.92 2168.22L1673.31 2172.37L1667.69 2168.22L1667.69 2159.92Z"/>
<path fill="#fafb9a" d="M1705.19 2155.77L1710.81 2159.92L1710.81 2168.22L1705.19 2172.37L1699.58 2168.22L1699.58 2159.92Z"/>
<path fill="#160a38" d="M1726.45 2155.77L1732.07 2159.92L1732.07 2168.22L1726.45 2172.37L1720.84 2168.22L1720.84 2159.92ZM1742.40 2167.77L1748.01 2171.92L1748.01 2180.22L1742.40 2184.37L1736.78 2180.22L1736.78 2171.92Z"/>
<path fill="#160a37" d="M1689.25 2167.77L1694.87 2171.92L1694.87 2180.22L1689.25 2184.37L1683.63 2180.22L1683.63 2171.92Z"/>
<path fill="#cc4348" d="M1694.57 2179.77L1700.18 2183.92L1700.18 2192.22L1694.57 2196.37L1688.95 2192.22L1688.95 2183.92Z"/>
<path fill="#fabe24" d="M1705.19 2179.77L1710.81 2183.92L1710.81 2192.22L1705.19 2196.37L1699.58 2192.22L1699.58 2183.92Z"/>
<path fill="#d64b3f" d="M1689.25 2191.77L1694.87 2195.92L1694.87 2204.22L1689.25 2208.37L1683.63 2204.22L1683.63 2195.92Z"/>
<path fill="#a72e5f" d="M1699.88 2191.77L1705.49 2195.92L1705.49 2204.22L1699.88 2208.37L1694.26 2204.22L1694.26 2195.92ZM1683.93 2227.77L1689.55 2231.92L1689.55 2240.22L1683.93 2244.37L1678.32 2240.22L1678.32 2231.92Z"/>
</g>
<line x1="1388.49" y1="1118.06" x2="1988.27" y2="322.60" stroke="#FFA500" stroke-width="5.8"/>
<line x1="1204.48" y1="1353.38" x2="2178.01" y2="73.78" stroke="#ADD8E6" stroke-width="3.0" clip-path="url(#clb)"/>
<line x1="142.67" y1="2277.46" x2="369.22" y2="1984.72" stroke="#FFA500" stroke-width="5.8"/>
<line x1="109.91" y1="2322.95" x2="702.00" y2="1550.90" stroke="#ADD8E6" stroke-width="3.0" clip-path="url(#clc)"/>
<line x1="956.49" y1="2170.16" x2="1402.64" y2="1610.21" stroke="#FFA500" stroke-width="5.8"/>
<line x1="821.48" y1="2353.51" x2="1459.64" y2="1522.85" stroke="#ADD8E6" stroke-width="3.0" clip-path="url(#cld)"/>
<line x1="1616.06" y1="2276.17" x2="1931.36" y2="1868.16" stroke="#FFA500" stroke-width="5.8"/>
<line x1="1555.17" y1="2354.11" x2="2193.63" y2="1522.29" stroke="#ADD8E6" stroke-width="3.0" clip-path="url(#cle)"/>
<rect x="1948.7" y="844" width="58.30" height="293.30" fill="url(#cb)"/>
<line x1="1948.7" y1="1082.68" x2="1960.36" y2="1082.68" stroke="#fff" stroke-width="1.3" opacity="0.8"/>
<line x1="1995.34" y1="1082.68" x2="2007" y2="1082.68" stroke="#fff" stroke-width="1.3" opacity="0.8"/>
<text x="2024.50" y="1093.28" font-size="30" fill="#000">50</text>
<line x1="1948.7" y1="1028.06" x2="1960.36" y2="1028.06" stroke="#fff" stroke-width="1.3" opacity="0.8"/>
<line x1="1995.34" y1="1028.06" x2="2007" y2="1028.06" stroke="#fff" stroke-width="1.3" opacity="0.8"/>
<text x="2024.50" y="1038.66" font-size="30" fill="#000">100</text>
<line x1="1948.7" y1="973.45" x2="1960.36" y2="973.45" stroke="#fff" stroke-width="1.3" opacity="0.8"/>
<line x1="1995.34" y1="973.45" x2="2007" y2="973.45" stroke="#fff" stroke-width="1.3" opacity="0.8"/>
<text x="2024.50" y="984.05" font-size="30" fill="#000">150</text>
<line x1="1948.7" y1="918.83" x2="1960.36" y2="918.83" stroke="#fff" stroke-width="1.3" opacity="0.8"/>
<line x1="1995.34" y1="918.83" x2="2007" y2="918.83" stroke="#fff" stroke-width="1.3" opacity="0.8"/>
<text x="2024.50" y="929.43" font-size="30" fill="#000">200</text>
<line x1="1948.7" y1="864.21" x2="1960.36" y2="864.21" stroke="#fff" stroke-width="1.3" opacity="0.8"/>
<line x1="1995.34" y1="864.21" x2="2007" y2="864.21" stroke="#fff" stroke-width="1.3" opacity="0.8"/>
<text x="2024.50" y="874.81" font-size="30" fill="#000">250</text>
<text x="1947.70" y="819.3" font-size="37.5" fill="#000">N = 6708</text>
<rect x="523.9" y="1970" width="58.80" height="293.90" fill="url(#cb)"/>
<line x1="523.9" y1="2181.27" x2="535.66" y2="2181.27" stroke="#fff" stroke-width="1.3" opacity="0.8"/>
<line x1="570.94" y1="2181.27" x2="582.7" y2="2181.27" stroke="#fff" stroke-width="1.3" opacity="0.8"/>
<text x="600.20" y="2191.87" font-size="30" fill="#000">2000</text>
<line x1="523.9" y1="2098.65" x2="535.66" y2="2098.65" stroke="#fff" stroke-width="1.3" opacity="0.8"/>
<line x1="570.94" y1="2098.65" x2="582.7" y2="2098.65" stroke="#fff" stroke-width="1.3" opacity="0.8"/>
<text x="600.20" y="2109.25" font-size="30" fill="#000">4000</text>
<line x1="523.9" y1="2016.02" x2="535.66" y2="2016.02" stroke="#fff" stroke-width="1.3" opacity="0.8"/>
<line x1="570.94" y1="2016.02" x2="582.7" y2="2016.02" stroke="#fff" stroke-width="1.3" opacity="0.8"/>
<text x="600.20" y="2026.62" font-size="30" fill="#000">6000</text>
<text x="522.90" y="1945.3" font-size="37.5" fill="#000">N = 37322</text>
<rect x="1258.4" y="1970" width="58.80" height="293.90" fill="url(#cb)"/>
<line x1="1258.4" y1="2183.71" x2="1270.16" y2="2183.71" stroke="#fff" stroke-width="1.3" opacity="0.8"/>
<line x1="1305.44" y1="2183.71" x2="1317.2" y2="2183.71" stroke="#fff" stroke-width="1.3" opacity="0.8"/>
<text x="1334.70" y="2194.31" font-size="30" fill="#000">200</text>
<line x1="1258.4" y1="2103.52" x2="1270.16" y2="2103.52" stroke="#fff" stroke-width="1.3" opacity="0.8"/>
<line x1="1305.44" y1="2103.52" x2="1317.2" y2="2103.52" stroke="#fff" stroke-width="1.3" opacity="0.8"/>
<text x="1334.70" y="2114.12" font-size="30" fill="#000">400</text>
<line x1="1258.4" y1="2023.33" x2="1270.16" y2="2023.33" stroke="#fff" stroke-width="1.3" opacity="0.8"/>
<line x1="1305.44" y1="2023.33" x2="1317.2" y2="2023.33" stroke="#fff" stroke-width="1.3" opacity="0.8"/>
<text x="1334.70" y="2033.93" font-size="30" fill="#000">600</text>
<text x="1257.40" y="1945.3" font-size="37.5" fill="#000">N = 40672</text>
<rect x="1992.9" y="1970" width="58.90" height="293.90" fill="url(#cb)"/>
<line x1="1992.9" y1="2196.34" x2="2004.68" y2="2196.34" stroke="#fff" stroke-width="1.3" opacity="0.8"/>
<line x1="2040.02" y1="2196.34" x2="2051.8" y2="2196.34" stroke="#fff" stroke-width="1.3" opacity="0.8"/>
<text x="2069.30" y="2206.94" font-size="30" fill="#000">100</text>
<line x1="1992.9" y1="2128.77" x2="2004.68" y2="2128.77" stroke="#fff" stroke-width="1.3" opacity="0.8"/>
<line x1="2040.02" y1="2128.77" x2="2051.8" y2="2128.77" stroke="#fff" stroke-width="1.3" opacity="0.8"/>
<text x="2069.30" y="2139.37" font-size="30" fill="#000">200</text>
<line x1="1992.9" y1="2061.21" x2="2004.68" y2="2061.21" stroke="#fff" stroke-width="1.3" opacity="0.8"/>
<line x1="2040.02" y1="2061.21" x2="2051.8" y2="2061.21" stroke="#fff" stroke-width="1.3" opacity="0.8"/>
<text x="2069.30" y="2071.81" font-size="30" fill="#000">300</text>
<line x1="1992.9" y1="1993.65" x2="2004.68" y2="1993.65" stroke="#fff" stroke-width="1.3" opacity="0.8"/>
<line x1="2040.02" y1="1993.65" x2="2051.8" y2="1993.65" stroke="#fff" stroke-width="1.3" opacity="0.8"/>
<text x="2069.30" y="2004.25" font-size="30" fill="#000">400</text>
<text x="1991.90" y="1945.3" font-size="37.5" fill="#000">N = 19107</text>
</svg>
</body></html>
